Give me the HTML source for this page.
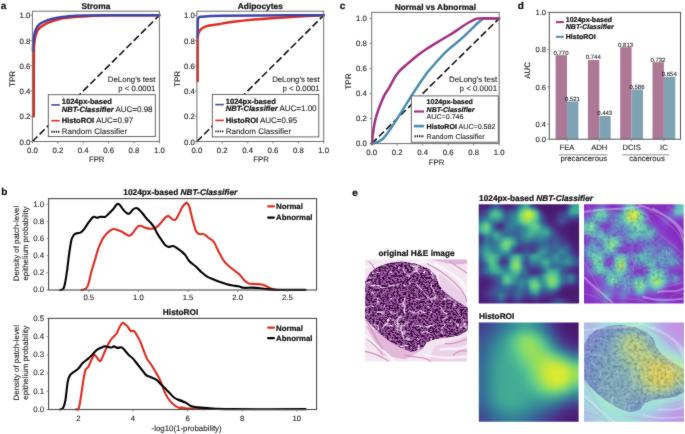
<!DOCTYPE html><html><head><meta charset="utf-8"><style>html,body{margin:0;padding:0;background:#fff;}svg{display:block;will-change:transform;}text{font-family:"Liberation Sans", sans-serif;text-rendering:geometricPrecision;}text{stroke:#222;stroke-width:0.1px;}text[font-weight="bold"],tspan[font-weight="bold"]{stroke:#111;stroke-width:0.22px;}</style></head><body>
<svg width="685" height="434" viewBox="0 0 685 434">
<defs><filter id="soft" x="0" y="0" width="685" height="434" filterUnits="userSpaceOnUse" color-interpolation-filters="sRGB"><feConvolveMatrix order="3" kernelMatrix="0.25 0.6 0.25 0.6 7 0.6 0.25 0.6 0.25" divisor="10.4" edgeMode="duplicate" preserveAlpha="false"/></filter></defs>
<g filter="url(#soft)">
<rect width="685" height="434" fill="#fff"/>
<line x1="32.4" y1="141.5" x2="159.4" y2="15.3" stroke="#111" stroke-width="1.6" stroke-dasharray="7.1,3.1"/>
<path d="M33.8,116.26 C33.8,107.85 33.78,76.3 33.8,65.78 C33.82,55.26 33.86,56.74 33.92,53.16 C33.99,49.58 33.92,47.19 34.18,44.33 C34.43,41.47 34.6,38.69 35.45,36 C36.29,33.3 37.1,30.4 39.26,28.17 C41.42,25.94 45.35,24.07 48.4,22.62 C51.45,21.17 54.46,20.28 57.55,19.46 C60.64,18.64 61.5,18.29 66.94,17.7 C72.38,17.11 83.24,16.33 90.19,15.93 C97.13,15.53 97.06,15.41 108.6,15.3 C120.14,15.19 150.93,15.3 159.4,15.3" fill="none" stroke="#e12b1d" stroke-width="2.5" stroke-linejoin="round" stroke-linecap="round" />
<path d="M32.91,50.64 C32.99,48.95 33.23,42.83 33.42,40.54 C33.61,38.25 33.71,38.56 34.05,36.88 C34.39,35.2 34.58,32.53 35.45,30.44 C36.32,28.36 37.1,26.15 39.26,24.39 C41.42,22.62 45.35,20.96 48.4,19.84 C51.45,18.73 54.46,18.27 57.55,17.7 C60.64,17.13 62.67,16.79 66.94,16.44 C71.22,16.08 74.14,15.74 83.2,15.55 C92.26,15.36 108.6,15.34 121.3,15.3 C134,15.26 153.05,15.3 159.4,15.3" fill="none" stroke="#3b44ad" stroke-width="2.5" stroke-linejoin="round" stroke-linecap="round" />
<rect x="32.4" y="11.2" width="127" height="130.3" fill="none" stroke="#6e6e6e" stroke-width="1"/>
<line x1="32.4" y1="141.5" x2="32.4" y2="143.5" stroke="#6e6e6e" stroke-width="0.8"/>
<text x="32.4" y="152.6" font-size="7.8" text-anchor="middle" fill="#1c1c1c" >0.0</text>
<line x1="57.8" y1="141.5" x2="57.8" y2="143.5" stroke="#6e6e6e" stroke-width="0.8"/>
<text x="57.8" y="152.6" font-size="7.8" text-anchor="middle" fill="#1c1c1c" >0.2</text>
<line x1="83.2" y1="141.5" x2="83.2" y2="143.5" stroke="#6e6e6e" stroke-width="0.8"/>
<text x="83.2" y="152.6" font-size="7.8" text-anchor="middle" fill="#1c1c1c" >0.4</text>
<line x1="108.6" y1="141.5" x2="108.6" y2="143.5" stroke="#6e6e6e" stroke-width="0.8"/>
<text x="108.6" y="152.6" font-size="7.8" text-anchor="middle" fill="#1c1c1c" >0.6</text>
<line x1="134" y1="141.5" x2="134" y2="143.5" stroke="#6e6e6e" stroke-width="0.8"/>
<text x="134" y="152.6" font-size="7.8" text-anchor="middle" fill="#1c1c1c" >0.8</text>
<line x1="159.4" y1="141.5" x2="159.4" y2="143.5" stroke="#6e6e6e" stroke-width="0.8"/>
<text x="159.4" y="152.6" font-size="7.8" text-anchor="middle" fill="#1c1c1c" >1.0</text>
<line x1="30.4" y1="141.5" x2="32.4" y2="141.5" stroke="#6e6e6e" stroke-width="0.8"/>
<text x="30.4" y="144.6" font-size="7.8" text-anchor="end" fill="#1c1c1c" >0.0</text>
<line x1="30.4" y1="116.26" x2="32.4" y2="116.26" stroke="#6e6e6e" stroke-width="0.8"/>
<text x="30.4" y="119.36" font-size="7.8" text-anchor="end" fill="#1c1c1c" >0.2</text>
<line x1="30.4" y1="91.02" x2="32.4" y2="91.02" stroke="#6e6e6e" stroke-width="0.8"/>
<text x="30.4" y="94.12" font-size="7.8" text-anchor="end" fill="#1c1c1c" >0.4</text>
<line x1="30.4" y1="65.78" x2="32.4" y2="65.78" stroke="#6e6e6e" stroke-width="0.8"/>
<text x="30.4" y="68.88" font-size="7.8" text-anchor="end" fill="#1c1c1c" >0.6</text>
<line x1="30.4" y1="40.54" x2="32.4" y2="40.54" stroke="#6e6e6e" stroke-width="0.8"/>
<text x="30.4" y="43.64" font-size="7.8" text-anchor="end" fill="#1c1c1c" >0.8</text>
<line x1="30.4" y1="15.3" x2="32.4" y2="15.3" stroke="#6e6e6e" stroke-width="0.8"/>
<text x="30.4" y="18.4" font-size="7.8" text-anchor="end" fill="#1c1c1c" >1.0</text>
<text x="95.9" y="9.3" font-size="8.4" text-anchor="middle" font-weight="bold" fill="#111" >Stroma</text>
<text x="96.7" y="162" font-size="7.8" text-anchor="middle" fill="#1c1c1c" >FPR</text>
<text transform="translate(15.1,78.9) rotate(-90)" font-size="8.1" text-anchor="middle" fill="#1c1c1c">TPR</text>
<text x="155.4" y="81.9" font-size="7.8" text-anchor="end" fill="#1c1c1c" >DeLong&#8217;s test</text>
<text x="155.4" y="90.9" font-size="7.8" text-anchor="end" fill="#1c1c1c" >p &lt; 0.0001</text>
<rect x="48.3" y="94.7" width="107" height="41.9" fill="#fff" stroke="#555" stroke-width="0.9"/>
<line x1="51.3" y1="104.9" x2="59.8" y2="104.9" stroke="#3b44ad" stroke-width="1.6"/>
<text x="61.7" y="103.9" font-size="7.6" text-anchor="start" font-weight="bold" fill="#111" >1024px-based</text>
<text x="61.7" y="111.6" font-size="7.6" fill="#111"><tspan font-weight="bold" font-style="italic">NBT-Classifier</tspan><tspan fill="#1c1c1c" font-size="8"> AUC=0.98</tspan></text>
<line x1="51.3" y1="120.7" x2="59.8" y2="120.7" stroke="#e12b1d" stroke-width="1.6"/>
<text x="61.7" y="123.2" font-size="7.6" fill="#111"><tspan font-weight="bold">HistoROI</tspan><tspan fill="#1c1c1c" font-size="8"> AUC=0.97</tspan></text>
<line x1="51.3" y1="131.7" x2="59.8" y2="131.7" stroke="#111" stroke-width="1.9" stroke-dasharray="1.3,0.95"/>
<text x="61.7" y="134.2" font-size="8.0" text-anchor="start" fill="#1c1c1c" >Random Classifier</text>
<line x1="196.9" y1="141.5" x2="323.7" y2="15.3" stroke="#111" stroke-width="1.6" stroke-dasharray="7.1,3.1"/>
<path d="M197.66,80.92 C197.66,74.19 197.62,48.01 197.66,40.54 C197.7,33.07 197.79,37.34 197.91,36.12 C198.04,34.9 198.02,34.23 198.42,33.22 C198.82,32.21 199.56,30.97 200.32,30.07 C201.08,29.16 201.78,28.49 202.99,27.79 C204.19,27.1 205.54,26.43 207.55,25.9 C209.56,25.37 212.62,25.02 215.03,24.64 C217.44,24.26 218.96,24.09 222.01,23.63 C225.05,23.17 227.94,22.54 233.29,21.86 C238.64,21.19 247.75,20.2 254.09,19.59 C260.43,18.98 263.96,18.71 271.33,18.2 C278.71,17.7 289.61,17.05 298.34,16.56 C307.07,16.08 319.47,15.51 323.7,15.3" fill="none" stroke="#e12b1d" stroke-width="2.5" stroke-linejoin="round" stroke-linecap="round" />
<path d="M197.66,36.75 C197.68,34.23 197.66,24.72 197.79,21.61 C197.91,18.5 198,18.9 198.42,18.08 C198.84,17.26 198.34,17.02 200.32,16.69 C202.31,16.35 206.73,16.23 210.34,16.06 C213.95,15.89 213.68,15.78 222.01,15.68 C230.33,15.57 243.35,15.49 260.3,15.43 C277.25,15.36 313.13,15.32 323.7,15.3" fill="none" stroke="#3b44ad" stroke-width="2.5" stroke-linejoin="round" stroke-linecap="round" />
<rect x="196.9" y="11.2" width="126.8" height="130.3" fill="none" stroke="#6e6e6e" stroke-width="1"/>
<line x1="196.9" y1="141.5" x2="196.9" y2="143.5" stroke="#6e6e6e" stroke-width="0.8"/>
<text x="196.9" y="152.6" font-size="7.8" text-anchor="middle" fill="#1c1c1c" >0.0</text>
<line x1="222.26" y1="141.5" x2="222.26" y2="143.5" stroke="#6e6e6e" stroke-width="0.8"/>
<text x="222.26" y="152.6" font-size="7.8" text-anchor="middle" fill="#1c1c1c" >0.2</text>
<line x1="247.62" y1="141.5" x2="247.62" y2="143.5" stroke="#6e6e6e" stroke-width="0.8"/>
<text x="247.62" y="152.6" font-size="7.8" text-anchor="middle" fill="#1c1c1c" >0.4</text>
<line x1="272.98" y1="141.5" x2="272.98" y2="143.5" stroke="#6e6e6e" stroke-width="0.8"/>
<text x="272.98" y="152.6" font-size="7.8" text-anchor="middle" fill="#1c1c1c" >0.6</text>
<line x1="298.34" y1="141.5" x2="298.34" y2="143.5" stroke="#6e6e6e" stroke-width="0.8"/>
<text x="298.34" y="152.6" font-size="7.8" text-anchor="middle" fill="#1c1c1c" >0.8</text>
<line x1="323.7" y1="141.5" x2="323.7" y2="143.5" stroke="#6e6e6e" stroke-width="0.8"/>
<text x="323.7" y="152.6" font-size="7.8" text-anchor="middle" fill="#1c1c1c" >1.0</text>
<line x1="194.9" y1="141.5" x2="196.9" y2="141.5" stroke="#6e6e6e" stroke-width="0.8"/>
<text x="194.9" y="144.6" font-size="7.8" text-anchor="end" fill="#1c1c1c" >0.0</text>
<line x1="194.9" y1="116.26" x2="196.9" y2="116.26" stroke="#6e6e6e" stroke-width="0.8"/>
<text x="194.9" y="119.36" font-size="7.8" text-anchor="end" fill="#1c1c1c" >0.2</text>
<line x1="194.9" y1="91.02" x2="196.9" y2="91.02" stroke="#6e6e6e" stroke-width="0.8"/>
<text x="194.9" y="94.12" font-size="7.8" text-anchor="end" fill="#1c1c1c" >0.4</text>
<line x1="194.9" y1="65.78" x2="196.9" y2="65.78" stroke="#6e6e6e" stroke-width="0.8"/>
<text x="194.9" y="68.88" font-size="7.8" text-anchor="end" fill="#1c1c1c" >0.6</text>
<line x1="194.9" y1="40.54" x2="196.9" y2="40.54" stroke="#6e6e6e" stroke-width="0.8"/>
<text x="194.9" y="43.64" font-size="7.8" text-anchor="end" fill="#1c1c1c" >0.8</text>
<line x1="194.9" y1="15.3" x2="196.9" y2="15.3" stroke="#6e6e6e" stroke-width="0.8"/>
<text x="194.9" y="18.4" font-size="7.8" text-anchor="end" fill="#1c1c1c" >1.0</text>
<text x="260.3" y="9.3" font-size="8.4" text-anchor="middle" font-weight="bold" fill="#111" >Adipocytes</text>
<text x="261.1" y="162" font-size="7.8" text-anchor="middle" fill="#1c1c1c" >FPR</text>
<text transform="translate(179.6,78.9) rotate(-90)" font-size="8.1" text-anchor="middle" fill="#1c1c1c">TPR</text>
<text x="319.7" y="81.9" font-size="7.8" text-anchor="end" fill="#1c1c1c" >DeLong&#8217;s test</text>
<text x="319.7" y="90.9" font-size="7.8" text-anchor="end" fill="#1c1c1c" >p &lt; 0.0001</text>
<rect x="212.3" y="94.4" width="106.5" height="42.5" fill="#fff" stroke="#555" stroke-width="0.9"/>
<line x1="215.3" y1="104.6" x2="223.8" y2="104.6" stroke="#3b44ad" stroke-width="1.6"/>
<text x="225.7" y="103.6" font-size="7.6" text-anchor="start" font-weight="bold" fill="#111" >1024px-based</text>
<text x="225.7" y="111.3" font-size="7.6" fill="#111"><tspan font-weight="bold" font-style="italic">NBT-Classifier</tspan><tspan fill="#1c1c1c" font-size="8"> AUC=1.00</tspan></text>
<line x1="215.3" y1="120.4" x2="223.8" y2="120.4" stroke="#e12b1d" stroke-width="1.6"/>
<text x="225.7" y="122.9" font-size="7.6" fill="#111"><tspan font-weight="bold">HistoROI</tspan><tspan fill="#1c1c1c" font-size="8"> AUC=0.95</tspan></text>
<line x1="215.3" y1="131.4" x2="223.8" y2="131.4" stroke="#111" stroke-width="1.9" stroke-dasharray="1.3,0.95"/>
<text x="225.7" y="133.9" font-size="8.0" text-anchor="start" fill="#1c1c1c" >Random Classifier</text>
<text x="0.8" y="9.2" font-size="10.0" text-anchor="start" font-weight="bold" fill="#111" >a</text>
<text x="339.8" y="9.2" font-size="10.0" text-anchor="start" font-weight="bold" fill="#111" >c</text>
<text x="517.8" y="9.2" font-size="10.0" text-anchor="start" font-weight="bold" fill="#111" >d</text>
<text x="1.2" y="194.8" font-size="10.0" text-anchor="start" font-weight="bold" fill="#111" >b</text>
<text x="352.3" y="195.5" font-size="10.0" text-anchor="start" font-weight="bold" fill="#111" >e</text>
<line x1="371.7" y1="143.6" x2="499.2" y2="18.4" stroke="#111" stroke-width="1.6" stroke-dasharray="7.1,3.1"/>
<path d="M371.7,143.6 C371.81,143.58 371.27,143.77 372.34,143.47 C373.4,143.18 376.31,142.64 378.07,141.85 C379.84,141.05 381.33,140.18 382.92,138.72 C384.51,137.26 385.77,135.63 387.64,133.08 C389.51,130.54 391.7,127.2 394.14,123.44 C396.58,119.69 399.6,114.85 402.3,110.55 C405,106.25 407.65,101.87 410.33,97.65 C413.01,93.44 415.67,89.28 418.37,85.26 C421.06,81.23 424.59,76.14 426.52,73.49 C428.46,70.84 428.03,71.61 429.97,69.36 C431.9,67.1 435.43,62.93 438.13,59.97 C440.83,57 443.48,54.12 446.16,51.58 C448.84,49.03 451.49,46.99 454.19,44.69 C456.89,42.4 459.67,40.21 462.35,37.81 C465.03,35.41 467.58,32.84 470.26,30.29 C472.94,27.75 476.25,24.45 478.42,22.53 C480.59,20.61 482.03,19.46 483.26,18.78 C484.5,18.09 483.16,18.46 485.81,18.4 C488.47,18.34 496.97,18.4 499.2,18.4" fill="none" stroke="#4a8db0" stroke-width="2.5" stroke-linejoin="round" stroke-linecap="round" />
<path d="M371.7,143.6 C371.74,143.45 371.76,144.21 371.95,142.72 C372.15,141.24 372.51,137.4 372.85,134.71 C373.19,132.02 373.53,129.26 374,126.57 C374.46,123.88 374.97,121.23 375.65,118.56 C376.33,115.89 377.14,113.24 378.07,110.55 C379.01,107.86 380.2,104.98 381.26,102.41 C382.32,99.84 383.09,97.67 384.45,95.15 C385.81,92.62 387.81,90.04 389.42,87.26 C391.04,84.48 392.55,81.1 394.14,78.5 C395.73,75.89 396.82,74.01 398.99,71.61 C401.15,69.21 403.91,66.91 407.14,64.1 C410.38,61.28 415.13,57.23 418.37,54.71 C421.6,52.18 423.23,51.1 426.52,48.95 C429.82,46.8 434.86,43.79 438.13,41.81 C441.4,39.83 443.48,38.66 446.16,37.05 C448.84,35.45 451.49,33.92 454.19,32.17 C456.89,30.42 459.93,28.14 462.35,26.54 C464.77,24.93 466.58,23.74 468.73,22.53 C470.87,21.32 473.55,19.97 475.23,19.28 C476.91,18.59 474.8,18.55 478.8,18.4 C482.79,18.25 495.8,18.4 499.2,18.4" fill="none" stroke="#a22f7f" stroke-width="2.5" stroke-linejoin="round" stroke-linecap="round" />
<rect x="371.7" y="12.4" width="127.5" height="131.2" fill="none" stroke="#6e6e6e" stroke-width="1"/>
<line x1="371.7" y1="143.6" x2="371.7" y2="145.6" stroke="#6e6e6e" stroke-width="0.8"/>
<text x="371.7" y="154.6" font-size="7.8" text-anchor="middle" fill="#1c1c1c" >0.0</text>
<line x1="397.2" y1="143.6" x2="397.2" y2="145.6" stroke="#6e6e6e" stroke-width="0.8"/>
<text x="397.2" y="154.6" font-size="7.8" text-anchor="middle" fill="#1c1c1c" >0.2</text>
<line x1="422.7" y1="143.6" x2="422.7" y2="145.6" stroke="#6e6e6e" stroke-width="0.8"/>
<text x="422.7" y="154.6" font-size="7.8" text-anchor="middle" fill="#1c1c1c" >0.4</text>
<line x1="448.2" y1="143.6" x2="448.2" y2="145.6" stroke="#6e6e6e" stroke-width="0.8"/>
<text x="448.2" y="154.6" font-size="7.8" text-anchor="middle" fill="#1c1c1c" >0.6</text>
<line x1="473.7" y1="143.6" x2="473.7" y2="145.6" stroke="#6e6e6e" stroke-width="0.8"/>
<text x="473.7" y="154.6" font-size="7.8" text-anchor="middle" fill="#1c1c1c" >0.8</text>
<line x1="499.2" y1="143.6" x2="499.2" y2="145.6" stroke="#6e6e6e" stroke-width="0.8"/>
<text x="499.2" y="154.6" font-size="7.8" text-anchor="middle" fill="#1c1c1c" >1.0</text>
<line x1="369.7" y1="143.6" x2="371.7" y2="143.6" stroke="#6e6e6e" stroke-width="0.8"/>
<text x="366.8" y="146.4" font-size="7.8" text-anchor="end" fill="#1c1c1c" >0.0</text>
<line x1="369.7" y1="118.56" x2="371.7" y2="118.56" stroke="#6e6e6e" stroke-width="0.8"/>
<text x="366.8" y="121.36" font-size="7.8" text-anchor="end" fill="#1c1c1c" >0.2</text>
<line x1="369.7" y1="93.52" x2="371.7" y2="93.52" stroke="#6e6e6e" stroke-width="0.8"/>
<text x="366.8" y="96.32" font-size="7.8" text-anchor="end" fill="#1c1c1c" >0.4</text>
<line x1="369.7" y1="68.48" x2="371.7" y2="68.48" stroke="#6e6e6e" stroke-width="0.8"/>
<text x="366.8" y="71.28" font-size="7.8" text-anchor="end" fill="#1c1c1c" >0.6</text>
<line x1="369.7" y1="43.44" x2="371.7" y2="43.44" stroke="#6e6e6e" stroke-width="0.8"/>
<text x="366.8" y="46.24" font-size="7.8" text-anchor="end" fill="#1c1c1c" >0.8</text>
<line x1="369.7" y1="18.4" x2="371.7" y2="18.4" stroke="#6e6e6e" stroke-width="0.8"/>
<text x="366.8" y="21.2" font-size="7.8" text-anchor="end" fill="#1c1c1c" >1.0</text>
<text x="435.4" y="9.9" font-size="8.35" text-anchor="middle" font-weight="bold" fill="#111" >Normal vs Abnormal</text>
<text x="436.65" y="164.8" font-size="7.8" text-anchor="middle" fill="#1c1c1c" >FPR</text>
<text transform="translate(351.4,81.5) rotate(-90)" font-size="8.1" text-anchor="middle" fill="#1c1c1c">TPR</text>
<text x="497.1" y="82.2" font-size="7.9" text-anchor="end" fill="#1c1c1c" >DeLong&#8217;s test</text>
<text x="497.1" y="90.7" font-size="7.9" text-anchor="end" fill="#1c1c1c" >p &lt; 0.0001</text>
<rect x="411.3" y="95.9" width="87" height="46.3" fill="#fff" stroke="#555" stroke-width="0.9"/>
<line x1="413.9" y1="111.5" x2="424" y2="111.5" stroke="#a22f7f" stroke-width="2.2"/>
<line x1="413.9" y1="126.1" x2="424" y2="126.1" stroke="#4a8db0" stroke-width="2.6"/>
<line x1="414.5" y1="136.2" x2="424" y2="136.2" stroke="#111" stroke-width="1.9" stroke-dasharray="1.3,0.95"/>
<text x="426.6" y="104.1" font-size="7.0" text-anchor="start" font-weight="bold" fill="#111" >1024px-based</text>
<text x="426.6" y="111.6" font-size="7.0" text-anchor="start" font-weight="bold" font-style="italic" fill="#111" >NBT-Classifier</text>
<text x="426.6" y="119.1" font-size="7.1" text-anchor="start" fill="#1c1c1c" >AUC=0.746</text>
<text x="426.6" y="128.9" font-size="7.1" fill="#111"><tspan font-weight="bold">HistoROI</tspan><tspan fill="#1c1c1c"> AUC=0.582</tspan></text>
<text x="426.6" y="138.5" font-size="7.1" text-anchor="start" fill="#1c1c1c" >Random Classifier</text>
<rect x="555.6" y="55.18" width="11.4" height="84.02" fill="#ad7896"/>
<rect x="567" y="101.49" width="11.4" height="37.71" fill="#80a3b4"/>
<text x="561" y="54.58" font-size="6.0" text-anchor="middle" fill="#1c1c1c" >0.770</text>
<text x="572.4" y="100.89" font-size="6.0" text-anchor="middle" fill="#1c1c1c" >0.521</text>
<rect x="587.9" y="60.02" width="11.4" height="79.18" fill="#ad7896"/>
<rect x="599.3" y="116" width="11.4" height="23.2" fill="#80a3b4"/>
<text x="593.3" y="59.42" font-size="6.0" text-anchor="middle" fill="#1c1c1c" >0.744</text>
<text x="604.7" y="115.4" font-size="6.0" text-anchor="middle" fill="#1c1c1c" >0.443</text>
<rect x="620.2" y="47.18" width="11.4" height="92.02" fill="#ad7896"/>
<rect x="631.6" y="89.4" width="11.4" height="49.8" fill="#80a3b4"/>
<text x="625.6" y="46.58" font-size="6.0" text-anchor="middle" fill="#1c1c1c" >0.813</text>
<text x="637" y="88.8" font-size="6.0" text-anchor="middle" fill="#1c1c1c" >0.586</text>
<rect x="652.5" y="62.25" width="11.4" height="76.95" fill="#ad7896"/>
<rect x="663.9" y="76.76" width="11.4" height="62.44" fill="#80a3b4"/>
<text x="657.9" y="61.65" font-size="6.0" text-anchor="middle" fill="#1c1c1c" >0.732</text>
<text x="669.3" y="76.16" font-size="6.0" text-anchor="middle" fill="#1c1c1c" >0.654</text>
<rect x="549.3" y="12.4" width="131.2" height="126.8" fill="none" stroke="#555" stroke-width="1"/>
<line x1="547.3" y1="12.4" x2="549.3" y2="12.4" stroke="#6e6e6e" stroke-width="0.8"/>
<text x="546.1" y="15.1" font-size="7.6" text-anchor="end" fill="#1c1c1c" >1.0</text>
<line x1="547.3" y1="49.6" x2="549.3" y2="49.6" stroke="#6e6e6e" stroke-width="0.8"/>
<text x="546.1" y="52.3" font-size="7.6" text-anchor="end" fill="#1c1c1c" >0.8</text>
<line x1="547.3" y1="86.8" x2="549.3" y2="86.8" stroke="#6e6e6e" stroke-width="0.8"/>
<text x="546.1" y="89.5" font-size="7.6" text-anchor="end" fill="#1c1c1c" >0.6</text>
<line x1="547.3" y1="124" x2="549.3" y2="124" stroke="#6e6e6e" stroke-width="0.8"/>
<text x="546.1" y="126.7" font-size="7.6" text-anchor="end" fill="#1c1c1c" >0.4</text>
<line x1="547.3" y1="139.2" x2="549.3" y2="139.2" stroke="#6e6e6e" stroke-width="0.8"/>
<text x="546.1" y="141.9" font-size="7.6" text-anchor="end" fill="#1c1c1c" >0.0</text>
<line x1="567" y1="139.2" x2="567" y2="141.2" stroke="#6e6e6e" stroke-width="0.8"/>
<text x="567" y="150.3" font-size="7.7" text-anchor="middle" fill="#1c1c1c" >FEA</text>
<line x1="599.3" y1="139.2" x2="599.3" y2="141.2" stroke="#6e6e6e" stroke-width="0.8"/>
<text x="599.3" y="150.3" font-size="7.7" text-anchor="middle" fill="#1c1c1c" >ADH</text>
<line x1="631.6" y1="139.2" x2="631.6" y2="141.2" stroke="#6e6e6e" stroke-width="0.8"/>
<text x="631.6" y="150.3" font-size="7.7" text-anchor="middle" fill="#1c1c1c" >DCIS</text>
<line x1="663.9" y1="139.2" x2="663.9" y2="141.2" stroke="#6e6e6e" stroke-width="0.8"/>
<text x="663.9" y="150.3" font-size="7.7" text-anchor="middle" fill="#1c1c1c" >IC</text>
<line x1="558.9" y1="154.7" x2="607.5" y2="154.7" stroke="#b4b4b4" stroke-width="1.5"/>
<line x1="622.1" y1="154.7" x2="669.4" y2="154.7" stroke="#b4b4b4" stroke-width="1.5"/>
<text x="583.8" y="161.2" font-size="7.7" text-anchor="middle" fill="#1c1c1c" >precancerous</text>
<text x="647" y="161.2" font-size="7.7" text-anchor="middle" fill="#1c1c1c" >cancerous</text>
<text transform="translate(530.0,70.5) rotate(-90)" font-size="7.9" text-anchor="middle" fill="#1c1c1c">AUC</text>
<line x1="555.9" y1="22.1" x2="563.8" y2="22.1" stroke="#a22f7f" stroke-width="2"/>
<line x1="555.9" y1="36.8" x2="563.8" y2="36.8" stroke="#4a8db0" stroke-width="2"/>
<text x="565.8" y="21.6" font-size="7.0" text-anchor="start" font-weight="bold" fill="#111" >1024px-based</text>
<text x="565.8" y="29.3" font-size="7.0" text-anchor="start" font-weight="bold" font-style="italic" fill="#111" >NBT-Classifier</text>
<text x="565.8" y="39" font-size="7.0" text-anchor="start" font-weight="bold" fill="#111" >HistoROI</text>
<path d="M81.55,290.06 C82.3,289.8 84.9,289.42 86.02,288.49 C87.14,287.56 87.33,287.37 88.26,284.47 C89.19,281.56 90.5,275.15 91.61,271.05 C92.73,266.95 93.85,263.59 94.97,259.86 C96.09,256.13 97.02,252.22 98.32,248.68 C99.63,245.14 101.31,241.22 102.8,238.61 C104.29,236 105.97,234.4 107.27,233.02 C108.58,231.64 109.51,231.01 110.63,230.34 C111.74,229.67 112.49,228.92 113.98,229 C115.47,229.07 117.89,230.12 119.57,230.79 C121.25,231.46 122.55,232.2 124.05,233.02 C125.54,233.84 127.21,235.52 128.52,235.71 C129.82,235.89 130.76,235.15 131.87,234.14 C132.99,233.13 134.11,231.05 135.23,229.67 C136.35,228.29 137.47,226.42 138.58,225.87 C139.7,225.31 140.63,225.94 141.94,226.31 C143.24,226.69 144.55,227.73 146.41,228.1 C148.28,228.47 151.26,228.85 153.12,228.55 C154.99,228.25 156.1,227.51 157.6,226.31 C159.09,225.12 160.76,222.88 162.07,221.39 C163.37,219.9 164.31,218.22 165.42,217.37 C166.54,216.51 167.66,215.95 168.78,216.25 C169.9,216.55 171.01,218.6 172.13,219.16 C173.25,219.71 174.37,220.46 175.49,219.6 C176.61,218.75 177.72,216.06 178.84,214.01 C179.96,211.96 181.08,209.05 182.2,207.3 C183.32,205.55 184.76,204.24 185.55,203.5 C186.34,202.75 186.34,202.38 186.95,202.83 C187.55,203.28 188.25,203.39 189.18,206.18 C190.12,208.98 191.42,215.5 192.54,219.6 C193.66,223.7 194.77,228.36 195.89,230.79 C197.01,233.21 197.94,233.58 199.25,234.14 C200.55,234.7 202.23,233.58 203.72,234.14 C205.21,234.7 206.52,236.19 208.19,237.5 C209.87,238.8 212.11,239.73 213.79,241.97 C215.46,244.21 216.58,247.75 218.26,250.92 C219.94,254.08 221.99,258.37 223.85,260.98 C225.71,263.59 227.58,264.89 229.44,266.57 C231.31,268.25 233.36,269.74 235.03,271.05 C236.71,272.35 238.02,272.91 239.51,274.4 C241,275.89 242.49,278.5 243.98,279.99 C245.47,281.48 246.78,282.68 248.45,283.35 C250.13,284.02 251.81,283.83 254.05,284.02 C256.28,284.2 259.82,284.09 261.87,284.47 C263.92,284.84 264.86,285.58 266.35,286.25 C267.84,286.93 269.14,287.89 270.82,288.49 C272.5,289.09 274.36,289.57 276.41,289.83 C278.46,290.09 282,290.02 283.12,290.06" fill="none" stroke="#e12b1d" stroke-width="2.1" stroke-linejoin="round" stroke-linecap="round" />
<path d="M60.3,290.06 C60.79,289.87 62.46,289.87 63.21,288.94 C63.95,288.01 64.14,287.45 64.77,284.47 C65.41,281.48 66.27,276.26 67.01,271.05 C67.76,265.83 68.5,258.37 69.25,253.15 C69.99,247.93 70.74,242.71 71.48,239.73 C72.23,236.75 72.98,236.3 73.72,235.26 C74.47,234.22 74.84,233.92 75.96,233.47 C77.08,233.02 79.13,233.21 80.43,232.58 C81.74,231.94 82.48,231.27 83.79,229.67 C85.09,228.06 86.77,225.01 88.26,222.96 C89.75,220.91 91.61,218.37 92.73,217.37 C93.85,216.36 94.22,216.84 94.97,216.92 C95.71,216.99 96.27,217.85 97.21,217.81 C98.14,217.78 99.26,216.84 100.56,216.7 C101.87,216.55 103.73,217.37 105.03,216.92 C106.34,216.47 107.08,215.24 108.39,214.01 C109.69,212.78 111.56,211.03 112.86,209.54 C114.17,208.05 115.29,206 116.22,205.06 C117.15,204.13 117.71,203.76 118.45,203.95 C119.2,204.13 119.76,205.06 120.69,206.18 C121.62,207.3 122.93,209.43 124.05,210.66 C125.16,211.89 126.47,213.12 127.4,213.56 C128.33,214.01 128.71,214.01 129.64,213.34 C130.57,212.67 131.87,210.43 132.99,209.54 C134.11,208.64 135.23,207.86 136.35,207.97 C137.47,208.08 138.58,209.2 139.7,210.21 C140.82,211.22 141.94,212.63 143.06,214.01 C144.18,215.39 145.11,216.99 146.41,218.48 C147.72,219.98 149.58,221.47 150.89,222.96 C152.19,224.45 153.12,225.57 154.24,227.43 C155.36,229.3 156.29,231.9 157.6,234.14 C158.9,236.38 160.76,238.99 162.07,240.85 C163.37,242.71 164.31,244.32 165.42,245.32 C166.54,246.33 167.47,246.78 168.78,246.89 C170.08,247 171.76,245.7 173.25,246 C174.74,246.29 176.23,247.67 177.72,248.68 C179.22,249.69 180.89,250.92 182.2,252.03 C183.5,253.15 184.39,253.9 185.55,255.39 C186.72,256.88 187.46,259.12 189.18,260.98 C190.91,262.84 193.84,264.71 195.89,266.57 C197.94,268.44 199.62,270.49 201.48,272.16 C203.35,273.84 205.03,275.41 207.08,276.64 C209.13,277.87 211.74,278.69 213.79,279.54 C215.84,280.4 217.33,281.04 219.38,281.78 C221.43,282.53 223.85,283.38 226.09,284.02 C228.32,284.65 230.75,285.21 232.8,285.58 C234.85,285.96 236.53,285.88 238.39,286.25 C240.25,286.63 241.74,287.6 243.98,287.82 C246.22,288.04 249.39,287.56 251.81,287.6 C254.23,287.63 256.28,287.82 258.52,288.04 C260.76,288.27 262.99,288.68 265.23,288.94 C267.47,289.2 268.96,289.46 271.94,289.61 C274.92,289.76 277.53,289.8 283.12,289.83 C288.71,289.87 301.76,289.83 305.49,289.83" fill="none" stroke="#000" stroke-width="2.1" stroke-linejoin="round" stroke-linecap="round" />
<rect x="48.6" y="198.6" width="268" height="91.4" fill="none" stroke="#4a4a4a" stroke-width="1.1"/>
<line x1="88.75" y1="290" x2="88.75" y2="292" stroke="#6e6e6e" stroke-width="0.8"/>
<text x="88.75" y="300.4" font-size="7.7" text-anchor="middle" fill="#1c1c1c" >0.5</text>
<line x1="138.4" y1="290" x2="138.4" y2="292" stroke="#6e6e6e" stroke-width="0.8"/>
<text x="138.4" y="300.4" font-size="7.7" text-anchor="middle" fill="#1c1c1c" >1.0</text>
<line x1="188.05" y1="290" x2="188.05" y2="292" stroke="#6e6e6e" stroke-width="0.8"/>
<text x="188.05" y="300.4" font-size="7.7" text-anchor="middle" fill="#1c1c1c" >1.5</text>
<line x1="237.7" y1="290" x2="237.7" y2="292" stroke="#6e6e6e" stroke-width="0.8"/>
<text x="237.7" y="300.4" font-size="7.7" text-anchor="middle" fill="#1c1c1c" >2.0</text>
<line x1="287.35" y1="290" x2="287.35" y2="292" stroke="#6e6e6e" stroke-width="0.8"/>
<text x="287.35" y="300.4" font-size="7.7" text-anchor="middle" fill="#1c1c1c" >2.5</text>
<line x1="46.6" y1="290" x2="48.6" y2="290" stroke="#6e6e6e" stroke-width="0.8"/>
<text x="44.2" y="292.3" font-size="7.9" text-anchor="end" fill="#1c1c1c" >0.0</text>
<line x1="46.6" y1="272.84" x2="48.6" y2="272.84" stroke="#6e6e6e" stroke-width="0.8"/>
<text x="44.2" y="275.14" font-size="7.9" text-anchor="end" fill="#1c1c1c" >0.2</text>
<line x1="46.6" y1="255.68" x2="48.6" y2="255.68" stroke="#6e6e6e" stroke-width="0.8"/>
<text x="44.2" y="257.98" font-size="7.9" text-anchor="end" fill="#1c1c1c" >0.4</text>
<line x1="46.6" y1="238.52" x2="48.6" y2="238.52" stroke="#6e6e6e" stroke-width="0.8"/>
<text x="44.2" y="240.82" font-size="7.9" text-anchor="end" fill="#1c1c1c" >0.6</text>
<line x1="46.6" y1="221.36" x2="48.6" y2="221.36" stroke="#6e6e6e" stroke-width="0.8"/>
<text x="44.2" y="223.66" font-size="7.9" text-anchor="end" fill="#1c1c1c" >0.8</text>
<line x1="46.6" y1="204.2" x2="48.6" y2="204.2" stroke="#6e6e6e" stroke-width="0.8"/>
<text x="44.2" y="206.5" font-size="7.9" text-anchor="end" fill="#1c1c1c" >1.0</text>
<text x="180.3" y="194.6" font-size="8.3" text-anchor="middle" font-weight="bold" fill="#111">1024px-based <tspan font-style="italic">NBT-Classifier</tspan></text>
<line x1="268.2" y1="206.4" x2="273.8" y2="206.4" stroke="#e12b1d" stroke-width="2.3" stroke-linecap="round"/>
<line x1="268.2" y1="217.6" x2="273.8" y2="217.6" stroke="#000" stroke-width="2.3" stroke-linecap="round"/>
<text x="276" y="209.2" font-size="7.8" text-anchor="start" font-weight="bold" fill="#111" >Normal</text>
<text x="276" y="220.4" font-size="7.8" text-anchor="start" font-weight="bold" fill="#111" >Abnormal</text>
<text transform="translate(19.0,243.5) rotate(-90)" font-size="7.9" text-anchor="middle" fill="#1c1c1c">Density of patch-level</text>
<text transform="translate(28.2,243.5) rotate(-90)" font-size="7.9" text-anchor="middle" fill="#1c1c1c">epithelium probability</text>
<path d="M75.96,409.39 C76.44,409.13 78.01,410.13 78.87,407.82 C79.72,405.51 80.28,400.55 81.1,395.52 C81.92,390.49 83.04,381.91 83.79,377.63 C84.53,373.34 84.83,371.59 85.58,369.8 C86.32,368.01 87.44,368.19 88.26,366.89 C89.08,365.59 89.56,363.91 90.5,361.97 C91.43,360.03 92.92,356.19 93.85,355.26 C94.78,354.33 95.34,355.63 96.09,356.38 C96.83,357.12 97.58,358.99 98.32,359.73 C99.07,360.48 99.82,361.41 100.56,360.85 C101.31,360.29 101.87,358.43 102.8,356.38 C103.73,354.33 105.03,350.97 106.15,348.55 C107.27,346.13 108.39,343.7 109.51,341.84 C110.63,339.98 111.74,338.67 112.86,337.37 C113.98,336.06 115.29,335.32 116.22,334.01 C117.15,332.71 117.71,331.03 118.45,329.54 C119.2,328.05 119.95,326.18 120.69,325.06 C121.44,323.95 122.18,322.94 122.93,322.83 C123.67,322.72 124.42,323.83 125.16,324.39 C125.91,324.95 126.47,325.06 127.4,326.18 C128.33,327.3 129.64,330.28 130.76,331.1 C131.87,331.92 132.99,330.25 134.11,331.1 C135.23,331.96 136.35,334.27 137.47,336.25 C138.58,338.22 139.7,340.35 140.82,342.96 C141.94,345.57 143.06,349.11 144.18,351.9 C145.29,354.7 146.41,357.68 147.53,359.73 C148.65,361.78 149.77,362.53 150.89,364.21 C152,365.88 153.12,367.93 154.24,369.8 C155.36,371.66 156.48,373.34 157.6,375.39 C158.71,377.44 159.83,379.49 160.95,382.1 C162.07,384.71 163.19,388.44 164.31,391.05 C165.42,393.66 166.36,395.71 167.66,397.76 C168.96,399.81 170.64,401.86 172.13,403.35 C173.62,404.84 175.12,405.84 176.61,406.7 C178.1,407.56 180.29,408.38 181.08,408.49 C181.87,408.6 180.38,407.37 181.35,407.37 C182.33,407.37 184.52,408.27 186.95,408.49 C189.37,408.72 192.91,408.6 195.89,408.72 C198.88,408.83 203.35,409.09 204.84,409.16" fill="none" stroke="#e12b1d" stroke-width="2.1" stroke-linejoin="round" stroke-linecap="round" />
<path d="M60.3,409.39 C60.79,409.13 62.35,409.39 63.21,407.82 C64.07,406.25 64.7,404.28 65.45,399.99 C66.19,395.71 66.94,386.2 67.68,382.1 C68.43,378 68.91,377.07 69.92,375.39 C70.93,373.71 72.34,373.15 73.72,372.03 C75.1,370.92 76.7,370.17 78.19,368.68 C79.69,367.19 80.99,364.77 82.67,363.09 C84.35,361.41 86.58,360.11 88.26,358.61 C89.94,357.12 91.24,355.63 92.73,354.14 C94.22,352.65 95.71,350.79 97.21,349.67 C98.7,348.55 100.37,347.99 101.68,347.43 C102.98,346.87 103.92,346.39 105.03,346.31 C106.15,346.24 107.27,346.8 108.39,346.98 C109.51,347.17 110.81,347.54 111.74,347.43 C112.68,347.32 113.05,346.24 113.98,346.31 C114.91,346.39 116.03,347.69 117.34,347.88 C118.64,348.06 120.5,346.95 121.81,347.43 C123.11,347.92 124.05,349.56 125.16,350.79 C126.28,352.02 127.21,353.51 128.52,354.81 C129.82,356.12 131.5,357.05 132.99,358.61 C134.48,360.18 135.97,362.34 137.47,364.21 C138.96,366.07 140.45,367.93 141.94,369.8 C143.43,371.66 144.92,374.16 146.41,375.39 C147.9,376.62 149.21,376.43 150.89,377.18 C152.56,377.92 154.8,378.67 156.48,379.86 C158.15,381.06 159.46,382.84 160.95,384.34 C162.44,385.83 163.93,387.32 165.42,388.81 C166.91,390.3 168.41,391.79 169.9,393.28 C171.39,394.77 172.69,396.53 174.37,397.76 C176.05,398.99 178.28,399.92 179.96,400.66 C181.64,401.41 184.76,402.42 184.43,402.23 C184.11,402.04 178.33,399.73 178,399.54 C177.67,399.36 180.98,400.48 182.47,401.11 C183.96,401.74 185.46,402.49 186.95,403.35 C188.44,404.2 189.56,405.58 191.42,406.25 C193.28,406.93 195.52,407.07 198.13,407.37 C200.74,407.67 204.09,407.82 207.08,408.04 C210.06,408.27 211.55,408.53 216.02,408.72 C220.5,408.9 219,409.09 233.92,409.16 C248.83,409.24 293.56,409.16 305.49,409.16" fill="none" stroke="#000" stroke-width="2.1" stroke-linejoin="round" stroke-linecap="round" />
<rect x="48.6" y="318.4" width="268" height="91.1" fill="none" stroke="#4a4a4a" stroke-width="1.1"/>
<line x1="78.4" y1="409.5" x2="78.4" y2="411.5" stroke="#6e6e6e" stroke-width="0.8"/>
<text x="78.4" y="420.5" font-size="7.7" text-anchor="middle" fill="#1c1c1c" >2</text>
<line x1="133" y1="409.5" x2="133" y2="411.5" stroke="#6e6e6e" stroke-width="0.8"/>
<text x="133" y="420.5" font-size="7.7" text-anchor="middle" fill="#1c1c1c" >4</text>
<line x1="187.6" y1="409.5" x2="187.6" y2="411.5" stroke="#6e6e6e" stroke-width="0.8"/>
<text x="187.6" y="420.5" font-size="7.7" text-anchor="middle" fill="#1c1c1c" >6</text>
<line x1="242.2" y1="409.5" x2="242.2" y2="411.5" stroke="#6e6e6e" stroke-width="0.8"/>
<text x="242.2" y="420.5" font-size="7.7" text-anchor="middle" fill="#1c1c1c" >8</text>
<line x1="296.8" y1="409.5" x2="296.8" y2="411.5" stroke="#6e6e6e" stroke-width="0.8"/>
<text x="296.8" y="420.5" font-size="7.7" text-anchor="middle" fill="#1c1c1c" >10</text>
<line x1="46.6" y1="409.5" x2="48.6" y2="409.5" stroke="#6e6e6e" stroke-width="0.8"/>
<text x="44.2" y="411.8" font-size="7.9" text-anchor="end" fill="#1c1c1c" >0.0</text>
<line x1="46.6" y1="391.28" x2="48.6" y2="391.28" stroke="#6e6e6e" stroke-width="0.8"/>
<text x="44.2" y="393.58" font-size="7.9" text-anchor="end" fill="#1c1c1c" >0.1</text>
<line x1="46.6" y1="373.06" x2="48.6" y2="373.06" stroke="#6e6e6e" stroke-width="0.8"/>
<text x="44.2" y="375.36" font-size="7.9" text-anchor="end" fill="#1c1c1c" >0.2</text>
<line x1="46.6" y1="354.84" x2="48.6" y2="354.84" stroke="#6e6e6e" stroke-width="0.8"/>
<text x="44.2" y="357.14" font-size="7.9" text-anchor="end" fill="#1c1c1c" >0.3</text>
<line x1="46.6" y1="336.62" x2="48.6" y2="336.62" stroke="#6e6e6e" stroke-width="0.8"/>
<text x="44.2" y="338.92" font-size="7.9" text-anchor="end" fill="#1c1c1c" >0.4</text>
<line x1="46.6" y1="318.4" x2="48.6" y2="318.4" stroke="#6e6e6e" stroke-width="0.8"/>
<text x="44.2" y="320.7" font-size="7.9" text-anchor="end" fill="#1c1c1c" >0.5</text>
<text x="180.6" y="315.2" font-size="8.3" text-anchor="middle" font-weight="bold" fill="#111" >HistoROI</text>
<text x="186.6" y="431" font-size="7.9" text-anchor="middle" fill="#1c1c1c" >-log10(1-probability)</text>
<line x1="268.2" y1="327.7" x2="273.8" y2="327.7" stroke="#e12b1d" stroke-width="2.3" stroke-linecap="round"/>
<line x1="268.2" y1="338.2" x2="273.8" y2="338.2" stroke="#000" stroke-width="2.3" stroke-linecap="round"/>
<text x="276" y="330.5" font-size="7.8" text-anchor="start" font-weight="bold" fill="#111" >Normal</text>
<text x="276" y="341" font-size="7.8" text-anchor="start" font-weight="bold" fill="#111" >Abnormal</text>
<text transform="translate(19.0,362.7) rotate(-90)" font-size="7.9" text-anchor="middle" fill="#1c1c1c">Density of patch-level</text>
<text transform="translate(28.2,362.7) rotate(-90)" font-size="7.9" text-anchor="middle" fill="#1c1c1c">epithelium probability</text>
<defs>
<clipPath id="sq"><rect x="0" y="0" width="100" height="100"/></clipPath>
<clipPath id="tis"><polygon points="0.19,22.11 4.89,13.19 13.11,6.85 24.85,3.32 36.59,2.15 50.69,4.5 62.43,9.2 69.47,16.24 72.29,24.46 76.99,31.51 84.03,37.38 92.96,42.78 100.94,47.48 100.94,69.08 92.96,74.25 81.22,76.6 69.47,77.77 60.55,81.29 55.85,87.87 45.99,90.69 34.25,85.99 22.5,78.94 13.11,71.43 6.07,64.38 0.19,57.34"/></clipPath>
<filter id="bl1" x="-20%" y="-20%" width="140%" height="140%" color-interpolation-filters="sRGB"><feGaussianBlur stdDeviation="1.5"/></filter>
<filter id="bl2" x="-20%" y="-20%" width="140%" height="140%" color-interpolation-filters="sRGB"><feGaussianBlur stdDeviation="3.5"/></filter>
<filter id="tex" x="0" y="0" width="100%" height="100%" color-interpolation-filters="sRGB"><feTurbulence type="fractalNoise" baseFrequency="0.5" numOctaves="2" seed="3" result="n"/><feColorMatrix in="n" type="matrix" values="0 0 0 0 0.21  0 0 0 0 0.04  0 0 0 0 0.23  -5 0 0 0 2.9" result="dots"/><feComposite in="dots" in2="SourceGraphic" operator="in" result="d2"/><feTurbulence type="turbulence" baseFrequency="0.075" numOctaves="2" seed="5" result="t"/><feColorMatrix in="t" type="matrix" values="0 0 0 0 0.96  0 0 0 0 0.86  0 0 0 0 0.96  -7 0 0 0 1.0" result="net"/><feComposite in="net" in2="SourceGraphic" operator="in" result="n2"/><feMerge result="m"><feMergeNode in="SourceGraphic"/><feMergeNode in="d2"/><feMergeNode in="n2"/></feMerge><feGaussianBlur in="m" stdDeviation="0.3"/></filter>
<filter id="texb" x="0" y="0" width="100%" height="100%" color-interpolation-filters="sRGB"><feTurbulence type="fractalNoise" baseFrequency="0.3" numOctaves="3" seed="3" result="n"/><feColorMatrix in="n" type="matrix" values="0 0 0 0 0.12  0 0 0 0 0.16  0 0 0 0 0.4  -2.4 0 0 0 1.45" result="dots"/><feComposite in="dots" in2="SourceGraphic" operator="in" result="d2"/><feTurbulence type="turbulence" baseFrequency="0.06" numOctaves="2" seed="5" result="t"/><feColorMatrix in="t" type="matrix" values="0 0 0 0 0.85  0 0 0 0 0.97  0 0 0 0 0.95  -7 0 0 0 0.85" result="net"/><feComposite in="net" in2="SourceGraphic" operator="in" result="n2"/><feMerge result="m"><feMergeNode in="d2"/><feMergeNode in="n2"/></feMerge><feGaussianBlur in="m" stdDeviation="0.35"/></filter>
<filter id="texc" x="0" y="0" width="100%" height="100%" color-interpolation-filters="sRGB"><feTurbulence type="fractalNoise" baseFrequency="0.3" numOctaves="3" seed="3" result="n"/><feColorMatrix in="n" type="matrix" values="0 0 0 0 0.2  0 0 0 0 0.12  0 0 0 0 0.45  -2.2 0 0 0 1.3" result="dots"/><feComposite in="dots" in2="SourceGraphic" operator="in" result="d2"/><feTurbulence type="turbulence" baseFrequency="0.06" numOctaves="2" seed="5" result="t"/><feColorMatrix in="t" type="matrix" values="0 0 0 0 0.8  0 0 0 0 0.9  0 0 0 0 0.95  -7 0 0 0 0.7" result="net"/><feComposite in="net" in2="SourceGraphic" operator="in" result="n2"/><feMerge result="m"><feMergeNode in="d2"/><feMergeNode in="n2"/></feMerge><feGaussianBlur in="m" stdDeviation="0.35"/></filter>
<g id="he">
<rect x="0" y="0" width="102" height="102" fill="#f3e6f1"/>
<path d="M0,66 C6,74 10,86 20,96 L40,100 C48,96 56,92 60,86 L40,80 C28,78 14,72 0,66 Z" fill="#e3b8d8"/>
<path d="M74,14 C84,22 94,30 102,38 L102,60 C96,52 88,46 80,40 C76,30 74,22 74,14 Z" fill="#ead0e6"/>
<path d="M66,0 C80,4 94,6 102,4 L102,0 Z" fill="#e2b2d6"/>
<path d="M70,86 C80,84 90,82 102,76 L102,102 L64,102 C66,96 68,90 70,86 Z" fill="#ecd2e8"/>
<g id="fib">
<path d="M0,8 C20,4 40,6 60,2 M55,0 C75,8 95,14 102,30 M70,4 C88,14 100,22 102,40 M0,75 C10,85 20,92 30,102 M75,90 C85,88 95,92 102,86 M60,95 C75,100 90,98 102,97" fill="none" stroke="#fbf6fa" stroke-width="2"/>
<path d="M0,60 C8,70 10,80 18,90 M85,2 C92,8 98,10 102,14 M40,96 C50,99 58,96 66,102 M62,4 C74,10 86,18 96,30 C99,34 101,38 102,42 M0,92 C10,94 18,98 24,102 M80,84 C88,86 94,82 102,80 M4,2 C8,6 10,10 12,14 M88,96 C92,92 98,90 102,92 M2,80 C8,84 14,90 18,96 M76,30 C84,36 92,42 100,50" fill="none" stroke="#d28cbe" stroke-width="1.1"/>
</g>
<g filter="url(#tex)"><polygon points="0.2,22.56 4.99,13.46 13.38,6.99 25.36,3.39 37.34,2.19 51.72,4.59 63.7,9.38 70.89,16.57 73.77,24.96 78.56,32.15 85.75,38.14 94.85,43.65 103,48.44 103,70.49 94.85,75.76 82.87,78.16 70.89,79.36 61.78,82.95 56.99,89.66 46.93,92.54 34.95,87.74 22.96,80.56 13.38,72.89 6.19,65.7 0.2,58.51" fill="#a45ea9"/></g>
</g>
</defs>
<g transform="translate(365,259.4)"><use href="#he"/></g>
<g transform="translate(478.7,204.2) scale(1.004,0.994)" clip-path="url(#sq)"><g filter="url(#bl1)"><g shape-rendering="crispEdges"><rect x="-10" y="-10" width="13.93" height="13.93" fill="#4b1f78"/><rect x="3.33" y="-10" width="3.93" height="13.93" fill="#4b1f78"/><rect x="6.67" y="-10" width="3.93" height="13.93" fill="#4c217c"/><rect x="10" y="-10" width="3.93" height="13.93" fill="#4b2e86"/><rect x="13.33" y="-10" width="3.93" height="13.93" fill="#434890"/><rect x="16.67" y="-10" width="3.93" height="13.93" fill="#3d5794"/><rect x="20" y="-10" width="3.93" height="13.93" fill="#48398b"/><rect x="23.33" y="-10" width="3.93" height="13.93" fill="#4d2683"/><rect x="26.67" y="-10" width="3.93" height="13.93" fill="#4b1f78"/><rect x="30" y="-10" width="3.93" height="13.93" fill="#4b1f78"/><rect x="33.33" y="-10" width="3.93" height="13.93" fill="#4a3288"/><rect x="36.67" y="-10" width="3.93" height="13.93" fill="#405092"/><rect x="40" y="-10" width="3.93" height="13.93" fill="#366f97"/><rect x="43.33" y="-10" width="3.93" height="13.93" fill="#3b9d96"/><rect x="46.67" y="-10" width="3.93" height="13.93" fill="#43ad94"/><rect x="50" y="-10" width="3.93" height="13.93" fill="#3c5b95"/><rect x="53.33" y="-10" width="3.93" height="13.93" fill="#4a3288"/><rect x="56.67" y="-10" width="3.93" height="13.93" fill="#4b1e76"/><rect x="60" y="-10" width="3.93" height="13.93" fill="#491b71"/><rect x="63.33" y="-10" width="3.93" height="13.93" fill="#481a6e"/><rect x="66.67" y="-10" width="3.93" height="13.93" fill="#48196c"/><rect x="70" y="-10" width="3.93" height="13.93" fill="#48196c"/><rect x="73.33" y="-10" width="3.93" height="13.93" fill="#481a6e"/><rect x="76.67" y="-10" width="3.93" height="13.93" fill="#491a6f"/><rect x="80" y="-10" width="3.93" height="13.93" fill="#491a6f"/><rect x="83.33" y="-10" width="3.93" height="13.93" fill="#4a1c73"/><rect x="86.67" y="-10" width="3.93" height="13.93" fill="#4b2e86"/><rect x="90" y="-10" width="3.93" height="13.93" fill="#347b98"/><rect x="93.33" y="-10" width="3.93" height="13.93" fill="#3b9e96"/><rect x="96.67" y="-10" width="13.93" height="13.93" fill="#42ab95"/><rect x="-10" y="3.33" width="13.93" height="3.93" fill="#4d2683"/><rect x="3.33" y="3.33" width="3.93" height="3.93" fill="#4c2c85"/><rect x="6.67" y="3.33" width="3.93" height="3.93" fill="#483b8b"/><rect x="10" y="3.33" width="3.93" height="3.93" fill="#3a6196"/><rect x="13.33" y="3.33" width="3.93" height="3.93" fill="#358497"/><rect x="16.67" y="3.33" width="3.93" height="3.93" fill="#379296"/><rect x="20" y="3.33" width="3.93" height="3.93" fill="#386997"/><rect x="23.33" y="3.33" width="3.93" height="3.93" fill="#434890"/><rect x="26.67" y="3.33" width="3.93" height="3.93" fill="#4a3388"/><rect x="30" y="3.33" width="3.93" height="3.93" fill="#483b8b"/><rect x="33.33" y="3.33" width="3.93" height="3.93" fill="#414e91"/><rect x="36.67" y="3.33" width="3.93" height="3.93" fill="#376d97"/><rect x="40" y="3.33" width="3.93" height="3.93" fill="#40a995"/><rect x="43.33" y="3.33" width="3.93" height="3.93" fill="#60cc8d"/><rect x="46.67" y="3.33" width="3.93" height="3.93" fill="#77d679"/><rect x="50" y="3.33" width="3.93" height="3.93" fill="#5fcb8d"/><rect x="53.33" y="3.33" width="3.93" height="3.93" fill="#3ea495"/><rect x="56.67" y="3.33" width="3.93" height="3.93" fill="#3b5d95"/><rect x="60" y="3.33" width="3.93" height="3.93" fill="#4d2884"/><rect x="63.33" y="3.33" width="3.93" height="3.93" fill="#4a1c73"/><rect x="66.67" y="3.33" width="3.93" height="3.93" fill="#48196d"/><rect x="70" y="3.33" width="3.93" height="3.93" fill="#48196c"/><rect x="73.33" y="3.33" width="3.93" height="3.93" fill="#491b70"/><rect x="76.67" y="3.33" width="3.93" height="3.93" fill="#4a1d74"/><rect x="80" y="3.33" width="3.93" height="3.93" fill="#4b1e77"/><rect x="83.33" y="3.33" width="3.93" height="3.93" fill="#4d2683"/><rect x="86.67" y="3.33" width="3.93" height="3.93" fill="#45448f"/><rect x="90" y="3.33" width="3.93" height="3.93" fill="#379596"/><rect x="93.33" y="3.33" width="3.93" height="3.93" fill="#43ae94"/><rect x="96.67" y="3.33" width="13.93" height="3.93" fill="#45b294"/><rect x="-10" y="6.67" width="13.93" height="3.93" fill="#493589"/><rect x="3.33" y="6.67" width="3.93" height="3.93" fill="#46408e"/><rect x="6.67" y="6.67" width="3.93" height="3.93" fill="#3c5b95"/><rect x="10" y="6.67" width="3.93" height="3.93" fill="#3b9d96"/><rect x="13.33" y="6.67" width="3.93" height="3.93" fill="#4cba92"/><rect x="16.67" y="6.67" width="3.93" height="3.93" fill="#52c091"/><rect x="20" y="6.67" width="3.93" height="3.93" fill="#3da195"/><rect x="23.33" y="6.67" width="3.93" height="3.93" fill="#366f97"/><rect x="26.67" y="6.67" width="3.93" height="3.93" fill="#405092"/><rect x="30" y="6.67" width="3.93" height="3.93" fill="#3a5f96"/><rect x="33.33" y="6.67" width="3.93" height="3.93" fill="#366f97"/><rect x="36.67" y="6.67" width="3.93" height="3.93" fill="#369196"/><rect x="40" y="6.67" width="3.93" height="3.93" fill="#60cc8d"/><rect x="43.33" y="6.67" width="3.93" height="3.93" fill="#8edd62"/><rect x="46.67" y="6.67" width="3.93" height="3.93" fill="#d2e935"/><rect x="50" y="6.67" width="3.93" height="3.93" fill="#d2e935"/><rect x="53.33" y="6.67" width="3.93" height="3.93" fill="#80d970"/><rect x="56.67" y="6.67" width="3.93" height="3.93" fill="#44b094"/><rect x="60" y="6.67" width="3.93" height="3.93" fill="#405092"/><rect x="63.33" y="6.67" width="3.93" height="3.93" fill="#4d227e"/><rect x="66.67" y="6.67" width="3.93" height="3.93" fill="#491b70"/><rect x="70" y="6.67" width="3.93" height="3.93" fill="#48196d"/><rect x="73.33" y="6.67" width="3.93" height="3.93" fill="#4a1c73"/><rect x="76.67" y="6.67" width="3.93" height="3.93" fill="#4e2380"/><rect x="80" y="6.67" width="3.93" height="3.93" fill="#4a3288"/><rect x="83.33" y="6.67" width="3.93" height="3.93" fill="#46408e"/><rect x="86.67" y="6.67" width="3.93" height="3.93" fill="#3b5c95"/><rect x="90" y="6.67" width="3.93" height="3.93" fill="#3ea595"/><rect x="93.33" y="6.67" width="3.93" height="3.93" fill="#44b194"/><rect x="96.67" y="6.67" width="13.93" height="3.93" fill="#44b094"/><rect x="-10" y="10" width="13.93" height="3.93" fill="#45448f"/><rect x="3.33" y="10" width="3.93" height="3.93" fill="#405092"/><rect x="6.67" y="10" width="3.93" height="3.93" fill="#376b97"/><rect x="10" y="10" width="3.93" height="3.93" fill="#43ad94"/><rect x="13.33" y="10" width="3.93" height="3.93" fill="#51be91"/><rect x="16.67" y="10" width="3.93" height="3.93" fill="#54c190"/><rect x="20" y="10" width="3.93" height="3.93" fill="#43ae94"/><rect x="23.33" y="10" width="3.93" height="3.93" fill="#358098"/><rect x="26.67" y="10" width="3.93" height="3.93" fill="#3a5f96"/><rect x="30" y="10" width="3.93" height="3.93" fill="#366f97"/><rect x="33.33" y="10" width="3.93" height="3.93" fill="#358098"/><rect x="36.67" y="10" width="3.93" height="3.93" fill="#3fa695"/><rect x="40" y="10" width="3.93" height="3.93" fill="#72d47e"/><rect x="43.33" y="10" width="3.93" height="3.93" fill="#a9e24f"/><rect x="46.67" y="10" width="3.93" height="3.93" fill="#dcea32"/><rect x="50" y="10" width="3.93" height="3.93" fill="#dcea32"/><rect x="53.33" y="10" width="3.93" height="3.93" fill="#8edd62"/><rect x="56.67" y="10" width="3.93" height="3.93" fill="#54c190"/><rect x="60" y="10" width="3.93" height="3.93" fill="#366f97"/><rect x="63.33" y="10" width="3.93" height="3.93" fill="#49378a"/><rect x="66.67" y="10" width="3.93" height="3.93" fill="#4a1d75"/><rect x="70" y="10" width="3.93" height="3.93" fill="#491b70"/><rect x="73.33" y="10" width="3.93" height="3.93" fill="#4b1e77"/><rect x="76.67" y="10" width="3.93" height="3.93" fill="#4a3288"/><rect x="80" y="10" width="3.93" height="3.93" fill="#46408e"/><rect x="83.33" y="10" width="3.93" height="3.93" fill="#405092"/><rect x="86.67" y="10" width="3.93" height="3.93" fill="#396296"/><rect x="90" y="10" width="3.93" height="3.93" fill="#347d98"/><rect x="93.33" y="10" width="3.93" height="3.93" fill="#347998"/><rect x="96.67" y="10" width="13.93" height="3.93" fill="#366f97"/><rect x="-10" y="13.33" width="13.93" height="3.93" fill="#3a5f96"/><rect x="3.33" y="13.33" width="3.93" height="3.93" fill="#367197"/><rect x="6.67" y="13.33" width="3.93" height="3.93" fill="#368897"/><rect x="10" y="13.33" width="3.93" height="3.93" fill="#389996"/><rect x="13.33" y="13.33" width="3.93" height="3.93" fill="#3ea495"/><rect x="16.67" y="13.33" width="3.93" height="3.93" fill="#3ea495"/><rect x="20" y="13.33" width="3.93" height="3.93" fill="#368a97"/><rect x="23.33" y="13.33" width="3.93" height="3.93" fill="#367197"/><rect x="26.67" y="13.33" width="3.93" height="3.93" fill="#396396"/><rect x="30" y="13.33" width="3.93" height="3.93" fill="#367398"/><rect x="33.33" y="13.33" width="3.93" height="3.93" fill="#358497"/><rect x="36.67" y="13.33" width="3.93" height="3.93" fill="#3ea495"/><rect x="40" y="13.33" width="3.93" height="3.93" fill="#64d08c"/><rect x="43.33" y="13.33" width="3.93" height="3.93" fill="#8adc66"/><rect x="46.67" y="13.33" width="3.93" height="3.93" fill="#b9e544"/><rect x="50" y="13.33" width="3.93" height="3.93" fill="#99df5a"/><rect x="53.33" y="13.33" width="3.93" height="3.93" fill="#73d57d"/><rect x="56.67" y="13.33" width="3.93" height="3.93" fill="#48b594"/><rect x="60" y="13.33" width="3.93" height="3.93" fill="#367197"/><rect x="63.33" y="13.33" width="3.93" height="3.93" fill="#46428e"/><rect x="66.67" y="13.33" width="3.93" height="3.93" fill="#4e2380"/><rect x="70" y="13.33" width="3.93" height="3.93" fill="#4a1d75"/><rect x="73.33" y="13.33" width="3.93" height="3.93" fill="#4d227e"/><rect x="76.67" y="13.33" width="3.93" height="3.93" fill="#49378a"/><rect x="80" y="13.33" width="3.93" height="3.93" fill="#414e91"/><rect x="83.33" y="13.33" width="3.93" height="3.93" fill="#414e91"/><rect x="86.67" y="13.33" width="3.93" height="3.93" fill="#434890"/><rect x="90" y="13.33" width="3.93" height="3.93" fill="#434890"/><rect x="93.33" y="13.33" width="3.93" height="3.93" fill="#46428e"/><rect x="96.67" y="13.33" width="13.93" height="3.93" fill="#473d8c"/><rect x="-10" y="16.67" width="13.93" height="3.93" fill="#358098"/><rect x="3.33" y="16.67" width="3.93" height="3.93" fill="#3ca095"/><rect x="6.67" y="16.67" width="3.93" height="3.93" fill="#44b094"/><rect x="10" y="16.67" width="3.93" height="3.93" fill="#358797"/><rect x="13.33" y="16.67" width="3.93" height="3.93" fill="#367398"/><rect x="16.67" y="16.67" width="3.93" height="3.93" fill="#386697"/><rect x="20" y="16.67" width="3.93" height="3.93" fill="#3e5493"/><rect x="23.33" y="16.67" width="3.93" height="3.93" fill="#3d5794"/><rect x="26.67" y="16.67" width="3.93" height="3.93" fill="#396496"/><rect x="30" y="16.67" width="3.93" height="3.93" fill="#357798"/><rect x="33.33" y="16.67" width="3.93" height="3.93" fill="#358497"/><rect x="36.67" y="16.67" width="3.93" height="3.93" fill="#379796"/><rect x="40" y="16.67" width="3.93" height="3.93" fill="#4ab893"/><rect x="43.33" y="16.67" width="3.93" height="3.93" fill="#6bd285"/><rect x="46.67" y="16.67" width="3.93" height="3.93" fill="#7fd871"/><rect x="50" y="16.67" width="3.93" height="3.93" fill="#6bd285"/><rect x="53.33" y="16.67" width="3.93" height="3.93" fill="#56c290"/><rect x="56.67" y="16.67" width="3.93" height="3.93" fill="#42ad94"/><rect x="60" y="16.67" width="3.93" height="3.93" fill="#357598"/><rect x="63.33" y="16.67" width="3.93" height="3.93" fill="#405092"/><rect x="66.67" y="16.67" width="3.93" height="3.93" fill="#493589"/><rect x="70" y="16.67" width="3.93" height="3.93" fill="#4e2481"/><rect x="73.33" y="16.67" width="3.93" height="3.93" fill="#4d2683"/><rect x="76.67" y="16.67" width="3.93" height="3.93" fill="#493589"/><rect x="80" y="16.67" width="3.93" height="3.93" fill="#405092"/><rect x="83.33" y="16.67" width="3.93" height="3.93" fill="#46428e"/><rect x="86.67" y="16.67" width="3.93" height="3.93" fill="#4c2a85"/><rect x="90" y="16.67" width="3.93" height="3.93" fill="#4b1f78"/><rect x="93.33" y="16.67" width="3.93" height="3.93" fill="#4b1e76"/><rect x="96.67" y="16.67" width="13.93" height="3.93" fill="#4b1e76"/><rect x="-10" y="20" width="13.93" height="3.93" fill="#3da295"/><rect x="3.33" y="20" width="3.93" height="3.93" fill="#58c58f"/><rect x="6.67" y="20" width="3.93" height="3.93" fill="#6cd384"/><rect x="10" y="20" width="3.93" height="3.93" fill="#3ea395"/><rect x="13.33" y="20" width="3.93" height="3.93" fill="#396396"/><rect x="16.67" y="20" width="3.93" height="3.93" fill="#493689"/><rect x="20" y="20" width="3.93" height="3.93" fill="#4b1e77"/><rect x="23.33" y="20" width="3.93" height="3.93" fill="#48398b"/><rect x="26.67" y="20" width="3.93" height="3.93" fill="#386697"/><rect x="30" y="20" width="3.93" height="3.93" fill="#358497"/><rect x="33.33" y="20" width="3.93" height="3.93" fill="#358497"/><rect x="36.67" y="20" width="3.93" height="3.93" fill="#347d98"/><rect x="40" y="20" width="3.93" height="3.93" fill="#358697"/><rect x="43.33" y="20" width="3.93" height="3.93" fill="#3fa695"/><rect x="46.67" y="20" width="3.93" height="3.93" fill="#4ebb92"/><rect x="50" y="20" width="3.93" height="3.93" fill="#59c58f"/><rect x="53.33" y="20" width="3.93" height="3.93" fill="#64d08c"/><rect x="56.67" y="20" width="3.93" height="3.93" fill="#61cd8d"/><rect x="60" y="20" width="3.93" height="3.93" fill="#3a9c96"/><rect x="63.33" y="20" width="3.93" height="3.93" fill="#366f97"/><rect x="66.67" y="20" width="3.93" height="3.93" fill="#405092"/><rect x="70" y="20" width="3.93" height="3.93" fill="#493589"/><rect x="73.33" y="20" width="3.93" height="3.93" fill="#4d2683"/><rect x="76.67" y="20" width="3.93" height="3.93" fill="#4e2481"/><rect x="80" y="20" width="3.93" height="3.93" fill="#493589"/><rect x="83.33" y="20" width="3.93" height="3.93" fill="#4c2c85"/><rect x="86.67" y="20" width="3.93" height="3.93" fill="#4b1f77"/><rect x="90" y="20" width="3.93" height="3.93" fill="#491c72"/><rect x="93.33" y="20" width="3.93" height="3.93" fill="#491b71"/><rect x="96.67" y="20" width="13.93" height="3.93" fill="#491b71"/><rect x="-10" y="23.33" width="13.93" height="3.93" fill="#42ab95"/><rect x="3.33" y="23.33" width="3.93" height="3.93" fill="#59c68f"/><rect x="6.67" y="23.33" width="3.93" height="3.93" fill="#6bd285"/><rect x="10" y="23.33" width="3.93" height="3.93" fill="#3fa695"/><rect x="13.33" y="23.33" width="3.93" height="3.93" fill="#357798"/><rect x="16.67" y="23.33" width="3.93" height="3.93" fill="#3d5794"/><rect x="20" y="23.33" width="3.93" height="3.93" fill="#48398b"/><rect x="23.33" y="23.33" width="3.93" height="3.93" fill="#414e91"/><rect x="26.67" y="23.33" width="3.93" height="3.93" fill="#376d97"/><rect x="30" y="23.33" width="3.93" height="3.93" fill="#357598"/><rect x="33.33" y="23.33" width="3.93" height="3.93" fill="#367197"/><rect x="36.67" y="23.33" width="3.93" height="3.93" fill="#376d97"/><rect x="40" y="23.33" width="3.93" height="3.93" fill="#357598"/><rect x="43.33" y="23.33" width="3.93" height="3.93" fill="#368a97"/><rect x="46.67" y="23.33" width="3.93" height="3.93" fill="#3fa695"/><rect x="50" y="23.33" width="3.93" height="3.93" fill="#4dbb92"/><rect x="53.33" y="23.33" width="3.93" height="3.93" fill="#56c290"/><rect x="56.67" y="23.33" width="3.93" height="3.93" fill="#53c090"/><rect x="60" y="23.33" width="3.93" height="3.93" fill="#40a995"/><rect x="63.33" y="23.33" width="3.93" height="3.93" fill="#379796"/><rect x="66.67" y="23.33" width="3.93" height="3.93" fill="#358697"/><rect x="70" y="23.33" width="3.93" height="3.93" fill="#3b5d95"/><rect x="73.33" y="23.33" width="3.93" height="3.93" fill="#473d8c"/><rect x="76.67" y="23.33" width="3.93" height="3.93" fill="#4d2683"/><rect x="80" y="23.33" width="3.93" height="3.93" fill="#4d2683"/><rect x="83.33" y="23.33" width="3.93" height="3.93" fill="#4b1f78"/><rect x="86.67" y="23.33" width="3.93" height="3.93" fill="#4a1c72"/><rect x="90" y="23.33" width="3.93" height="3.93" fill="#481a6f"/><rect x="93.33" y="23.33" width="3.93" height="3.93" fill="#481a6e"/><rect x="96.67" y="23.33" width="13.93" height="3.93" fill="#481a6e"/><rect x="-10" y="26.67" width="13.93" height="3.93" fill="#379596"/><rect x="3.33" y="26.67" width="3.93" height="3.93" fill="#46b494"/><rect x="6.67" y="26.67" width="3.93" height="3.93" fill="#54c190"/><rect x="10" y="26.67" width="3.93" height="3.93" fill="#399a96"/><rect x="13.33" y="26.67" width="3.93" height="3.93" fill="#379296"/><rect x="16.67" y="26.67" width="3.93" height="3.93" fill="#369096"/><rect x="20" y="26.67" width="3.93" height="3.93" fill="#366f97"/><rect x="23.33" y="26.67" width="3.93" height="3.93" fill="#376d97"/><rect x="26.67" y="26.67" width="3.93" height="3.93" fill="#367197"/><rect x="30" y="26.67" width="3.93" height="3.93" fill="#386696"/><rect x="33.33" y="26.67" width="3.93" height="3.93" fill="#3a6196"/><rect x="36.67" y="26.67" width="3.93" height="3.93" fill="#396396"/><rect x="40" y="26.67" width="3.93" height="3.93" fill="#367398"/><rect x="43.33" y="26.67" width="3.93" height="3.93" fill="#358697"/><rect x="46.67" y="26.67" width="3.93" height="3.93" fill="#3a9c96"/><rect x="50" y="26.67" width="3.93" height="3.93" fill="#45b394"/><rect x="53.33" y="26.67" width="3.93" height="3.93" fill="#44b094"/><rect x="56.67" y="26.67" width="3.93" height="3.93" fill="#3fa695"/><rect x="60" y="26.67" width="3.93" height="3.93" fill="#3fa695"/><rect x="63.33" y="26.67" width="3.93" height="3.93" fill="#43ae94"/><rect x="66.67" y="26.67" width="3.93" height="3.93" fill="#43ae94"/><rect x="70" y="26.67" width="3.93" height="3.93" fill="#357f98"/><rect x="73.33" y="26.67" width="3.93" height="3.93" fill="#3f5393"/><rect x="76.67" y="26.67" width="3.93" height="3.93" fill="#4a3288"/><rect x="80" y="26.67" width="3.93" height="3.93" fill="#4e2380"/><rect x="83.33" y="26.67" width="3.93" height="3.93" fill="#4a1d75"/><rect x="86.67" y="26.67" width="3.93" height="3.93" fill="#491b70"/><rect x="90" y="26.67" width="3.93" height="3.93" fill="#48196d"/><rect x="93.33" y="26.67" width="3.93" height="3.93" fill="#48196c"/><rect x="96.67" y="26.67" width="13.93" height="3.93" fill="#48196c"/><rect x="-10" y="30" width="13.93" height="3.93" fill="#45448f"/><rect x="3.33" y="30" width="3.93" height="3.93" fill="#386797"/><rect x="6.67" y="30" width="3.93" height="3.93" fill="#368997"/><rect x="10" y="30" width="3.93" height="3.93" fill="#347e98"/><rect x="13.33" y="30" width="3.93" height="3.93" fill="#3a9b96"/><rect x="16.67" y="30" width="3.93" height="3.93" fill="#44b094"/><rect x="20" y="30" width="3.93" height="3.93" fill="#369096"/><rect x="23.33" y="30" width="3.93" height="3.93" fill="#357598"/><rect x="26.67" y="30" width="3.93" height="3.93" fill="#386696"/><rect x="30" y="30" width="3.93" height="3.93" fill="#367197"/><rect x="33.33" y="30" width="3.93" height="3.93" fill="#386997"/><rect x="36.67" y="30" width="3.93" height="3.93" fill="#396396"/><rect x="40" y="30" width="3.93" height="3.93" fill="#367398"/><rect x="43.33" y="30" width="3.93" height="3.93" fill="#368e97"/><rect x="46.67" y="30" width="3.93" height="3.93" fill="#40a895"/><rect x="50" y="30" width="3.93" height="3.93" fill="#42ad94"/><rect x="53.33" y="30" width="3.93" height="3.93" fill="#3da295"/><rect x="56.67" y="30" width="3.93" height="3.93" fill="#379596"/><rect x="60" y="30" width="3.93" height="3.93" fill="#379596"/><rect x="63.33" y="30" width="3.93" height="3.93" fill="#379796"/><rect x="66.67" y="30" width="3.93" height="3.93" fill="#369096"/><rect x="70" y="30" width="3.93" height="3.93" fill="#376c97"/><rect x="73.33" y="30" width="3.93" height="3.93" fill="#3f5493"/><rect x="76.67" y="30" width="3.93" height="3.93" fill="#46408e"/><rect x="80" y="30" width="3.93" height="3.93" fill="#4a3288"/><rect x="83.33" y="30" width="3.93" height="3.93" fill="#4e2380"/><rect x="86.67" y="30" width="3.93" height="3.93" fill="#4a1d74"/><rect x="90" y="30" width="3.93" height="3.93" fill="#481a6e"/><rect x="93.33" y="30" width="3.93" height="3.93" fill="#48196c"/><rect x="96.67" y="30" width="13.93" height="3.93" fill="#48196c"/><rect x="-10" y="33.33" width="13.93" height="3.93" fill="#4a3288"/><rect x="3.33" y="33.33" width="3.93" height="3.93" fill="#3f5493"/><rect x="6.67" y="33.33" width="3.93" height="3.93" fill="#357598"/><rect x="10" y="33.33" width="3.93" height="3.93" fill="#376d97"/><rect x="13.33" y="33.33" width="3.93" height="3.93" fill="#358497"/><rect x="16.67" y="33.33" width="3.93" height="3.93" fill="#3b9d96"/><rect x="20" y="33.33" width="3.93" height="3.93" fill="#3b9e96"/><rect x="23.33" y="33.33" width="3.93" height="3.93" fill="#43ae94"/><rect x="26.67" y="33.33" width="3.93" height="3.93" fill="#4ab893"/><rect x="30" y="33.33" width="3.93" height="3.93" fill="#46b394"/><rect x="33.33" y="33.33" width="3.93" height="3.93" fill="#369096"/><rect x="36.67" y="33.33" width="3.93" height="3.93" fill="#376b97"/><rect x="40" y="33.33" width="3.93" height="3.93" fill="#376b97"/><rect x="43.33" y="33.33" width="3.93" height="3.93" fill="#347e98"/><rect x="46.67" y="33.33" width="3.93" height="3.93" fill="#368e97"/><rect x="50" y="33.33" width="3.93" height="3.93" fill="#358697"/><rect x="53.33" y="33.33" width="3.93" height="3.93" fill="#347e98"/><rect x="56.67" y="33.33" width="3.93" height="3.93" fill="#347998"/><rect x="60" y="33.33" width="3.93" height="3.93" fill="#358297"/><rect x="63.33" y="33.33" width="3.93" height="3.93" fill="#347d98"/><rect x="66.67" y="33.33" width="3.93" height="3.93" fill="#367197"/><rect x="70" y="33.33" width="3.93" height="3.93" fill="#3c5994"/><rect x="73.33" y="33.33" width="3.93" height="3.93" fill="#3f5493"/><rect x="76.67" y="33.33" width="3.93" height="3.93" fill="#405092"/><rect x="80" y="33.33" width="3.93" height="3.93" fill="#46408e"/><rect x="83.33" y="33.33" width="3.93" height="3.93" fill="#4a3288"/><rect x="86.67" y="33.33" width="3.93" height="3.93" fill="#4d2380"/><rect x="90" y="33.33" width="3.93" height="3.93" fill="#4a1d73"/><rect x="93.33" y="33.33" width="3.93" height="3.93" fill="#491b70"/><rect x="96.67" y="33.33" width="13.93" height="3.93" fill="#481a6e"/><rect x="-10" y="36.67" width="13.93" height="3.93" fill="#48398b"/><rect x="3.33" y="36.67" width="3.93" height="3.93" fill="#3c5994"/><rect x="6.67" y="36.67" width="3.93" height="3.93" fill="#357798"/><rect x="10" y="36.67" width="3.93" height="3.93" fill="#386797"/><rect x="13.33" y="36.67" width="3.93" height="3.93" fill="#376d97"/><rect x="16.67" y="36.67" width="3.93" height="3.93" fill="#358098"/><rect x="20" y="36.67" width="3.93" height="3.93" fill="#3fa695"/><rect x="23.33" y="36.67" width="3.93" height="3.93" fill="#62ce8c"/><rect x="26.67" y="36.67" width="3.93" height="3.93" fill="#80d970"/><rect x="30" y="36.67" width="3.93" height="3.93" fill="#67d189"/><rect x="33.33" y="36.67" width="3.93" height="3.93" fill="#43ad94"/><rect x="36.67" y="36.67" width="3.93" height="3.93" fill="#376f97"/><rect x="40" y="36.67" width="3.93" height="3.93" fill="#3b5c95"/><rect x="43.33" y="36.67" width="3.93" height="3.93" fill="#396396"/><rect x="46.67" y="36.67" width="3.93" height="3.93" fill="#376b97"/><rect x="50" y="36.67" width="3.93" height="3.93" fill="#3c5b95"/><rect x="53.33" y="36.67" width="3.93" height="3.93" fill="#3c5994"/><rect x="56.67" y="36.67" width="3.93" height="3.93" fill="#3a5f96"/><rect x="60" y="36.67" width="3.93" height="3.93" fill="#366f97"/><rect x="63.33" y="36.67" width="3.93" height="3.93" fill="#376b97"/><rect x="66.67" y="36.67" width="3.93" height="3.93" fill="#3a5f96"/><rect x="70" y="36.67" width="3.93" height="3.93" fill="#405092"/><rect x="73.33" y="36.67" width="3.93" height="3.93" fill="#3d5794"/><rect x="76.67" y="36.67" width="3.93" height="3.93" fill="#3a5e96"/><rect x="80" y="36.67" width="3.93" height="3.93" fill="#414c91"/><rect x="83.33" y="36.67" width="3.93" height="3.93" fill="#46408e"/><rect x="86.67" y="36.67" width="3.93" height="3.93" fill="#493589"/><rect x="90" y="36.67" width="3.93" height="3.93" fill="#4e2481"/><rect x="93.33" y="36.67" width="3.93" height="3.93" fill="#4a1d74"/><rect x="96.67" y="36.67" width="13.93" height="3.93" fill="#491b70"/><rect x="-10" y="40" width="13.93" height="3.93" fill="#3d5794"/><rect x="3.33" y="40" width="3.93" height="3.93" fill="#367197"/><rect x="6.67" y="40" width="3.93" height="3.93" fill="#368897"/><rect x="10" y="40" width="3.93" height="3.93" fill="#357798"/><rect x="13.33" y="40" width="3.93" height="3.93" fill="#357598"/><rect x="16.67" y="40" width="3.93" height="3.93" fill="#358397"/><rect x="20" y="40" width="3.93" height="3.93" fill="#44b094"/><rect x="23.33" y="40" width="3.93" height="3.93" fill="#6dd383"/><rect x="26.67" y="40" width="3.93" height="3.93" fill="#83da6d"/><rect x="30" y="40" width="3.93" height="3.93" fill="#50be91"/><rect x="33.33" y="40" width="3.93" height="3.93" fill="#368c97"/><rect x="36.67" y="40" width="3.93" height="3.93" fill="#3b5c95"/><rect x="40" y="40" width="3.93" height="3.93" fill="#46408d"/><rect x="43.33" y="40" width="3.93" height="3.93" fill="#45448f"/><rect x="46.67" y="40" width="3.93" height="3.93" fill="#424c91"/><rect x="50" y="40" width="3.93" height="3.93" fill="#473d8c"/><rect x="53.33" y="40" width="3.93" height="3.93" fill="#46428e"/><rect x="56.67" y="40" width="3.93" height="3.93" fill="#405092"/><rect x="60" y="40" width="3.93" height="3.93" fill="#3a5f96"/><rect x="63.33" y="40" width="3.93" height="3.93" fill="#376b97"/><rect x="66.67" y="40" width="3.93" height="3.93" fill="#366f97"/><rect x="70" y="40" width="3.93" height="3.93" fill="#3a5f96"/><rect x="73.33" y="40" width="3.93" height="3.93" fill="#386797"/><rect x="76.67" y="40" width="3.93" height="3.93" fill="#376c97"/><rect x="80" y="40" width="3.93" height="3.93" fill="#404f92"/><rect x="83.33" y="40" width="3.93" height="3.93" fill="#405092"/><rect x="86.67" y="40" width="3.93" height="3.93" fill="#405092"/><rect x="90" y="40" width="3.93" height="3.93" fill="#493589"/><rect x="93.33" y="40" width="3.93" height="3.93" fill="#4c207a"/><rect x="96.67" y="40" width="13.93" height="3.93" fill="#491c72"/><rect x="-10" y="43.33" width="13.93" height="3.93" fill="#376b97"/><rect x="3.33" y="43.33" width="3.93" height="3.93" fill="#358497"/><rect x="6.67" y="43.33" width="3.93" height="3.93" fill="#389996"/><rect x="10" y="43.33" width="3.93" height="3.93" fill="#368897"/><rect x="13.33" y="43.33" width="3.93" height="3.93" fill="#347e98"/><rect x="16.67" y="43.33" width="3.93" height="3.93" fill="#358098"/><rect x="20" y="43.33" width="3.93" height="3.93" fill="#3da295"/><rect x="23.33" y="43.33" width="3.93" height="3.93" fill="#52bf91"/><rect x="26.67" y="43.33" width="3.93" height="3.93" fill="#5cc98e"/><rect x="30" y="43.33" width="3.93" height="3.93" fill="#379796"/><rect x="33.33" y="43.33" width="3.93" height="3.93" fill="#3a5f96"/><rect x="36.67" y="43.33" width="3.93" height="3.93" fill="#483b8b"/><rect x="40" y="43.33" width="3.93" height="3.93" fill="#4a3388"/><rect x="43.33" y="43.33" width="3.93" height="3.93" fill="#46428e"/><rect x="46.67" y="43.33" width="3.93" height="3.93" fill="#414e91"/><rect x="50" y="43.33" width="3.93" height="3.93" fill="#49378a"/><rect x="53.33" y="43.33" width="3.93" height="3.93" fill="#46428e"/><rect x="56.67" y="43.33" width="3.93" height="3.93" fill="#3c5b95"/><rect x="60" y="43.33" width="3.93" height="3.93" fill="#347b98"/><rect x="63.33" y="43.33" width="3.93" height="3.93" fill="#358497"/><rect x="66.67" y="43.33" width="3.93" height="3.93" fill="#347e98"/><rect x="70" y="43.33" width="3.93" height="3.93" fill="#396596"/><rect x="73.33" y="43.33" width="3.93" height="3.93" fill="#396596"/><rect x="76.67" y="43.33" width="3.93" height="3.93" fill="#376d97"/><rect x="80" y="43.33" width="3.93" height="3.93" fill="#357598"/><rect x="83.33" y="43.33" width="3.93" height="3.93" fill="#367197"/><rect x="86.67" y="43.33" width="3.93" height="3.93" fill="#396396"/><rect x="90" y="43.33" width="3.93" height="3.93" fill="#45448f"/><rect x="93.33" y="43.33" width="3.93" height="3.93" fill="#4d2984"/><rect x="96.67" y="43.33" width="13.93" height="3.93" fill="#4a1d75"/><rect x="-10" y="46.67" width="13.93" height="3.93" fill="#367398"/><rect x="3.33" y="46.67" width="3.93" height="3.93" fill="#369096"/><rect x="6.67" y="46.67" width="3.93" height="3.93" fill="#42ac95"/><rect x="10" y="46.67" width="3.93" height="3.93" fill="#3ca095"/><rect x="13.33" y="46.67" width="3.93" height="3.93" fill="#369096"/><rect x="16.67" y="46.67" width="3.93" height="3.93" fill="#358597"/><rect x="20" y="46.67" width="3.93" height="3.93" fill="#368b97"/><rect x="23.33" y="46.67" width="3.93" height="3.93" fill="#379596"/><rect x="26.67" y="46.67" width="3.93" height="3.93" fill="#379496"/><rect x="30" y="46.67" width="3.93" height="3.93" fill="#367097"/><rect x="33.33" y="46.67" width="3.93" height="3.93" fill="#405092"/><rect x="36.67" y="46.67" width="3.93" height="3.93" fill="#483b8b"/><rect x="40" y="46.67" width="3.93" height="3.93" fill="#46428e"/><rect x="43.33" y="46.67" width="3.93" height="3.93" fill="#3f5292"/><rect x="46.67" y="46.67" width="3.93" height="3.93" fill="#3c5b95"/><rect x="50" y="46.67" width="3.93" height="3.93" fill="#434990"/><rect x="53.33" y="46.67" width="3.93" height="3.93" fill="#3c5994"/><rect x="56.67" y="46.67" width="3.93" height="3.93" fill="#347898"/><rect x="60" y="46.67" width="3.93" height="3.93" fill="#3a9d96"/><rect x="63.33" y="46.67" width="3.93" height="3.93" fill="#379796"/><rect x="66.67" y="46.67" width="3.93" height="3.93" fill="#358297"/><rect x="70" y="46.67" width="3.93" height="3.93" fill="#386997"/><rect x="73.33" y="46.67" width="3.93" height="3.93" fill="#386797"/><rect x="76.67" y="46.67" width="3.93" height="3.93" fill="#367398"/><rect x="80" y="46.67" width="3.93" height="3.93" fill="#379596"/><rect x="83.33" y="46.67" width="3.93" height="3.93" fill="#368a97"/><rect x="86.67" y="46.67" width="3.93" height="3.93" fill="#367097"/><rect x="90" y="46.67" width="3.93" height="3.93" fill="#3f5393"/><rect x="93.33" y="46.67" width="3.93" height="3.93" fill="#493589"/><rect x="96.67" y="46.67" width="13.93" height="3.93" fill="#4c217c"/><rect x="-10" y="50" width="13.93" height="3.93" fill="#396396"/><rect x="3.33" y="50" width="3.93" height="3.93" fill="#369096"/><rect x="6.67" y="50" width="3.93" height="3.93" fill="#4ab893"/><rect x="10" y="50" width="3.93" height="3.93" fill="#50be91"/><rect x="13.33" y="50" width="3.93" height="3.93" fill="#4bb993"/><rect x="16.67" y="50" width="3.93" height="3.93" fill="#42ad94"/><rect x="20" y="50" width="3.93" height="3.93" fill="#358597"/><rect x="23.33" y="50" width="3.93" height="3.93" fill="#367398"/><rect x="26.67" y="50" width="3.93" height="3.93" fill="#367097"/><rect x="30" y="50" width="3.93" height="3.93" fill="#358397"/><rect x="33.33" y="50" width="3.93" height="3.93" fill="#3da295"/><rect x="36.67" y="50" width="3.93" height="3.93" fill="#44b194"/><rect x="40" y="50" width="3.93" height="3.93" fill="#3a9b96"/><rect x="43.33" y="50" width="3.93" height="3.93" fill="#347998"/><rect x="46.67" y="50" width="3.93" height="3.93" fill="#386897"/><rect x="50" y="50" width="3.93" height="3.93" fill="#368c97"/><rect x="53.33" y="50" width="3.93" height="3.93" fill="#3ea495"/><rect x="56.67" y="50" width="3.93" height="3.93" fill="#42ad94"/><rect x="60" y="50" width="3.93" height="3.93" fill="#399a96"/><rect x="63.33" y="50" width="3.93" height="3.93" fill="#347d98"/><rect x="66.67" y="50" width="3.93" height="3.93" fill="#386997"/><rect x="70" y="50" width="3.93" height="3.93" fill="#367197"/><rect x="73.33" y="50" width="3.93" height="3.93" fill="#368897"/><rect x="76.67" y="50" width="3.93" height="3.93" fill="#379596"/><rect x="80" y="50" width="3.93" height="3.93" fill="#357398"/><rect x="83.33" y="50" width="3.93" height="3.93" fill="#367197"/><rect x="86.67" y="50" width="3.93" height="3.93" fill="#367397"/><rect x="90" y="50" width="3.93" height="3.93" fill="#3a6096"/><rect x="93.33" y="50" width="3.93" height="3.93" fill="#45448f"/><rect x="96.67" y="50" width="13.93" height="3.93" fill="#4b2e86"/><rect x="-10" y="53.33" width="13.93" height="3.93" fill="#3f5493"/><rect x="3.33" y="53.33" width="3.93" height="3.93" fill="#357798"/><rect x="6.67" y="53.33" width="3.93" height="3.93" fill="#42ab95"/><rect x="10" y="53.33" width="3.93" height="3.93" fill="#59c68f"/><rect x="13.33" y="53.33" width="3.93" height="3.93" fill="#52bf91"/><rect x="16.67" y="53.33" width="3.93" height="3.93" fill="#3ea495"/><rect x="20" y="53.33" width="3.93" height="3.93" fill="#3c5994"/><rect x="23.33" y="53.33" width="3.93" height="3.93" fill="#46428e"/><rect x="26.67" y="53.33" width="3.93" height="3.93" fill="#414e91"/><rect x="30" y="53.33" width="3.93" height="3.93" fill="#379796"/><rect x="33.33" y="53.33" width="3.93" height="3.93" fill="#59c68f"/><rect x="36.67" y="53.33" width="3.93" height="3.93" fill="#6cd284"/><rect x="40" y="53.33" width="3.93" height="3.93" fill="#43ae94"/><rect x="43.33" y="53.33" width="3.93" height="3.93" fill="#367197"/><rect x="46.67" y="53.33" width="3.93" height="3.93" fill="#3e5593"/><rect x="50" y="53.33" width="3.93" height="3.93" fill="#368e97"/><rect x="53.33" y="53.33" width="3.93" height="3.93" fill="#3b9e96"/><rect x="56.67" y="53.33" width="3.93" height="3.93" fill="#3a9b96"/><rect x="60" y="53.33" width="3.93" height="3.93" fill="#379296"/><rect x="63.33" y="53.33" width="3.93" height="3.93" fill="#379796"/><rect x="66.67" y="53.33" width="3.93" height="3.93" fill="#379796"/><rect x="70" y="53.33" width="3.93" height="3.93" fill="#347d98"/><rect x="73.33" y="53.33" width="3.93" height="3.93" fill="#368a97"/><rect x="76.67" y="53.33" width="3.93" height="3.93" fill="#379596"/><rect x="80" y="53.33" width="3.93" height="3.93" fill="#357398"/><rect x="83.33" y="53.33" width="3.93" height="3.93" fill="#347d98"/><rect x="86.67" y="53.33" width="3.93" height="3.93" fill="#368c97"/><rect x="90" y="53.33" width="3.93" height="3.93" fill="#347b98"/><rect x="93.33" y="53.33" width="3.93" height="3.93" fill="#3a5f96"/><rect x="96.67" y="53.33" width="13.93" height="3.93" fill="#434890"/><rect x="-10" y="56.67" width="13.93" height="3.93" fill="#45448f"/><rect x="3.33" y="56.67" width="3.93" height="3.93" fill="#3c5b95"/><rect x="6.67" y="56.67" width="3.93" height="3.93" fill="#368897"/><rect x="10" y="56.67" width="3.93" height="3.93" fill="#59c68f"/><rect x="13.33" y="56.67" width="3.93" height="3.93" fill="#52bf91"/><rect x="16.67" y="56.67" width="3.93" height="3.93" fill="#379696"/><rect x="20" y="56.67" width="3.93" height="3.93" fill="#483b8c"/><rect x="23.33" y="56.67" width="3.93" height="3.93" fill="#4d2683"/><rect x="26.67" y="56.67" width="3.93" height="3.93" fill="#473f8d"/><rect x="30" y="56.67" width="3.93" height="3.93" fill="#42ac95"/><rect x="33.33" y="56.67" width="3.93" height="3.93" fill="#74d57c"/><rect x="36.67" y="56.67" width="3.93" height="3.93" fill="#87db69"/><rect x="40" y="56.67" width="3.93" height="3.93" fill="#44b094"/><rect x="43.33" y="56.67" width="3.93" height="3.93" fill="#3a6196"/><rect x="46.67" y="56.67" width="3.93" height="3.93" fill="#473f8d"/><rect x="50" y="56.67" width="3.93" height="3.93" fill="#347998"/><rect x="53.33" y="56.67" width="3.93" height="3.93" fill="#347e98"/><rect x="56.67" y="56.67" width="3.93" height="3.93" fill="#357798"/><rect x="60" y="56.67" width="3.93" height="3.93" fill="#368897"/><rect x="63.33" y="56.67" width="3.93" height="3.93" fill="#43ae94"/><rect x="66.67" y="56.67" width="3.93" height="3.93" fill="#4bb993"/><rect x="70" y="56.67" width="3.93" height="3.93" fill="#358397"/><rect x="73.33" y="56.67" width="3.93" height="3.93" fill="#347e98"/><rect x="76.67" y="56.67" width="3.93" height="3.93" fill="#358597"/><rect x="80" y="56.67" width="3.93" height="3.93" fill="#347a98"/><rect x="83.33" y="56.67" width="3.93" height="3.93" fill="#368a97"/><rect x="86.67" y="56.67" width="3.93" height="3.93" fill="#399a96"/><rect x="90" y="56.67" width="3.93" height="3.93" fill="#368c97"/><rect x="93.33" y="56.67" width="3.93" height="3.93" fill="#366f97"/><rect x="96.67" y="56.67" width="13.93" height="3.93" fill="#3d5794"/><rect x="-10" y="60" width="13.93" height="3.93" fill="#493589"/><rect x="3.33" y="60" width="3.93" height="3.93" fill="#424c91"/><rect x="6.67" y="60" width="3.93" height="3.93" fill="#357798"/><rect x="10" y="60" width="3.93" height="3.93" fill="#50bd91"/><rect x="13.33" y="60" width="3.93" height="3.93" fill="#52bf91"/><rect x="16.67" y="60" width="3.93" height="3.93" fill="#42ad94"/><rect x="20" y="60" width="3.93" height="3.93" fill="#396496"/><rect x="23.33" y="60" width="3.93" height="3.93" fill="#3f5493"/><rect x="26.67" y="60" width="3.93" height="3.93" fill="#386897"/><rect x="30" y="60" width="3.93" height="3.93" fill="#4ab893"/><rect x="33.33" y="60" width="3.93" height="3.93" fill="#86db6a"/><rect x="36.67" y="60" width="3.93" height="3.93" fill="#b3e448"/><rect x="40" y="60" width="3.93" height="3.93" fill="#4fbc92"/><rect x="43.33" y="60" width="3.93" height="3.93" fill="#386997"/><rect x="46.67" y="60" width="3.93" height="3.93" fill="#483a8b"/><rect x="50" y="60" width="3.93" height="3.93" fill="#3b5e96"/><rect x="53.33" y="60" width="3.93" height="3.93" fill="#396596"/><rect x="56.67" y="60" width="3.93" height="3.93" fill="#386797"/><rect x="60" y="60" width="3.93" height="3.93" fill="#357798"/><rect x="63.33" y="60" width="3.93" height="3.93" fill="#379796"/><rect x="66.67" y="60" width="3.93" height="3.93" fill="#3fa695"/><rect x="70" y="60" width="3.93" height="3.93" fill="#367097"/><rect x="73.33" y="60" width="3.93" height="3.93" fill="#396596"/><rect x="76.67" y="60" width="3.93" height="3.93" fill="#386a97"/><rect x="80" y="60" width="3.93" height="3.93" fill="#357598"/><rect x="83.33" y="60" width="3.93" height="3.93" fill="#367197"/><rect x="86.67" y="60" width="3.93" height="3.93" fill="#376a97"/><rect x="90" y="60" width="3.93" height="3.93" fill="#386897"/><rect x="93.33" y="60" width="3.93" height="3.93" fill="#405092"/><rect x="96.67" y="60" width="13.93" height="3.93" fill="#48398b"/><rect x="-10" y="63.33" width="13.93" height="3.93" fill="#473d8c"/><rect x="3.33" y="63.33" width="3.93" height="3.93" fill="#3f5493"/><rect x="6.67" y="63.33" width="3.93" height="3.93" fill="#347998"/><rect x="10" y="63.33" width="3.93" height="3.93" fill="#44b194"/><rect x="13.33" y="63.33" width="3.93" height="3.93" fill="#4bb993"/><rect x="16.67" y="63.33" width="3.93" height="3.93" fill="#46b394"/><rect x="20" y="63.33" width="3.93" height="3.93" fill="#368e97"/><rect x="23.33" y="63.33" width="3.93" height="3.93" fill="#357798"/><rect x="26.67" y="63.33" width="3.93" height="3.93" fill="#347998"/><rect x="30" y="63.33" width="3.93" height="3.93" fill="#44b194"/><rect x="33.33" y="63.33" width="3.93" height="3.93" fill="#6fd481"/><rect x="36.67" y="63.33" width="3.93" height="3.93" fill="#82d96e"/><rect x="40" y="63.33" width="3.93" height="3.93" fill="#46b394"/><rect x="43.33" y="63.33" width="3.93" height="3.93" fill="#367197"/><rect x="46.67" y="63.33" width="3.93" height="3.93" fill="#44468f"/><rect x="50" y="63.33" width="3.93" height="3.93" fill="#473f8d"/><rect x="53.33" y="63.33" width="3.93" height="3.93" fill="#473d8c"/><rect x="56.67" y="63.33" width="3.93" height="3.93" fill="#46408e"/><rect x="60" y="63.33" width="3.93" height="3.93" fill="#405092"/><rect x="63.33" y="63.33" width="3.93" height="3.93" fill="#357798"/><rect x="66.67" y="63.33" width="3.93" height="3.93" fill="#3a9b96"/><rect x="70" y="63.33" width="3.93" height="3.93" fill="#379296"/><rect x="73.33" y="63.33" width="3.93" height="3.93" fill="#368a97"/><rect x="76.67" y="63.33" width="3.93" height="3.93" fill="#358098"/><rect x="80" y="63.33" width="3.93" height="3.93" fill="#366f97"/><rect x="83.33" y="63.33" width="3.93" height="3.93" fill="#3c5994"/><rect x="86.67" y="63.33" width="3.93" height="3.93" fill="#44468f"/><rect x="90" y="63.33" width="3.93" height="3.93" fill="#473f8d"/><rect x="93.33" y="63.33" width="3.93" height="3.93" fill="#4a3288"/><rect x="96.67" y="63.33" width="13.93" height="3.93" fill="#4d2683"/><rect x="-10" y="66.67" width="13.93" height="3.93" fill="#45448f"/><rect x="3.33" y="66.67" width="3.93" height="3.93" fill="#3d5794"/><rect x="6.67" y="66.67" width="3.93" height="3.93" fill="#367397"/><rect x="10" y="66.67" width="3.93" height="3.93" fill="#369196"/><rect x="13.33" y="66.67" width="3.93" height="3.93" fill="#3fa795"/><rect x="16.67" y="66.67" width="3.93" height="3.93" fill="#43ae94"/><rect x="20" y="66.67" width="3.93" height="3.93" fill="#3fa595"/><rect x="23.33" y="66.67" width="3.93" height="3.93" fill="#379596"/><rect x="26.67" y="66.67" width="3.93" height="3.93" fill="#368e97"/><rect x="30" y="66.67" width="3.93" height="3.93" fill="#3ea595"/><rect x="33.33" y="66.67" width="3.93" height="3.93" fill="#4dbb92"/><rect x="36.67" y="66.67" width="3.93" height="3.93" fill="#55c290"/><rect x="40" y="66.67" width="3.93" height="3.93" fill="#389796"/><rect x="43.33" y="66.67" width="3.93" height="3.93" fill="#367398"/><rect x="46.67" y="66.67" width="3.93" height="3.93" fill="#3e5593"/><rect x="50" y="66.67" width="3.93" height="3.93" fill="#4b3087"/><rect x="53.33" y="66.67" width="3.93" height="3.93" fill="#4d2884"/><rect x="56.67" y="66.67" width="3.93" height="3.93" fill="#4b2d86"/><rect x="60" y="66.67" width="3.93" height="3.93" fill="#483a8b"/><rect x="63.33" y="66.67" width="3.93" height="3.93" fill="#376b97"/><rect x="66.67" y="66.67" width="3.93" height="3.93" fill="#3fa695"/><rect x="70" y="66.67" width="3.93" height="3.93" fill="#4dbb92"/><rect x="73.33" y="66.67" width="3.93" height="3.93" fill="#4ab893"/><rect x="76.67" y="66.67" width="3.93" height="3.93" fill="#3fa695"/><rect x="80" y="66.67" width="3.93" height="3.93" fill="#367097"/><rect x="83.33" y="66.67" width="3.93" height="3.93" fill="#414e91"/><rect x="86.67" y="66.67" width="3.93" height="3.93" fill="#49388a"/><rect x="90" y="66.67" width="3.93" height="3.93" fill="#4a3388"/><rect x="93.33" y="66.67" width="3.93" height="3.93" fill="#4d2884"/><rect x="96.67" y="66.67" width="13.93" height="3.93" fill="#4c217c"/><rect x="-10" y="70" width="13.93" height="3.93" fill="#493589"/><rect x="3.33" y="70" width="3.93" height="3.93" fill="#48398b"/><rect x="6.67" y="70" width="3.93" height="3.93" fill="#46418e"/><rect x="10" y="70" width="3.93" height="3.93" fill="#3f5393"/><rect x="13.33" y="70" width="3.93" height="3.93" fill="#396396"/><rect x="16.67" y="70" width="3.93" height="3.93" fill="#367297"/><rect x="20" y="70" width="3.93" height="3.93" fill="#347d98"/><rect x="23.33" y="70" width="3.93" height="3.93" fill="#3fa695"/><rect x="26.67" y="70" width="3.93" height="3.93" fill="#4dba92"/><rect x="30" y="70" width="3.93" height="3.93" fill="#43ae94"/><rect x="33.33" y="70" width="3.93" height="3.93" fill="#3fa695"/><rect x="36.67" y="70" width="3.93" height="3.93" fill="#389796"/><rect x="40" y="70" width="3.93" height="3.93" fill="#367197"/><rect x="43.33" y="70" width="3.93" height="3.93" fill="#396396"/><rect x="46.67" y="70" width="3.93" height="3.93" fill="#3b5d95"/><rect x="50" y="70" width="3.93" height="3.93" fill="#3e5593"/><rect x="53.33" y="70" width="3.93" height="3.93" fill="#3b5d95"/><rect x="56.67" y="70" width="3.93" height="3.93" fill="#386897"/><rect x="60" y="70" width="3.93" height="3.93" fill="#376a97"/><rect x="63.33" y="70" width="3.93" height="3.93" fill="#3b9e96"/><rect x="66.67" y="70" width="3.93" height="3.93" fill="#57c490"/><rect x="70" y="70" width="3.93" height="3.93" fill="#6bd285"/><rect x="73.33" y="70" width="3.93" height="3.93" fill="#61cd8d"/><rect x="76.67" y="70" width="3.93" height="3.93" fill="#4bb993"/><rect x="80" y="70" width="3.93" height="3.93" fill="#358397"/><rect x="83.33" y="70" width="3.93" height="3.93" fill="#396596"/><rect x="86.67" y="70" width="3.93" height="3.93" fill="#3a6096"/><rect x="90" y="70" width="3.93" height="3.93" fill="#358797"/><rect x="93.33" y="70" width="3.93" height="3.93" fill="#3b5d95"/><rect x="96.67" y="70" width="13.93" height="3.93" fill="#4b2e86"/><rect x="-10" y="73.33" width="13.93" height="3.93" fill="#4d2683"/><rect x="3.33" y="73.33" width="3.93" height="3.93" fill="#4d2683"/><rect x="6.67" y="73.33" width="3.93" height="3.93" fill="#4c2a85"/><rect x="10" y="73.33" width="3.93" height="3.93" fill="#48398b"/><rect x="13.33" y="73.33" width="3.93" height="3.93" fill="#434890"/><rect x="16.67" y="73.33" width="3.93" height="3.93" fill="#3c5994"/><rect x="20" y="73.33" width="3.93" height="3.93" fill="#367197"/><rect x="23.33" y="73.33" width="3.93" height="3.93" fill="#43ae94"/><rect x="26.67" y="73.33" width="3.93" height="3.93" fill="#5bc88e"/><rect x="30" y="73.33" width="3.93" height="3.93" fill="#49b693"/><rect x="33.33" y="73.33" width="3.93" height="3.93" fill="#3b9e96"/><rect x="36.67" y="73.33" width="3.93" height="3.93" fill="#358297"/><rect x="40" y="73.33" width="3.93" height="3.93" fill="#347998"/><rect x="43.33" y="73.33" width="3.93" height="3.93" fill="#367197"/><rect x="46.67" y="73.33" width="3.93" height="3.93" fill="#367398"/><rect x="50" y="73.33" width="3.93" height="3.93" fill="#379596"/><rect x="53.33" y="73.33" width="3.93" height="3.93" fill="#3b9d96"/><rect x="56.67" y="73.33" width="3.93" height="3.93" fill="#379796"/><rect x="60" y="73.33" width="3.93" height="3.93" fill="#347d98"/><rect x="63.33" y="73.33" width="3.93" height="3.93" fill="#3ea495"/><rect x="66.67" y="73.33" width="3.93" height="3.93" fill="#5cc98e"/><rect x="70" y="73.33" width="3.93" height="3.93" fill="#87db69"/><rect x="73.33" y="73.33" width="3.93" height="3.93" fill="#79d777"/><rect x="76.67" y="73.33" width="3.93" height="3.93" fill="#57c490"/><rect x="80" y="73.33" width="3.93" height="3.93" fill="#379596"/><rect x="83.33" y="73.33" width="3.93" height="3.93" fill="#367197"/><rect x="86.67" y="73.33" width="3.93" height="3.93" fill="#386997"/><rect x="90" y="73.33" width="3.93" height="3.93" fill="#379296"/><rect x="93.33" y="73.33" width="3.93" height="3.93" fill="#396596"/><rect x="96.67" y="73.33" width="13.93" height="3.93" fill="#4a3288"/><rect x="-10" y="76.67" width="13.93" height="3.93" fill="#4b1f78"/><rect x="3.33" y="76.67" width="3.93" height="3.93" fill="#4b1f78"/><rect x="6.67" y="76.67" width="3.93" height="3.93" fill="#4c217c"/><rect x="10" y="76.67" width="3.93" height="3.93" fill="#4b2e86"/><rect x="13.33" y="76.67" width="3.93" height="3.93" fill="#473d8c"/><rect x="16.67" y="76.67" width="3.93" height="3.93" fill="#404f92"/><rect x="20" y="76.67" width="3.93" height="3.93" fill="#376c97"/><rect x="23.33" y="76.67" width="3.93" height="3.93" fill="#42ab95"/><rect x="26.67" y="76.67" width="3.93" height="3.93" fill="#57c48f"/><rect x="30" y="76.67" width="3.93" height="3.93" fill="#46b494"/><rect x="33.33" y="76.67" width="3.93" height="3.93" fill="#379296"/><rect x="36.67" y="76.67" width="3.93" height="3.93" fill="#347898"/><rect x="40" y="76.67" width="3.93" height="3.93" fill="#368c97"/><rect x="43.33" y="76.67" width="3.93" height="3.93" fill="#358297"/><rect x="46.67" y="76.67" width="3.93" height="3.93" fill="#358597"/><rect x="50" y="76.67" width="3.93" height="3.93" fill="#51be91"/><rect x="53.33" y="76.67" width="3.93" height="3.93" fill="#59c68f"/><rect x="56.67" y="76.67" width="3.93" height="3.93" fill="#4ebc92"/><rect x="60" y="76.67" width="3.93" height="3.93" fill="#368b97"/><rect x="63.33" y="76.67" width="3.93" height="3.93" fill="#3a9b96"/><rect x="66.67" y="76.67" width="3.93" height="3.93" fill="#55c290"/><rect x="70" y="76.67" width="3.93" height="3.93" fill="#94de5d"/><rect x="73.33" y="76.67" width="3.93" height="3.93" fill="#82d96e"/><rect x="76.67" y="76.67" width="3.93" height="3.93" fill="#59c58f"/><rect x="80" y="76.67" width="3.93" height="3.93" fill="#379596"/><rect x="83.33" y="76.67" width="3.93" height="3.93" fill="#376b97"/><rect x="86.67" y="76.67" width="3.93" height="3.93" fill="#3c5a95"/><rect x="90" y="76.67" width="3.93" height="3.93" fill="#357598"/><rect x="93.33" y="76.67" width="3.93" height="3.93" fill="#3f5493"/><rect x="96.67" y="76.67" width="13.93" height="3.93" fill="#4b2e86"/><rect x="-10" y="80" width="13.93" height="3.93" fill="#4b1f78"/><rect x="3.33" y="80" width="3.93" height="3.93" fill="#4b1f78"/><rect x="6.67" y="80" width="3.93" height="3.93" fill="#4c217c"/><rect x="10" y="80" width="3.93" height="3.93" fill="#4b2e86"/><rect x="13.33" y="80" width="3.93" height="3.93" fill="#473d8c"/><rect x="16.67" y="80" width="3.93" height="3.93" fill="#414c91"/><rect x="20" y="80" width="3.93" height="3.93" fill="#3a5e96"/><rect x="23.33" y="80" width="3.93" height="3.93" fill="#357798"/><rect x="26.67" y="80" width="3.93" height="3.93" fill="#358797"/><rect x="30" y="80" width="3.93" height="3.93" fill="#357498"/><rect x="33.33" y="80" width="3.93" height="3.93" fill="#386997"/><rect x="36.67" y="80" width="3.93" height="3.93" fill="#376a97"/><rect x="40" y="80" width="3.93" height="3.93" fill="#368997"/><rect x="43.33" y="80" width="3.93" height="3.93" fill="#347998"/><rect x="46.67" y="80" width="3.93" height="3.93" fill="#347a98"/><rect x="50" y="80" width="3.93" height="3.93" fill="#57c48f"/><rect x="53.33" y="80" width="3.93" height="3.93" fill="#76d67a"/><rect x="56.67" y="80" width="3.93" height="3.93" fill="#77d679"/><rect x="60" y="80" width="3.93" height="3.93" fill="#40a895"/><rect x="63.33" y="80" width="3.93" height="3.93" fill="#379296"/><rect x="66.67" y="80" width="3.93" height="3.93" fill="#42ac95"/><rect x="70" y="80" width="3.93" height="3.93" fill="#6ad286"/><rect x="73.33" y="80" width="3.93" height="3.93" fill="#61cd8d"/><rect x="76.67" y="80" width="3.93" height="3.93" fill="#45b294"/><rect x="80" y="80" width="3.93" height="3.93" fill="#386697"/><rect x="83.33" y="80" width="3.93" height="3.93" fill="#473d8c"/><rect x="86.67" y="80" width="3.93" height="3.93" fill="#4d2884"/><rect x="90" y="80" width="3.93" height="3.93" fill="#4c2d86"/><rect x="93.33" y="80" width="3.93" height="3.93" fill="#4d2683"/><rect x="96.67" y="80" width="13.93" height="3.93" fill="#4c217c"/><rect x="-10" y="83.33" width="13.93" height="3.93" fill="#4b1f78"/><rect x="3.33" y="83.33" width="3.93" height="3.93" fill="#4d227e"/><rect x="6.67" y="83.33" width="3.93" height="3.93" fill="#4c2a85"/><rect x="10" y="83.33" width="3.93" height="3.93" fill="#48398b"/><rect x="13.33" y="83.33" width="3.93" height="3.93" fill="#434890"/><rect x="16.67" y="83.33" width="3.93" height="3.93" fill="#3e5593"/><rect x="20" y="83.33" width="3.93" height="3.93" fill="#3b5d95"/><rect x="23.33" y="83.33" width="3.93" height="3.93" fill="#396596"/><rect x="26.67" y="83.33" width="3.93" height="3.93" fill="#386797"/><rect x="30" y="83.33" width="3.93" height="3.93" fill="#3d5794"/><rect x="33.33" y="83.33" width="3.93" height="3.93" fill="#3c5994"/><rect x="36.67" y="83.33" width="3.93" height="3.93" fill="#396596"/><rect x="40" y="83.33" width="3.93" height="3.93" fill="#347e98"/><rect x="43.33" y="83.33" width="3.93" height="3.93" fill="#376b97"/><rect x="46.67" y="83.33" width="3.93" height="3.93" fill="#386797"/><rect x="50" y="83.33" width="3.93" height="3.93" fill="#46b494"/><rect x="53.33" y="83.33" width="3.93" height="3.93" fill="#60cc8d"/><rect x="56.67" y="83.33" width="3.93" height="3.93" fill="#61cd8d"/><rect x="60" y="83.33" width="3.93" height="3.93" fill="#368e97"/><rect x="63.33" y="83.33" width="3.93" height="3.93" fill="#357798"/><rect x="66.67" y="83.33" width="3.93" height="3.93" fill="#358297"/><rect x="70" y="83.33" width="3.93" height="3.93" fill="#42ac95"/><rect x="73.33" y="83.33" width="3.93" height="3.93" fill="#3b9e96"/><rect x="76.67" y="83.33" width="3.93" height="3.93" fill="#357598"/><rect x="80" y="83.33" width="3.93" height="3.93" fill="#473f8d"/><rect x="83.33" y="83.33" width="3.93" height="3.93" fill="#4d227e"/><rect x="86.67" y="83.33" width="3.93" height="3.93" fill="#4a1c73"/><rect x="90" y="83.33" width="3.93" height="3.93" fill="#4a1c73"/><rect x="93.33" y="83.33" width="3.93" height="3.93" fill="#4a1d74"/><rect x="96.67" y="83.33" width="13.93" height="3.93" fill="#4a1d75"/><rect x="-10" y="86.67" width="13.93" height="3.93" fill="#4b1f78"/><rect x="3.33" y="86.67" width="3.93" height="3.93" fill="#4d2683"/><rect x="6.67" y="86.67" width="3.93" height="3.93" fill="#493589"/><rect x="10" y="86.67" width="3.93" height="3.93" fill="#45448f"/><rect x="13.33" y="86.67" width="3.93" height="3.93" fill="#3f5292"/><rect x="16.67" y="86.67" width="3.93" height="3.93" fill="#3b5e96"/><rect x="20" y="86.67" width="3.93" height="3.93" fill="#386897"/><rect x="23.33" y="86.67" width="3.93" height="3.93" fill="#396596"/><rect x="26.67" y="86.67" width="3.93" height="3.93" fill="#3c5b95"/><rect x="30" y="86.67" width="3.93" height="3.93" fill="#434990"/><rect x="33.33" y="86.67" width="3.93" height="3.93" fill="#3f5493"/><rect x="36.67" y="86.67" width="3.93" height="3.93" fill="#386696"/><rect x="40" y="86.67" width="3.93" height="3.93" fill="#367197"/><rect x="43.33" y="86.67" width="3.93" height="3.93" fill="#3c5b95"/><rect x="46.67" y="86.67" width="3.93" height="3.93" fill="#3f5292"/><rect x="50" y="86.67" width="3.93" height="3.93" fill="#368a97"/><rect x="53.33" y="86.67" width="3.93" height="3.93" fill="#3fa695"/><rect x="56.67" y="86.67" width="3.93" height="3.93" fill="#3ea395"/><rect x="60" y="86.67" width="3.93" height="3.93" fill="#396696"/><rect x="63.33" y="86.67" width="3.93" height="3.93" fill="#3d5794"/><rect x="66.67" y="86.67" width="3.93" height="3.93" fill="#3c5a95"/><rect x="70" y="86.67" width="3.93" height="3.93" fill="#396496"/><rect x="73.33" y="86.67" width="3.93" height="3.93" fill="#3f5393"/><rect x="76.67" y="86.67" width="3.93" height="3.93" fill="#483a8b"/><rect x="80" y="86.67" width="3.93" height="3.93" fill="#4d227f"/><rect x="83.33" y="86.67" width="3.93" height="3.93" fill="#4a1c73"/><rect x="86.67" y="86.67" width="3.93" height="3.93" fill="#491a6f"/><rect x="90" y="86.67" width="3.93" height="3.93" fill="#491b70"/><rect x="93.33" y="86.67" width="3.93" height="3.93" fill="#491c72"/><rect x="96.67" y="86.67" width="13.93" height="3.93" fill="#4a1d73"/><rect x="-10" y="90" width="13.93" height="3.93" fill="#4b1f78"/><rect x="3.33" y="90" width="3.93" height="3.93" fill="#4d2683"/><rect x="6.67" y="90" width="3.93" height="3.93" fill="#493589"/><rect x="10" y="90" width="3.93" height="3.93" fill="#45448f"/><rect x="13.33" y="90" width="3.93" height="3.93" fill="#424a90"/><rect x="16.67" y="90" width="3.93" height="3.93" fill="#3d5994"/><rect x="20" y="90" width="3.93" height="3.93" fill="#368f96"/><rect x="23.33" y="90" width="3.93" height="3.93" fill="#347d98"/><rect x="26.67" y="90" width="3.93" height="3.93" fill="#3d5894"/><rect x="30" y="90" width="3.93" height="3.93" fill="#473c8c"/><rect x="33.33" y="90" width="3.93" height="3.93" fill="#3f5493"/><rect x="36.67" y="90" width="3.93" height="3.93" fill="#367197"/><rect x="40" y="90" width="3.93" height="3.93" fill="#386696"/><rect x="43.33" y="90" width="3.93" height="3.93" fill="#424c91"/><rect x="46.67" y="90" width="3.93" height="3.93" fill="#483b8b"/><rect x="50" y="90" width="3.93" height="3.93" fill="#3f5292"/><rect x="53.33" y="90" width="3.93" height="3.93" fill="#396396"/><rect x="56.67" y="90" width="3.93" height="3.93" fill="#386696"/><rect x="60" y="90" width="3.93" height="3.93" fill="#46428e"/><rect x="63.33" y="90" width="3.93" height="3.93" fill="#48398b"/><rect x="66.67" y="90" width="3.93" height="3.93" fill="#49368a"/><rect x="70" y="90" width="3.93" height="3.93" fill="#4c2d86"/><rect x="73.33" y="90" width="3.93" height="3.93" fill="#4d2683"/><rect x="76.67" y="90" width="3.93" height="3.93" fill="#4d227f"/><rect x="80" y="90" width="3.93" height="3.93" fill="#4b1f79"/><rect x="83.33" y="90" width="3.93" height="3.93" fill="#4a1c73"/><rect x="86.67" y="90" width="3.93" height="3.93" fill="#491b70"/><rect x="90" y="90" width="3.93" height="3.93" fill="#491c72"/><rect x="93.33" y="90" width="3.93" height="3.93" fill="#4a1d74"/><rect x="96.67" y="90" width="13.93" height="3.93" fill="#4b1e77"/><rect x="-10" y="93.33" width="13.93" height="3.93" fill="#4b1f78"/><rect x="3.33" y="93.33" width="3.93" height="3.93" fill="#4d227e"/><rect x="6.67" y="93.33" width="3.93" height="3.93" fill="#4c2a85"/><rect x="10" y="93.33" width="3.93" height="3.93" fill="#48398b"/><rect x="13.33" y="93.33" width="3.93" height="3.93" fill="#473d8c"/><rect x="16.67" y="93.33" width="3.93" height="3.93" fill="#434890"/><rect x="20" y="93.33" width="3.93" height="3.93" fill="#357798"/><rect x="23.33" y="93.33" width="3.93" height="3.93" fill="#396596"/><rect x="26.67" y="93.33" width="3.93" height="3.93" fill="#46428e"/><rect x="30" y="93.33" width="3.93" height="3.93" fill="#4c2c85"/><rect x="33.33" y="93.33" width="3.93" height="3.93" fill="#46428e"/><rect x="36.67" y="93.33" width="3.93" height="3.93" fill="#3c5b95"/><rect x="40" y="93.33" width="3.93" height="3.93" fill="#424c91"/><rect x="43.33" y="93.33" width="3.93" height="3.93" fill="#49378a"/><rect x="46.67" y="93.33" width="3.93" height="3.93" fill="#4d2884"/><rect x="50" y="93.33" width="3.93" height="3.93" fill="#4b3087"/><rect x="53.33" y="93.33" width="3.93" height="3.93" fill="#473d8c"/><rect x="56.67" y="93.33" width="3.93" height="3.93" fill="#45428e"/><rect x="60" y="93.33" width="3.93" height="3.93" fill="#4c2c85"/><rect x="63.33" y="93.33" width="3.93" height="3.93" fill="#4d2683"/><rect x="66.67" y="93.33" width="3.93" height="3.93" fill="#4d2683"/><rect x="70" y="93.33" width="3.93" height="3.93" fill="#4d2683"/><rect x="73.33" y="93.33" width="3.93" height="3.93" fill="#4a3288"/><rect x="76.67" y="93.33" width="3.93" height="3.93" fill="#483b8b"/><rect x="80" y="93.33" width="3.93" height="3.93" fill="#4a3388"/><rect x="83.33" y="93.33" width="3.93" height="3.93" fill="#4d2683"/><rect x="86.67" y="93.33" width="3.93" height="3.93" fill="#4b1e77"/><rect x="90" y="93.33" width="3.93" height="3.93" fill="#4a1e75"/><rect x="93.33" y="93.33" width="3.93" height="3.93" fill="#4a1d75"/><rect x="96.67" y="93.33" width="13.93" height="3.93" fill="#4a1d75"/><rect x="-10" y="96.67" width="13.93" height="13.93" fill="#4b1f78"/><rect x="3.33" y="96.67" width="3.93" height="13.93" fill="#4b1f78"/><rect x="6.67" y="96.67" width="3.93" height="13.93" fill="#4c217c"/><rect x="10" y="96.67" width="3.93" height="13.93" fill="#4b2e86"/><rect x="13.33" y="96.67" width="3.93" height="13.93" fill="#4a3288"/><rect x="16.67" y="96.67" width="3.93" height="13.93" fill="#48398b"/><rect x="20" y="96.67" width="3.93" height="13.93" fill="#3d5794"/><rect x="23.33" y="96.67" width="3.93" height="13.93" fill="#434890"/><rect x="26.67" y="96.67" width="3.93" height="13.93" fill="#4b2e86"/><rect x="30" y="96.67" width="3.93" height="13.93" fill="#4c217c"/><rect x="33.33" y="96.67" width="3.93" height="13.93" fill="#4a3288"/><rect x="36.67" y="96.67" width="3.93" height="13.93" fill="#45448f"/><rect x="40" y="96.67" width="3.93" height="13.93" fill="#493589"/><rect x="43.33" y="96.67" width="3.93" height="13.93" fill="#4d2683"/><rect x="46.67" y="96.67" width="3.93" height="13.93" fill="#4b1f78"/><rect x="50" y="96.67" width="3.93" height="13.93" fill="#4b1f78"/><rect x="53.33" y="96.67" width="3.93" height="13.93" fill="#4d2683"/><rect x="56.67" y="96.67" width="3.93" height="13.93" fill="#4b2e86"/><rect x="60" y="96.67" width="3.93" height="13.93" fill="#4c217c"/><rect x="63.33" y="96.67" width="3.93" height="13.93" fill="#4b1f78"/><rect x="66.67" y="96.67" width="3.93" height="13.93" fill="#4c217c"/><rect x="70" y="96.67" width="3.93" height="13.93" fill="#4b2e86"/><rect x="73.33" y="96.67" width="3.93" height="13.93" fill="#434890"/><rect x="76.67" y="96.67" width="3.93" height="13.93" fill="#3c5b95"/><rect x="80" y="96.67" width="3.93" height="13.93" fill="#424c91"/><rect x="83.33" y="96.67" width="3.93" height="13.93" fill="#473d8c"/><rect x="86.67" y="96.67" width="3.93" height="13.93" fill="#4b2e86"/><rect x="90" y="96.67" width="3.93" height="13.93" fill="#4c217c"/><rect x="93.33" y="96.67" width="3.93" height="13.93" fill="#4a1d75"/><rect x="96.67" y="96.67" width="13.93" height="13.93" fill="#4a1c73"/></g></g></g>
<g transform="translate(478.8,322.6) scale(0.998,0.992)" clip-path="url(#sq)"><g filter="url(#bl2)"><g shape-rendering="crispEdges"><rect x="-10" y="-10" width="15.6" height="15.6" fill="#46418e"/><rect x="5" y="-10" width="5.6" height="15.6" fill="#444790"/><rect x="10" y="-10" width="5.6" height="15.6" fill="#3f5393"/><rect x="15" y="-10" width="5.6" height="15.6" fill="#3a6096"/><rect x="20" y="-10" width="5.6" height="15.6" fill="#376e97"/><rect x="25" y="-10" width="5.6" height="15.6" fill="#347b98"/><rect x="30" y="-10" width="5.6" height="15.6" fill="#368997"/><rect x="35" y="-10" width="5.6" height="15.6" fill="#379596"/><rect x="40" y="-10" width="5.6" height="15.6" fill="#3ca095"/><rect x="45" y="-10" width="5.6" height="15.6" fill="#3da195"/><rect x="50" y="-10" width="5.6" height="15.6" fill="#399a96"/><rect x="55" y="-10" width="5.6" height="15.6" fill="#368c97"/><rect x="60" y="-10" width="5.6" height="15.6" fill="#357798"/><rect x="65" y="-10" width="5.6" height="15.6" fill="#3a5f96"/><rect x="70" y="-10" width="5.6" height="15.6" fill="#46418e"/><rect x="75" y="-10" width="5.6" height="15.6" fill="#4c2b85"/><rect x="80" y="-10" width="5.6" height="15.6" fill="#4c2079"/><rect x="85" y="-10" width="5.6" height="15.6" fill="#481a6f"/><rect x="90" y="-10" width="5.6" height="15.6" fill="#48186b"/><rect x="95" y="-10" width="15.6" height="15.6" fill="#47176a"/><rect x="-10" y="5" width="15.6" height="5.6" fill="#44458f"/><rect x="5" y="5" width="5.6" height="5.6" fill="#424c91"/><rect x="10" y="5" width="5.6" height="5.6" fill="#3c5a95"/><rect x="15" y="5" width="5.6" height="5.6" fill="#386797"/><rect x="20" y="5" width="5.6" height="5.6" fill="#357698"/><rect x="25" y="5" width="5.6" height="5.6" fill="#358597"/><rect x="30" y="5" width="5.6" height="5.6" fill="#379496"/><rect x="35" y="5" width="5.6" height="5.6" fill="#3ea495"/><rect x="40" y="5" width="5.6" height="5.6" fill="#45b194"/><rect x="45" y="5" width="5.6" height="5.6" fill="#47b594"/><rect x="50" y="5" width="5.6" height="5.6" fill="#43ae94"/><rect x="55" y="5" width="5.6" height="5.6" fill="#3b9e95"/><rect x="60" y="5" width="5.6" height="5.6" fill="#358697"/><rect x="65" y="5" width="5.6" height="5.6" fill="#376b97"/><rect x="70" y="5" width="5.6" height="5.6" fill="#424c91"/><rect x="75" y="5" width="5.6" height="5.6" fill="#4a3388"/><rect x="80" y="5" width="5.6" height="5.6" fill="#4d237f"/><rect x="85" y="5" width="5.6" height="5.6" fill="#4a1c72"/><rect x="90" y="5" width="5.6" height="5.6" fill="#481a6e"/><rect x="95" y="5" width="15.6" height="5.6" fill="#48186b"/><rect x="-10" y="10" width="15.6" height="5.6" fill="#424c91"/><rect x="5" y="10" width="5.6" height="5.6" fill="#3e5593"/><rect x="10" y="10" width="5.6" height="5.6" fill="#386697"/><rect x="15" y="10" width="5.6" height="5.6" fill="#357698"/><rect x="20" y="10" width="5.6" height="5.6" fill="#358697"/><rect x="25" y="10" width="5.6" height="5.6" fill="#389796"/><rect x="30" y="10" width="5.6" height="5.6" fill="#42ac95"/><rect x="35" y="10" width="5.6" height="5.6" fill="#52bf91"/><rect x="40" y="10" width="5.6" height="5.6" fill="#66d18a"/><rect x="45" y="10" width="5.6" height="5.6" fill="#72d47e"/><rect x="50" y="10" width="5.6" height="5.6" fill="#6cd284"/><rect x="55" y="10" width="5.6" height="5.6" fill="#57c48f"/><rect x="60" y="10" width="5.6" height="5.6" fill="#3fa695"/><rect x="65" y="10" width="5.6" height="5.6" fill="#358497"/><rect x="70" y="10" width="5.6" height="5.6" fill="#396296"/><rect x="75" y="10" width="5.6" height="5.6" fill="#45438f"/><rect x="80" y="10" width="5.6" height="5.6" fill="#4c2c85"/><rect x="85" y="10" width="5.6" height="5.6" fill="#4c207a"/><rect x="90" y="10" width="5.6" height="5.6" fill="#4a1c72"/><rect x="95" y="10" width="15.6" height="5.6" fill="#481a6f"/><rect x="-10" y="15" width="15.6" height="5.6" fill="#3e5493"/><rect x="5" y="15" width="5.6" height="5.6" fill="#3a5e96"/><rect x="10" y="15" width="5.6" height="5.6" fill="#367097"/><rect x="15" y="15" width="5.6" height="5.6" fill="#358197"/><rect x="20" y="15" width="5.6" height="5.6" fill="#379196"/><rect x="25" y="15" width="5.6" height="5.6" fill="#3ea595"/><rect x="30" y="15" width="5.6" height="5.6" fill="#4cba92"/><rect x="35" y="15" width="5.6" height="5.6" fill="#62ce8c"/><rect x="40" y="15" width="5.6" height="5.6" fill="#83da6d"/><rect x="45" y="15" width="5.6" height="5.6" fill="#92de5f"/><rect x="50" y="15" width="5.6" height="5.6" fill="#8edd62"/><rect x="55" y="15" width="5.6" height="5.6" fill="#76d67a"/><rect x="60" y="15" width="5.6" height="5.6" fill="#53c091"/><rect x="65" y="15" width="5.6" height="5.6" fill="#3b9e96"/><rect x="70" y="15" width="5.6" height="5.6" fill="#357798"/><rect x="75" y="15" width="5.6" height="5.6" fill="#3d5794"/><rect x="80" y="15" width="5.6" height="5.6" fill="#483b8b"/><rect x="85" y="15" width="5.6" height="5.6" fill="#4d2884"/><rect x="90" y="15" width="5.6" height="5.6" fill="#4c217c"/><rect x="95" y="15" width="15.6" height="5.6" fill="#4b1e77"/><rect x="-10" y="20" width="15.6" height="5.6" fill="#3c5b95"/><rect x="5" y="20" width="5.6" height="5.6" fill="#396596"/><rect x="10" y="20" width="5.6" height="5.6" fill="#347998"/><rect x="15" y="20" width="5.6" height="5.6" fill="#368a97"/><rect x="20" y="20" width="5.6" height="5.6" fill="#399996"/><rect x="25" y="20" width="5.6" height="5.6" fill="#42ab95"/><rect x="30" y="20" width="5.6" height="5.6" fill="#52bf91"/><rect x="35" y="20" width="5.6" height="5.6" fill="#68d188"/><rect x="40" y="20" width="5.6" height="5.6" fill="#88db68"/><rect x="45" y="20" width="5.6" height="5.6" fill="#99df5a"/><rect x="50" y="20" width="5.6" height="5.6" fill="#98df5a"/><rect x="55" y="20" width="5.6" height="5.6" fill="#87db69"/><rect x="60" y="20" width="5.6" height="5.6" fill="#69d187"/><rect x="65" y="20" width="5.6" height="5.6" fill="#49b793"/><rect x="70" y="20" width="5.6" height="5.6" fill="#368f96"/><rect x="75" y="20" width="5.6" height="5.6" fill="#376d97"/><rect x="80" y="20" width="5.6" height="5.6" fill="#414e92"/><rect x="85" y="20" width="5.6" height="5.6" fill="#49388a"/><rect x="90" y="20" width="5.6" height="5.6" fill="#4c2b85"/><rect x="95" y="20" width="15.6" height="5.6" fill="#4e2582"/><rect x="-10" y="25" width="15.6" height="5.6" fill="#3a6196"/><rect x="5" y="25" width="5.6" height="5.6" fill="#376b97"/><rect x="10" y="25" width="5.6" height="5.6" fill="#358198"/><rect x="15" y="25" width="5.6" height="5.6" fill="#379296"/><rect x="20" y="25" width="5.6" height="5.6" fill="#3c9f95"/><rect x="25" y="25" width="5.6" height="5.6" fill="#43ae94"/><rect x="30" y="25" width="5.6" height="5.6" fill="#51be91"/><rect x="35" y="25" width="5.6" height="5.6" fill="#64d08c"/><rect x="40" y="25" width="5.6" height="5.6" fill="#83da6d"/><rect x="45" y="25" width="5.6" height="5.6" fill="#95df5c"/><rect x="50" y="25" width="5.6" height="5.6" fill="#9ae059"/><rect x="55" y="25" width="5.6" height="5.6" fill="#92de5f"/><rect x="60" y="25" width="5.6" height="5.6" fill="#81d96f"/><rect x="65" y="25" width="5.6" height="5.6" fill="#62ce8d"/><rect x="70" y="25" width="5.6" height="5.6" fill="#44b094"/><rect x="75" y="25" width="5.6" height="5.6" fill="#369096"/><rect x="80" y="25" width="5.6" height="5.6" fill="#367397"/><rect x="85" y="25" width="5.6" height="5.6" fill="#3b5c95"/><rect x="90" y="25" width="5.6" height="5.6" fill="#434990"/><rect x="95" y="25" width="15.6" height="5.6" fill="#46408d"/><rect x="-10" y="30" width="15.6" height="5.6" fill="#396596"/><rect x="5" y="30" width="5.6" height="5.6" fill="#367097"/><rect x="10" y="30" width="5.6" height="5.6" fill="#358797"/><rect x="15" y="30" width="5.6" height="5.6" fill="#389896"/><rect x="20" y="30" width="5.6" height="5.6" fill="#3da295"/><rect x="25" y="30" width="5.6" height="5.6" fill="#43ad94"/><rect x="30" y="30" width="5.6" height="5.6" fill="#4bb893"/><rect x="35" y="30" width="5.6" height="5.6" fill="#5ac78f"/><rect x="40" y="30" width="5.6" height="5.6" fill="#73d57d"/><rect x="45" y="30" width="5.6" height="5.6" fill="#88db68"/><rect x="50" y="30" width="5.6" height="5.6" fill="#95df5c"/><rect x="55" y="30" width="5.6" height="5.6" fill="#99df5a"/><rect x="60" y="30" width="5.6" height="5.6" fill="#92de5f"/><rect x="65" y="30" width="5.6" height="5.6" fill="#84da6c"/><rect x="70" y="30" width="5.6" height="5.6" fill="#6ed382"/><rect x="75" y="30" width="5.6" height="5.6" fill="#56c390"/><rect x="80" y="30" width="5.6" height="5.6" fill="#41a995"/><rect x="85" y="30" width="5.6" height="5.6" fill="#368f96"/><rect x="90" y="30" width="5.6" height="5.6" fill="#357798"/><rect x="95" y="30" width="15.6" height="5.6" fill="#376b97"/><rect x="-10" y="35" width="15.6" height="5.6" fill="#386897"/><rect x="5" y="35" width="5.6" height="5.6" fill="#357498"/><rect x="10" y="35" width="5.6" height="5.6" fill="#368c97"/><rect x="15" y="35" width="5.6" height="5.6" fill="#3a9c96"/><rect x="20" y="35" width="5.6" height="5.6" fill="#3ea495"/><rect x="25" y="35" width="5.6" height="5.6" fill="#42ac95"/><rect x="30" y="35" width="5.6" height="5.6" fill="#46b394"/><rect x="35" y="35" width="5.6" height="5.6" fill="#52bf91"/><rect x="40" y="35" width="5.6" height="5.6" fill="#63cf8c"/><rect x="45" y="35" width="5.6" height="5.6" fill="#7ad776"/><rect x="50" y="35" width="5.6" height="5.6" fill="#8cdd64"/><rect x="55" y="35" width="5.6" height="5.6" fill="#9be058"/><rect x="60" y="35" width="5.6" height="5.6" fill="#a2e154"/><rect x="65" y="35" width="5.6" height="5.6" fill="#a4e152"/><rect x="70" y="35" width="5.6" height="5.6" fill="#a0e155"/><rect x="75" y="35" width="5.6" height="5.6" fill="#8ddd63"/><rect x="80" y="35" width="5.6" height="5.6" fill="#72d47e"/><rect x="85" y="35" width="5.6" height="5.6" fill="#56c390"/><rect x="90" y="35" width="5.6" height="5.6" fill="#40a795"/><rect x="95" y="35" width="15.6" height="5.6" fill="#389996"/><rect x="-10" y="40" width="15.6" height="5.6" fill="#376b97"/><rect x="5" y="40" width="5.6" height="5.6" fill="#357798"/><rect x="10" y="40" width="5.6" height="5.6" fill="#368e97"/><rect x="15" y="40" width="5.6" height="5.6" fill="#3b9e95"/><rect x="20" y="40" width="5.6" height="5.6" fill="#3fa695"/><rect x="25" y="40" width="5.6" height="5.6" fill="#42ac95"/><rect x="30" y="40" width="5.6" height="5.6" fill="#44af94"/><rect x="35" y="40" width="5.6" height="5.6" fill="#4ab893"/><rect x="40" y="40" width="5.6" height="5.6" fill="#58c58f"/><rect x="45" y="40" width="5.6" height="5.6" fill="#68d188"/><rect x="50" y="40" width="5.6" height="5.6" fill="#80d970"/><rect x="55" y="40" width="5.6" height="5.6" fill="#96df5c"/><rect x="60" y="40" width="5.6" height="5.6" fill="#ade34d"/><rect x="65" y="40" width="5.6" height="5.6" fill="#bee641"/><rect x="70" y="40" width="5.6" height="5.6" fill="#cbe838"/><rect x="75" y="40" width="5.6" height="5.6" fill="#cae839"/><rect x="80" y="40" width="5.6" height="5.6" fill="#bce542"/><rect x="85" y="40" width="5.6" height="5.6" fill="#9be058"/><rect x="90" y="40" width="5.6" height="5.6" fill="#73d57d"/><rect x="95" y="40" width="15.6" height="5.6" fill="#61cd8d"/><rect x="-10" y="45" width="15.6" height="5.6" fill="#376d97"/><rect x="5" y="45" width="5.6" height="5.6" fill="#347998"/><rect x="10" y="45" width="5.6" height="5.6" fill="#369096"/><rect x="15" y="45" width="5.6" height="5.6" fill="#3ca095"/><rect x="20" y="45" width="5.6" height="5.6" fill="#40a795"/><rect x="25" y="45" width="5.6" height="5.6" fill="#42ac95"/><rect x="30" y="45" width="5.6" height="5.6" fill="#42ad94"/><rect x="35" y="45" width="5.6" height="5.6" fill="#45b294"/><rect x="40" y="45" width="5.6" height="5.6" fill="#4ebc92"/><rect x="45" y="45" width="5.6" height="5.6" fill="#5dc98e"/><rect x="50" y="45" width="5.6" height="5.6" fill="#75d57b"/><rect x="55" y="45" width="5.6" height="5.6" fill="#90de60"/><rect x="60" y="45" width="5.6" height="5.6" fill="#b0e34a"/><rect x="65" y="45" width="5.6" height="5.6" fill="#cde837"/><rect x="70" y="45" width="5.6" height="5.6" fill="#d8ea33"/><rect x="75" y="45" width="5.6" height="5.6" fill="#deea32"/><rect x="80" y="45" width="5.6" height="5.6" fill="#dcea32"/><rect x="85" y="45" width="5.6" height="5.6" fill="#cfe836"/><rect x="90" y="45" width="5.6" height="5.6" fill="#a3e153"/><rect x="95" y="45" width="15.6" height="5.6" fill="#8cdd64"/><rect x="-10" y="50" width="15.6" height="5.6" fill="#376f97"/><rect x="5" y="50" width="5.6" height="5.6" fill="#347a98"/><rect x="10" y="50" width="5.6" height="5.6" fill="#379296"/><rect x="15" y="50" width="5.6" height="5.6" fill="#3da195"/><rect x="20" y="50" width="5.6" height="5.6" fill="#40a895"/><rect x="25" y="50" width="5.6" height="5.6" fill="#42ab95"/><rect x="30" y="50" width="5.6" height="5.6" fill="#42ac95"/><rect x="35" y="50" width="5.6" height="5.6" fill="#43af94"/><rect x="40" y="50" width="5.6" height="5.6" fill="#47b594"/><rect x="45" y="50" width="5.6" height="5.6" fill="#55c290"/><rect x="50" y="50" width="5.6" height="5.6" fill="#6bd285"/><rect x="55" y="50" width="5.6" height="5.6" fill="#89dc67"/><rect x="60" y="50" width="5.6" height="5.6" fill="#ade34c"/><rect x="65" y="50" width="5.6" height="5.6" fill="#cee837"/><rect x="70" y="50" width="5.6" height="5.6" fill="#dcea32"/><rect x="75" y="50" width="5.6" height="5.6" fill="#e2eb30"/><rect x="80" y="50" width="5.6" height="5.6" fill="#e0eb31"/><rect x="85" y="50" width="5.6" height="5.6" fill="#d4e935"/><rect x="90" y="50" width="5.6" height="5.6" fill="#aee34c"/><rect x="95" y="50" width="15.6" height="5.6" fill="#97df5b"/><rect x="-10" y="55" width="15.6" height="5.6" fill="#366f97"/><rect x="5" y="55" width="5.6" height="5.6" fill="#347b98"/><rect x="10" y="55" width="5.6" height="5.6" fill="#379296"/><rect x="15" y="55" width="5.6" height="5.6" fill="#3da295"/><rect x="20" y="55" width="5.6" height="5.6" fill="#40a895"/><rect x="25" y="55" width="5.6" height="5.6" fill="#42ab95"/><rect x="30" y="55" width="5.6" height="5.6" fill="#42ab95"/><rect x="35" y="55" width="5.6" height="5.6" fill="#42ad94"/><rect x="40" y="55" width="5.6" height="5.6" fill="#44b194"/><rect x="45" y="55" width="5.6" height="5.6" fill="#4ebb92"/><rect x="50" y="55" width="5.6" height="5.6" fill="#60cc8d"/><rect x="55" y="55" width="5.6" height="5.6" fill="#7cd774"/><rect x="60" y="55" width="5.6" height="5.6" fill="#a0e055"/><rect x="65" y="55" width="5.6" height="5.6" fill="#c4e63d"/><rect x="70" y="55" width="5.6" height="5.6" fill="#d8e934"/><rect x="75" y="55" width="5.6" height="5.6" fill="#deea32"/><rect x="80" y="55" width="5.6" height="5.6" fill="#dbea32"/><rect x="85" y="55" width="5.6" height="5.6" fill="#cde837"/><rect x="90" y="55" width="5.6" height="5.6" fill="#9ce058"/><rect x="95" y="55" width="15.6" height="5.6" fill="#87db69"/><rect x="-10" y="60" width="15.6" height="5.6" fill="#366f97"/><rect x="5" y="60" width="5.6" height="5.6" fill="#347b98"/><rect x="10" y="60" width="5.6" height="5.6" fill="#379296"/><rect x="15" y="60" width="5.6" height="5.6" fill="#3da295"/><rect x="20" y="60" width="5.6" height="5.6" fill="#40a895"/><rect x="25" y="60" width="5.6" height="5.6" fill="#42ab95"/><rect x="30" y="60" width="5.6" height="5.6" fill="#42ab95"/><rect x="35" y="60" width="5.6" height="5.6" fill="#42ac95"/><rect x="40" y="60" width="5.6" height="5.6" fill="#43ae94"/><rect x="45" y="60" width="5.6" height="5.6" fill="#48b693"/><rect x="50" y="60" width="5.6" height="5.6" fill="#55c290"/><rect x="55" y="60" width="5.6" height="5.6" fill="#68d188"/><rect x="60" y="60" width="5.6" height="5.6" fill="#89dc67"/><rect x="65" y="60" width="5.6" height="5.6" fill="#ace24d"/><rect x="70" y="60" width="5.6" height="5.6" fill="#cae839"/><rect x="75" y="60" width="5.6" height="5.6" fill="#d0e836"/><rect x="80" y="60" width="5.6" height="5.6" fill="#c7e73b"/><rect x="85" y="60" width="5.6" height="5.6" fill="#a5e152"/><rect x="90" y="60" width="5.6" height="5.6" fill="#76d67a"/><rect x="95" y="60" width="15.6" height="5.6" fill="#62ce8d"/><rect x="-10" y="65" width="15.6" height="5.6" fill="#376f97"/><rect x="5" y="65" width="5.6" height="5.6" fill="#347a98"/><rect x="10" y="65" width="5.6" height="5.6" fill="#379296"/><rect x="15" y="65" width="5.6" height="5.6" fill="#3da295"/><rect x="20" y="65" width="5.6" height="5.6" fill="#40a895"/><rect x="25" y="65" width="5.6" height="5.6" fill="#42ac95"/><rect x="30" y="65" width="5.6" height="5.6" fill="#42ac95"/><rect x="35" y="65" width="5.6" height="5.6" fill="#42ac95"/><rect x="40" y="65" width="5.6" height="5.6" fill="#42ac95"/><rect x="45" y="65" width="5.6" height="5.6" fill="#44b094"/><rect x="50" y="65" width="5.6" height="5.6" fill="#4ab893"/><rect x="55" y="65" width="5.6" height="5.6" fill="#57c390"/><rect x="60" y="65" width="5.6" height="5.6" fill="#6bd285"/><rect x="65" y="65" width="5.6" height="5.6" fill="#81d96f"/><rect x="70" y="65" width="5.6" height="5.6" fill="#92de5e"/><rect x="75" y="65" width="5.6" height="5.6" fill="#94df5d"/><rect x="80" y="65" width="5.6" height="5.6" fill="#87db69"/><rect x="85" y="65" width="5.6" height="5.6" fill="#6cd284"/><rect x="90" y="65" width="5.6" height="5.6" fill="#4ebc92"/><rect x="95" y="65" width="15.6" height="5.6" fill="#43af94"/><rect x="-10" y="70" width="15.6" height="5.6" fill="#376d97"/><rect x="5" y="70" width="5.6" height="5.6" fill="#347998"/><rect x="10" y="70" width="5.6" height="5.6" fill="#369096"/><rect x="15" y="70" width="5.6" height="5.6" fill="#3ca195"/><rect x="20" y="70" width="5.6" height="5.6" fill="#41a995"/><rect x="25" y="70" width="5.6" height="5.6" fill="#43ad94"/><rect x="30" y="70" width="5.6" height="5.6" fill="#43ad94"/><rect x="35" y="70" width="5.6" height="5.6" fill="#42ac95"/><rect x="40" y="70" width="5.6" height="5.6" fill="#41aa95"/><rect x="45" y="70" width="5.6" height="5.6" fill="#41aa95"/><rect x="50" y="70" width="5.6" height="5.6" fill="#42ac95"/><rect x="55" y="70" width="5.6" height="5.6" fill="#44b194"/><rect x="60" y="70" width="5.6" height="5.6" fill="#4cba92"/><rect x="65" y="70" width="5.6" height="5.6" fill="#52c091"/><rect x="70" y="70" width="5.6" height="5.6" fill="#56c390"/><rect x="75" y="70" width="5.6" height="5.6" fill="#53c091"/><rect x="80" y="70" width="5.6" height="5.6" fill="#48b694"/><rect x="85" y="70" width="5.6" height="5.6" fill="#3fa695"/><rect x="90" y="70" width="5.6" height="5.6" fill="#369196"/><rect x="95" y="70" width="15.6" height="5.6" fill="#358797"/><rect x="-10" y="75" width="15.6" height="5.6" fill="#386997"/><rect x="5" y="75" width="5.6" height="5.6" fill="#357498"/><rect x="10" y="75" width="5.6" height="5.6" fill="#368c97"/><rect x="15" y="75" width="5.6" height="5.6" fill="#3a9d96"/><rect x="20" y="75" width="5.6" height="5.6" fill="#3fa795"/><rect x="25" y="75" width="5.6" height="5.6" fill="#42ac95"/><rect x="30" y="75" width="5.6" height="5.6" fill="#42ad94"/><rect x="35" y="75" width="5.6" height="5.6" fill="#42ab95"/><rect x="40" y="75" width="5.6" height="5.6" fill="#40a895"/><rect x="45" y="75" width="5.6" height="5.6" fill="#3ea495"/><rect x="50" y="75" width="5.6" height="5.6" fill="#3ca095"/><rect x="55" y="75" width="5.6" height="5.6" fill="#3b9f95"/><rect x="60" y="75" width="5.6" height="5.6" fill="#3ca095"/><rect x="65" y="75" width="5.6" height="5.6" fill="#3c9f95"/><rect x="70" y="75" width="5.6" height="5.6" fill="#3a9c96"/><rect x="75" y="75" width="5.6" height="5.6" fill="#379496"/><rect x="80" y="75" width="5.6" height="5.6" fill="#358797"/><rect x="85" y="75" width="5.6" height="5.6" fill="#347998"/><rect x="90" y="75" width="5.6" height="5.6" fill="#376a97"/><rect x="95" y="75" width="15.6" height="5.6" fill="#396396"/><rect x="-10" y="80" width="15.6" height="5.6" fill="#396296"/><rect x="5" y="80" width="5.6" height="5.6" fill="#376d97"/><rect x="10" y="80" width="5.6" height="5.6" fill="#358497"/><rect x="15" y="80" width="5.6" height="5.6" fill="#379596"/><rect x="20" y="80" width="5.6" height="5.6" fill="#3da195"/><rect x="25" y="80" width="5.6" height="5.6" fill="#40a895"/><rect x="30" y="80" width="5.6" height="5.6" fill="#41ab95"/><rect x="35" y="80" width="5.6" height="5.6" fill="#41a995"/><rect x="40" y="80" width="5.6" height="5.6" fill="#3ea495"/><rect x="45" y="80" width="5.6" height="5.6" fill="#3b9d96"/><rect x="50" y="80" width="5.6" height="5.6" fill="#379596"/><rect x="55" y="80" width="5.6" height="5.6" fill="#368e97"/><rect x="60" y="80" width="5.6" height="5.6" fill="#368997"/><rect x="65" y="80" width="5.6" height="5.6" fill="#358297"/><rect x="70" y="80" width="5.6" height="5.6" fill="#347a98"/><rect x="75" y="80" width="5.6" height="5.6" fill="#376f97"/><rect x="80" y="80" width="5.6" height="5.6" fill="#3a6096"/><rect x="85" y="80" width="5.6" height="5.6" fill="#405192"/><rect x="90" y="80" width="5.6" height="5.6" fill="#45438f"/><rect x="95" y="80" width="15.6" height="5.6" fill="#473d8c"/><rect x="-10" y="85" width="15.6" height="5.6" fill="#3c5994"/><rect x="5" y="85" width="5.6" height="5.6" fill="#396396"/><rect x="10" y="85" width="5.6" height="5.6" fill="#357798"/><rect x="15" y="85" width="5.6" height="5.6" fill="#358797"/><rect x="20" y="85" width="5.6" height="5.6" fill="#379396"/><rect x="25" y="85" width="5.6" height="5.6" fill="#3a9b96"/><rect x="30" y="85" width="5.6" height="5.6" fill="#3b9e95"/><rect x="35" y="85" width="5.6" height="5.6" fill="#3a9d96"/><rect x="40" y="85" width="5.6" height="5.6" fill="#379796"/><rect x="45" y="85" width="5.6" height="5.6" fill="#368f97"/><rect x="50" y="85" width="5.6" height="5.6" fill="#358597"/><rect x="55" y="85" width="5.6" height="5.6" fill="#347b98"/><rect x="60" y="85" width="5.6" height="5.6" fill="#367297"/><rect x="65" y="85" width="5.6" height="5.6" fill="#386897"/><rect x="70" y="85" width="5.6" height="5.6" fill="#3b5e96"/><rect x="75" y="85" width="5.6" height="5.6" fill="#404f92"/><rect x="80" y="85" width="5.6" height="5.6" fill="#463f8d"/><rect x="85" y="85" width="5.6" height="5.6" fill="#4a3388"/><rect x="90" y="85" width="5.6" height="5.6" fill="#4d2984"/><rect x="95" y="85" width="15.6" height="5.6" fill="#4e2482"/><rect x="-10" y="90" width="15.6" height="5.6" fill="#414d91"/><rect x="5" y="90" width="5.6" height="5.6" fill="#3e5694"/><rect x="10" y="90" width="5.6" height="5.6" fill="#386697"/><rect x="15" y="90" width="5.6" height="5.6" fill="#357398"/><rect x="20" y="90" width="5.6" height="5.6" fill="#357f98"/><rect x="25" y="90" width="5.6" height="5.6" fill="#358697"/><rect x="30" y="90" width="5.6" height="5.6" fill="#368997"/><rect x="35" y="90" width="5.6" height="5.6" fill="#358797"/><rect x="40" y="90" width="5.6" height="5.6" fill="#358297"/><rect x="45" y="90" width="5.6" height="5.6" fill="#347998"/><rect x="50" y="90" width="5.6" height="5.6" fill="#366f97"/><rect x="55" y="90" width="5.6" height="5.6" fill="#396596"/><rect x="60" y="90" width="5.6" height="5.6" fill="#3c5a95"/><rect x="65" y="90" width="5.6" height="5.6" fill="#414e92"/><rect x="70" y="90" width="5.6" height="5.6" fill="#45428e"/><rect x="75" y="90" width="5.6" height="5.6" fill="#49378a"/><rect x="80" y="90" width="5.6" height="5.6" fill="#4c2b85"/><rect x="85" y="90" width="5.6" height="5.6" fill="#4d237f"/><rect x="90" y="90" width="5.6" height="5.6" fill="#4b1f78"/><rect x="95" y="90" width="15.6" height="5.6" fill="#4a1d74"/><rect x="-10" y="95" width="15.6" height="15.6" fill="#444790"/><rect x="5" y="95" width="5.6" height="15.6" fill="#414e92"/><rect x="10" y="95" width="5.6" height="15.6" fill="#3b5e96"/><rect x="15" y="95" width="5.6" height="15.6" fill="#386a97"/><rect x="20" y="95" width="5.6" height="15.6" fill="#357598"/><rect x="25" y="95" width="5.6" height="15.6" fill="#347b98"/><rect x="30" y="95" width="5.6" height="15.6" fill="#347e98"/><rect x="35" y="95" width="5.6" height="15.6" fill="#347d98"/><rect x="40" y="95" width="5.6" height="15.6" fill="#357798"/><rect x="45" y="95" width="5.6" height="15.6" fill="#366f97"/><rect x="50" y="95" width="5.6" height="15.6" fill="#396496"/><rect x="55" y="95" width="5.6" height="15.6" fill="#3c5994"/><rect x="60" y="95" width="5.6" height="15.6" fill="#414d91"/><rect x="65" y="95" width="5.6" height="15.6" fill="#46418e"/><rect x="70" y="95" width="5.6" height="15.6" fill="#493589"/><rect x="75" y="95" width="5.6" height="15.6" fill="#4c2b85"/><rect x="80" y="95" width="5.6" height="15.6" fill="#4d227e"/><rect x="85" y="95" width="5.6" height="15.6" fill="#4a1d75"/><rect x="90" y="95" width="5.6" height="15.6" fill="#491b70"/><rect x="95" y="95" width="15.6" height="15.6" fill="#48196d"/></g></g></g>
<g transform="translate(584,204.2) scale(0.997,0.994)" clip-path="url(#sq)"><g filter="url(#bl1)"><g shape-rendering="crispEdges"><rect x="-10" y="-10" width="13.93" height="13.93" fill="#8730c4"/><rect x="3.33" y="-10" width="3.93" height="13.93" fill="#8730c4"/><rect x="6.67" y="-10" width="3.93" height="13.93" fill="#8832c6"/><rect x="10" y="-10" width="3.93" height="13.93" fill="#883dc9"/><rect x="13.33" y="-10" width="3.93" height="13.93" fill="#8253cc"/><rect x="16.67" y="-10" width="3.93" height="13.93" fill="#7c63cc"/><rect x="20" y="-10" width="3.93" height="13.93" fill="#8546ca"/><rect x="23.33" y="-10" width="3.93" height="13.93" fill="#8936c8"/><rect x="26.67" y="-10" width="3.93" height="13.93" fill="#8730c4"/><rect x="30" y="-10" width="3.93" height="13.93" fill="#8730c4"/><rect x="33.33" y="-10" width="3.93" height="13.93" fill="#8740ca"/><rect x="36.67" y="-10" width="3.93" height="13.93" fill="#805acd"/><rect x="40" y="-10" width="3.93" height="13.93" fill="#6f82c9"/><rect x="43.33" y="-10" width="3.93" height="13.93" fill="#65bbbe"/><rect x="46.67" y="-10" width="3.93" height="13.93" fill="#69c9b8"/><rect x="50" y="-10" width="3.93" height="13.93" fill="#7a68cc"/><rect x="53.33" y="-10" width="3.93" height="13.93" fill="#8740ca"/><rect x="56.67" y="-10" width="3.93" height="13.93" fill="#8730c4"/><rect x="60" y="-10" width="3.93" height="13.93" fill="#852ec2"/><rect x="63.33" y="-10" width="3.93" height="13.93" fill="#842dc1"/><rect x="66.67" y="-10" width="3.93" height="13.93" fill="#842cc0"/><rect x="70" y="-10" width="3.93" height="13.93" fill="#842cc0"/><rect x="73.33" y="-10" width="3.93" height="13.93" fill="#842dc1"/><rect x="76.67" y="-10" width="3.93" height="13.93" fill="#852ec2"/><rect x="80" y="-10" width="3.93" height="13.93" fill="#852ec2"/><rect x="83.33" y="-10" width="3.93" height="13.93" fill="#862fc3"/><rect x="86.67" y="-10" width="3.93" height="13.93" fill="#883dc9"/><rect x="90" y="-10" width="3.93" height="13.93" fill="#6993c8"/><rect x="93.33" y="-10" width="3.93" height="13.93" fill="#65bbbe"/><rect x="96.67" y="-10" width="13.93" height="13.93" fill="#68c7b9"/><rect x="-10" y="3.33" width="13.93" height="3.93" fill="#8936c8"/><rect x="3.33" y="3.33" width="3.93" height="3.93" fill="#883bc9"/><rect x="6.67" y="3.33" width="3.93" height="3.93" fill="#8548cb"/><rect x="10" y="3.33" width="3.93" height="3.93" fill="#776fcb"/><rect x="13.33" y="3.33" width="3.93" height="3.93" fill="#689dc5"/><rect x="16.67" y="3.33" width="3.93" height="3.93" fill="#66aec1"/><rect x="20" y="3.33" width="3.93" height="3.93" fill="#737aca"/><rect x="23.33" y="3.33" width="3.93" height="3.93" fill="#8253cc"/><rect x="26.67" y="3.33" width="3.93" height="3.93" fill="#8641ca"/><rect x="30" y="3.33" width="3.93" height="3.93" fill="#8548cb"/><rect x="33.33" y="3.33" width="3.93" height="3.93" fill="#8058cd"/><rect x="36.67" y="3.33" width="3.93" height="3.93" fill="#7080ca"/><rect x="40" y="3.33" width="3.93" height="3.93" fill="#66c6ba"/><rect x="43.33" y="3.33" width="3.93" height="3.93" fill="#7edea7"/><rect x="46.67" y="3.33" width="3.93" height="3.93" fill="#96e38d"/><rect x="50" y="3.33" width="3.93" height="3.93" fill="#7ddea8"/><rect x="53.33" y="3.33" width="3.93" height="3.93" fill="#64c2bc"/><rect x="56.67" y="3.33" width="3.93" height="3.93" fill="#796acc"/><rect x="60" y="3.33" width="3.93" height="3.93" fill="#8938c8"/><rect x="63.33" y="3.33" width="3.93" height="3.93" fill="#862fc3"/><rect x="66.67" y="3.33" width="3.93" height="3.93" fill="#842dc1"/><rect x="70" y="3.33" width="3.93" height="3.93" fill="#842dc1"/><rect x="73.33" y="3.33" width="3.93" height="3.93" fill="#852ec2"/><rect x="76.67" y="3.33" width="3.93" height="3.93" fill="#862fc3"/><rect x="80" y="3.33" width="3.93" height="3.93" fill="#8730c4"/><rect x="83.33" y="3.33" width="3.93" height="3.93" fill="#8936c8"/><rect x="86.67" y="3.33" width="3.93" height="3.93" fill="#8350cc"/><rect x="90" y="3.33" width="3.93" height="3.93" fill="#66b1c0"/><rect x="93.33" y="3.33" width="3.93" height="3.93" fill="#6ac9b7"/><rect x="96.67" y="3.33" width="13.93" height="3.93" fill="#6cccb5"/><rect x="-10" y="6.67" width="13.93" height="3.93" fill="#8643ca"/><rect x="3.33" y="6.67" width="3.93" height="3.93" fill="#834dcb"/><rect x="6.67" y="6.67" width="3.93" height="3.93" fill="#7a68cc"/><rect x="10" y="6.67" width="3.93" height="3.93" fill="#65bbbe"/><rect x="13.33" y="6.67" width="3.93" height="3.93" fill="#71d1b1"/><rect x="16.67" y="6.67" width="3.93" height="3.93" fill="#75d5ae"/><rect x="20" y="6.67" width="3.93" height="3.93" fill="#64bfbd"/><rect x="23.33" y="6.67" width="3.93" height="3.93" fill="#6f82c9"/><rect x="26.67" y="6.67" width="3.93" height="3.93" fill="#805acd"/><rect x="30" y="6.67" width="3.93" height="3.93" fill="#786ccb"/><rect x="33.33" y="6.67" width="3.93" height="3.93" fill="#6f82c9"/><rect x="36.67" y="6.67" width="3.93" height="3.93" fill="#66acc1"/><rect x="40" y="6.67" width="3.93" height="3.93" fill="#7ddea7"/><rect x="43.33" y="6.67" width="3.93" height="3.93" fill="#afe571"/><rect x="46.67" y="6.67" width="3.93" height="3.93" fill="#dce943"/><rect x="50" y="6.67" width="3.93" height="3.93" fill="#dce943"/><rect x="53.33" y="6.67" width="3.93" height="3.93" fill="#a0e482"/><rect x="56.67" y="6.67" width="3.93" height="3.93" fill="#6bcab7"/><rect x="60" y="6.67" width="3.93" height="3.93" fill="#805acd"/><rect x="63.33" y="6.67" width="3.93" height="3.93" fill="#8933c7"/><rect x="66.67" y="6.67" width="3.93" height="3.93" fill="#852ec2"/><rect x="70" y="6.67" width="3.93" height="3.93" fill="#842dc1"/><rect x="73.33" y="6.67" width="3.93" height="3.93" fill="#862fc3"/><rect x="76.67" y="6.67" width="3.93" height="3.93" fill="#8a33c7"/><rect x="80" y="6.67" width="3.93" height="3.93" fill="#8740ca"/><rect x="83.33" y="6.67" width="3.93" height="3.93" fill="#834dcb"/><rect x="86.67" y="6.67" width="3.93" height="3.93" fill="#7a69cc"/><rect x="90" y="6.67" width="3.93" height="3.93" fill="#64c3bc"/><rect x="93.33" y="6.67" width="3.93" height="3.93" fill="#6bcbb6"/><rect x="96.67" y="6.67" width="13.93" height="3.93" fill="#6bcab7"/><rect x="-10" y="10" width="13.93" height="3.93" fill="#8350cc"/><rect x="3.33" y="10" width="3.93" height="3.93" fill="#805acd"/><rect x="6.67" y="10" width="3.93" height="3.93" fill="#717dca"/><rect x="10" y="10" width="3.93" height="3.93" fill="#69c9b8"/><rect x="13.33" y="10" width="3.93" height="3.93" fill="#74d4af"/><rect x="16.67" y="10" width="3.93" height="3.93" fill="#76d6ad"/><rect x="20" y="10" width="3.93" height="3.93" fill="#69c9b8"/><rect x="23.33" y="10" width="3.93" height="3.93" fill="#6898c6"/><rect x="26.67" y="10" width="3.93" height="3.93" fill="#786ccb"/><rect x="30" y="10" width="3.93" height="3.93" fill="#6f82c9"/><rect x="33.33" y="10" width="3.93" height="3.93" fill="#6898c6"/><rect x="36.67" y="10" width="3.93" height="3.93" fill="#64c4bc"/><rect x="40" y="10" width="3.93" height="3.93" fill="#90e294"/><rect x="43.33" y="10" width="3.93" height="3.93" fill="#c8e856"/><rect x="46.67" y="10" width="3.93" height="3.93" fill="#e5e93c"/><rect x="50" y="10" width="3.93" height="3.93" fill="#e5e93c"/><rect x="53.33" y="10" width="3.93" height="3.93" fill="#afe571"/><rect x="56.67" y="10" width="3.93" height="3.93" fill="#76d7ad"/><rect x="60" y="10" width="3.93" height="3.93" fill="#6f82c9"/><rect x="63.33" y="10" width="3.93" height="3.93" fill="#8645ca"/><rect x="66.67" y="10" width="3.93" height="3.93" fill="#8630c4"/><rect x="70" y="10" width="3.93" height="3.93" fill="#852ec2"/><rect x="73.33" y="10" width="3.93" height="3.93" fill="#8730c4"/><rect x="76.67" y="10" width="3.93" height="3.93" fill="#8740ca"/><rect x="80" y="10" width="3.93" height="3.93" fill="#834dcb"/><rect x="83.33" y="10" width="3.93" height="3.93" fill="#805acd"/><rect x="86.67" y="10" width="3.93" height="3.93" fill="#7770cb"/><rect x="90" y="10" width="3.93" height="3.93" fill="#6994c7"/><rect x="93.33" y="10" width="3.93" height="3.93" fill="#6990c8"/><rect x="96.67" y="10" width="13.93" height="3.93" fill="#6f82c9"/><rect x="-10" y="13.33" width="13.93" height="3.93" fill="#786ccb"/><rect x="3.33" y="13.33" width="3.93" height="3.93" fill="#6e85c9"/><rect x="6.67" y="13.33" width="3.93" height="3.93" fill="#67a2c4"/><rect x="10" y="13.33" width="3.93" height="3.93" fill="#65b6bf"/><rect x="13.33" y="13.33" width="3.93" height="3.93" fill="#64c2bc"/><rect x="16.67" y="13.33" width="3.93" height="3.93" fill="#64c2bc"/><rect x="20" y="13.33" width="3.93" height="3.93" fill="#67a4c3"/><rect x="23.33" y="13.33" width="3.93" height="3.93" fill="#6e85c9"/><rect x="26.67" y="13.33" width="3.93" height="3.93" fill="#7672cb"/><rect x="30" y="13.33" width="3.93" height="3.93" fill="#6d88c9"/><rect x="33.33" y="13.33" width="3.93" height="3.93" fill="#689dc5"/><rect x="36.67" y="13.33" width="3.93" height="3.93" fill="#64c2bc"/><rect x="40" y="13.33" width="3.93" height="3.93" fill="#80e1a5"/><rect x="43.33" y="13.33" width="3.93" height="3.93" fill="#ace575"/><rect x="46.67" y="13.33" width="3.93" height="3.93" fill="#d1e84d"/><rect x="50" y="13.33" width="3.93" height="3.93" fill="#bae665"/><rect x="53.33" y="13.33" width="3.93" height="3.93" fill="#91e393"/><rect x="56.67" y="13.33" width="3.93" height="3.93" fill="#6eceb4"/><rect x="60" y="13.33" width="3.93" height="3.93" fill="#6e85c9"/><rect x="63.33" y="13.33" width="3.93" height="3.93" fill="#834ecb"/><rect x="66.67" y="13.33" width="3.93" height="3.93" fill="#8a33c7"/><rect x="70" y="13.33" width="3.93" height="3.93" fill="#862fc3"/><rect x="73.33" y="13.33" width="3.93" height="3.93" fill="#8933c7"/><rect x="76.67" y="13.33" width="3.93" height="3.93" fill="#8645ca"/><rect x="80" y="13.33" width="3.93" height="3.93" fill="#8058cd"/><rect x="83.33" y="13.33" width="3.93" height="3.93" fill="#8058cd"/><rect x="86.67" y="13.33" width="3.93" height="3.93" fill="#8253cc"/><rect x="90" y="13.33" width="3.93" height="3.93" fill="#8253cc"/><rect x="93.33" y="13.33" width="3.93" height="3.93" fill="#834ecb"/><rect x="96.67" y="13.33" width="13.93" height="3.93" fill="#844acb"/><rect x="-10" y="16.67" width="13.93" height="3.93" fill="#6898c6"/><rect x="3.33" y="16.67" width="3.93" height="3.93" fill="#65bdbd"/><rect x="6.67" y="16.67" width="3.93" height="3.93" fill="#6bcbb6"/><rect x="10" y="16.67" width="3.93" height="3.93" fill="#68a0c4"/><rect x="13.33" y="16.67" width="3.93" height="3.93" fill="#6d88c9"/><rect x="16.67" y="16.67" width="3.93" height="3.93" fill="#7476ca"/><rect x="20" y="16.67" width="3.93" height="3.93" fill="#7e5fcd"/><rect x="23.33" y="16.67" width="3.93" height="3.93" fill="#7c63cc"/><rect x="26.67" y="16.67" width="3.93" height="3.93" fill="#7673cb"/><rect x="30" y="16.67" width="3.93" height="3.93" fill="#6b8cc8"/><rect x="33.33" y="16.67" width="3.93" height="3.93" fill="#689dc5"/><rect x="36.67" y="16.67" width="3.93" height="3.93" fill="#66b3c0"/><rect x="40" y="16.67" width="3.93" height="3.93" fill="#70d0b2"/><rect x="43.33" y="16.67" width="3.93" height="3.93" fill="#88e29c"/><rect x="46.67" y="16.67" width="3.93" height="3.93" fill="#9ee483"/><rect x="50" y="16.67" width="3.93" height="3.93" fill="#88e29c"/><rect x="53.33" y="16.67" width="3.93" height="3.93" fill="#77d7ac"/><rect x="56.67" y="16.67" width="3.93" height="3.93" fill="#69c8b8"/><rect x="60" y="16.67" width="3.93" height="3.93" fill="#6c8ac9"/><rect x="63.33" y="16.67" width="3.93" height="3.93" fill="#805acd"/><rect x="66.67" y="16.67" width="3.93" height="3.93" fill="#8643ca"/><rect x="70" y="16.67" width="3.93" height="3.93" fill="#8a34c8"/><rect x="73.33" y="16.67" width="3.93" height="3.93" fill="#8936c8"/><rect x="76.67" y="16.67" width="3.93" height="3.93" fill="#8643ca"/><rect x="80" y="16.67" width="3.93" height="3.93" fill="#805acd"/><rect x="83.33" y="16.67" width="3.93" height="3.93" fill="#834ecb"/><rect x="86.67" y="16.67" width="3.93" height="3.93" fill="#8939c9"/><rect x="90" y="16.67" width="3.93" height="3.93" fill="#8730c4"/><rect x="93.33" y="16.67" width="3.93" height="3.93" fill="#8730c4"/><rect x="96.67" y="16.67" width="13.93" height="3.93" fill="#8730c4"/><rect x="-10" y="20" width="13.93" height="3.93" fill="#64c0bd"/><rect x="3.33" y="20" width="3.93" height="3.93" fill="#78d9ab"/><rect x="6.67" y="20" width="3.93" height="3.93" fill="#89e29b"/><rect x="10" y="20" width="3.93" height="3.93" fill="#64c1bc"/><rect x="13.33" y="20" width="3.93" height="3.93" fill="#7672cb"/><rect x="16.67" y="20" width="3.93" height="3.93" fill="#8644ca"/><rect x="20" y="20" width="3.93" height="3.93" fill="#8730c4"/><rect x="23.33" y="20" width="3.93" height="3.93" fill="#8546ca"/><rect x="26.67" y="20" width="3.93" height="3.93" fill="#7476ca"/><rect x="30" y="20" width="3.93" height="3.93" fill="#689dc5"/><rect x="33.33" y="20" width="3.93" height="3.93" fill="#689dc5"/><rect x="36.67" y="20" width="3.93" height="3.93" fill="#6995c7"/><rect x="40" y="20" width="3.93" height="3.93" fill="#689fc5"/><rect x="43.33" y="20" width="3.93" height="3.93" fill="#65c4bb"/><rect x="46.67" y="20" width="3.93" height="3.93" fill="#72d2b0"/><rect x="50" y="20" width="3.93" height="3.93" fill="#79d9ab"/><rect x="53.33" y="20" width="3.93" height="3.93" fill="#80e1a5"/><rect x="56.67" y="20" width="3.93" height="3.93" fill="#7edfa7"/><rect x="60" y="20" width="3.93" height="3.93" fill="#65b9be"/><rect x="63.33" y="20" width="3.93" height="3.93" fill="#6f82c9"/><rect x="66.67" y="20" width="3.93" height="3.93" fill="#805acd"/><rect x="70" y="20" width="3.93" height="3.93" fill="#8643ca"/><rect x="73.33" y="20" width="3.93" height="3.93" fill="#8936c8"/><rect x="76.67" y="20" width="3.93" height="3.93" fill="#8a34c8"/><rect x="80" y="20" width="3.93" height="3.93" fill="#8643ca"/><rect x="83.33" y="20" width="3.93" height="3.93" fill="#883bc9"/><rect x="86.67" y="20" width="3.93" height="3.93" fill="#8730c4"/><rect x="90" y="20" width="3.93" height="3.93" fill="#852fc3"/><rect x="93.33" y="20" width="3.93" height="3.93" fill="#852ec2"/><rect x="96.67" y="20" width="13.93" height="3.93" fill="#852ec2"/><rect x="-10" y="23.33" width="13.93" height="3.93" fill="#68c7b9"/><rect x="3.33" y="23.33" width="3.93" height="3.93" fill="#79daab"/><rect x="6.67" y="23.33" width="3.93" height="3.93" fill="#88e29c"/><rect x="10" y="23.33" width="3.93" height="3.93" fill="#65c4bb"/><rect x="13.33" y="23.33" width="3.93" height="3.93" fill="#6b8dc8"/><rect x="16.67" y="23.33" width="3.93" height="3.93" fill="#7c63cc"/><rect x="20" y="23.33" width="3.93" height="3.93" fill="#8546ca"/><rect x="23.33" y="23.33" width="3.93" height="3.93" fill="#8058cd"/><rect x="26.67" y="23.33" width="3.93" height="3.93" fill="#7080ca"/><rect x="30" y="23.33" width="3.93" height="3.93" fill="#6c8bc9"/><rect x="33.33" y="23.33" width="3.93" height="3.93" fill="#6e85c9"/><rect x="36.67" y="23.33" width="3.93" height="3.93" fill="#7080ca"/><rect x="40" y="23.33" width="3.93" height="3.93" fill="#6c8bc9"/><rect x="43.33" y="23.33" width="3.93" height="3.93" fill="#67a4c3"/><rect x="46.67" y="23.33" width="3.93" height="3.93" fill="#65c4bb"/><rect x="50" y="23.33" width="3.93" height="3.93" fill="#72d2b1"/><rect x="53.33" y="23.33" width="3.93" height="3.93" fill="#77d7ac"/><rect x="56.67" y="23.33" width="3.93" height="3.93" fill="#76d6ae"/><rect x="60" y="23.33" width="3.93" height="3.93" fill="#66c5ba"/><rect x="63.33" y="23.33" width="3.93" height="3.93" fill="#66b3c0"/><rect x="66.67" y="23.33" width="3.93" height="3.93" fill="#689fc5"/><rect x="70" y="23.33" width="3.93" height="3.93" fill="#796acc"/><rect x="73.33" y="23.33" width="3.93" height="3.93" fill="#844acb"/><rect x="76.67" y="23.33" width="3.93" height="3.93" fill="#8936c8"/><rect x="80" y="23.33" width="3.93" height="3.93" fill="#8936c8"/><rect x="83.33" y="23.33" width="3.93" height="3.93" fill="#8730c4"/><rect x="86.67" y="23.33" width="3.93" height="3.93" fill="#862fc3"/><rect x="90" y="23.33" width="3.93" height="3.93" fill="#842dc1"/><rect x="93.33" y="23.33" width="3.93" height="3.93" fill="#842dc1"/><rect x="96.67" y="23.33" width="13.93" height="3.93" fill="#842dc1"/><rect x="-10" y="26.67" width="13.93" height="3.93" fill="#66b1c0"/><rect x="3.33" y="26.67" width="3.93" height="3.93" fill="#6ecdb4"/><rect x="6.67" y="26.67" width="3.93" height="3.93" fill="#76d6ad"/><rect x="10" y="26.67" width="3.93" height="3.93" fill="#65b7bf"/><rect x="13.33" y="26.67" width="3.93" height="3.93" fill="#66aec1"/><rect x="16.67" y="26.67" width="3.93" height="3.93" fill="#66acc2"/><rect x="20" y="26.67" width="3.93" height="3.93" fill="#6f82c9"/><rect x="23.33" y="26.67" width="3.93" height="3.93" fill="#7080ca"/><rect x="26.67" y="26.67" width="3.93" height="3.93" fill="#6e84c9"/><rect x="30" y="26.67" width="3.93" height="3.93" fill="#7476ca"/><rect x="33.33" y="26.67" width="3.93" height="3.93" fill="#776fcb"/><rect x="36.67" y="26.67" width="3.93" height="3.93" fill="#7672cb"/><rect x="40" y="26.67" width="3.93" height="3.93" fill="#6d88c9"/><rect x="43.33" y="26.67" width="3.93" height="3.93" fill="#689fc5"/><rect x="46.67" y="26.67" width="3.93" height="3.93" fill="#65b9be"/><rect x="50" y="26.67" width="3.93" height="3.93" fill="#6dccb5"/><rect x="53.33" y="26.67" width="3.93" height="3.93" fill="#6bcab7"/><rect x="56.67" y="26.67" width="3.93" height="3.93" fill="#65c4bb"/><rect x="60" y="26.67" width="3.93" height="3.93" fill="#65c4bb"/><rect x="63.33" y="26.67" width="3.93" height="3.93" fill="#6ac9b7"/><rect x="66.67" y="26.67" width="3.93" height="3.93" fill="#69c9b8"/><rect x="70" y="26.67" width="3.93" height="3.93" fill="#6897c7"/><rect x="73.33" y="26.67" width="3.93" height="3.93" fill="#7e5ecd"/><rect x="76.67" y="26.67" width="3.93" height="3.93" fill="#8740ca"/><rect x="80" y="26.67" width="3.93" height="3.93" fill="#8a33c7"/><rect x="83.33" y="26.67" width="3.93" height="3.93" fill="#862fc3"/><rect x="86.67" y="26.67" width="3.93" height="3.93" fill="#852ec2"/><rect x="90" y="26.67" width="3.93" height="3.93" fill="#842dc1"/><rect x="93.33" y="26.67" width="3.93" height="3.93" fill="#842cc0"/><rect x="96.67" y="26.67" width="13.93" height="3.93" fill="#842cc0"/><rect x="-10" y="30" width="13.93" height="3.93" fill="#8350cc"/><rect x="3.33" y="30" width="3.93" height="3.93" fill="#7477ca"/><rect x="6.67" y="30" width="3.93" height="3.93" fill="#67a3c4"/><rect x="10" y="30" width="3.93" height="3.93" fill="#6896c7"/><rect x="13.33" y="30" width="3.93" height="3.93" fill="#65b8bf"/><rect x="16.67" y="30" width="3.93" height="3.93" fill="#6bcab7"/><rect x="20" y="30" width="3.93" height="3.93" fill="#66acc2"/><rect x="23.33" y="30" width="3.93" height="3.93" fill="#6c8bc9"/><rect x="26.67" y="30" width="3.93" height="3.93" fill="#7476ca"/><rect x="30" y="30" width="3.93" height="3.93" fill="#6e84c9"/><rect x="33.33" y="30" width="3.93" height="3.93" fill="#737aca"/><rect x="36.67" y="30" width="3.93" height="3.93" fill="#7672cb"/><rect x="40" y="30" width="3.93" height="3.93" fill="#6d88c9"/><rect x="43.33" y="30" width="3.93" height="3.93" fill="#67a9c2"/><rect x="46.67" y="30" width="3.93" height="3.93" fill="#66c5ba"/><rect x="50" y="30" width="3.93" height="3.93" fill="#69c8b8"/><rect x="53.33" y="30" width="3.93" height="3.93" fill="#64c0bd"/><rect x="56.67" y="30" width="3.93" height="3.93" fill="#66b1c0"/><rect x="60" y="30" width="3.93" height="3.93" fill="#66b1c0"/><rect x="63.33" y="30" width="3.93" height="3.93" fill="#66b3c0"/><rect x="66.67" y="30" width="3.93" height="3.93" fill="#66abc2"/><rect x="70" y="30" width="3.93" height="3.93" fill="#717eca"/><rect x="73.33" y="30" width="3.93" height="3.93" fill="#7e5ecd"/><rect x="76.67" y="30" width="3.93" height="3.93" fill="#834dcb"/><rect x="80" y="30" width="3.93" height="3.93" fill="#8740ca"/><rect x="83.33" y="30" width="3.93" height="3.93" fill="#8a33c7"/><rect x="86.67" y="30" width="3.93" height="3.93" fill="#862fc3"/><rect x="90" y="30" width="3.93" height="3.93" fill="#842dc1"/><rect x="93.33" y="30" width="3.93" height="3.93" fill="#842cc0"/><rect x="96.67" y="30" width="13.93" height="3.93" fill="#842cc0"/><rect x="-10" y="33.33" width="13.93" height="3.93" fill="#8740ca"/><rect x="3.33" y="33.33" width="3.93" height="3.93" fill="#7e5ecd"/><rect x="6.67" y="33.33" width="3.93" height="3.93" fill="#6c8bc9"/><rect x="10" y="33.33" width="3.93" height="3.93" fill="#7080ca"/><rect x="13.33" y="33.33" width="3.93" height="3.93" fill="#689dc5"/><rect x="16.67" y="33.33" width="3.93" height="3.93" fill="#65bbbe"/><rect x="20" y="33.33" width="3.93" height="3.93" fill="#65bbbe"/><rect x="23.33" y="33.33" width="3.93" height="3.93" fill="#6ac9b7"/><rect x="26.67" y="33.33" width="3.93" height="3.93" fill="#70d0b2"/><rect x="30" y="33.33" width="3.93" height="3.93" fill="#6dccb5"/><rect x="33.33" y="33.33" width="3.93" height="3.93" fill="#66acc2"/><rect x="36.67" y="33.33" width="3.93" height="3.93" fill="#717dca"/><rect x="40" y="33.33" width="3.93" height="3.93" fill="#717dca"/><rect x="43.33" y="33.33" width="3.93" height="3.93" fill="#6995c7"/><rect x="46.67" y="33.33" width="3.93" height="3.93" fill="#67a9c2"/><rect x="50" y="33.33" width="3.93" height="3.93" fill="#689fc5"/><rect x="53.33" y="33.33" width="3.93" height="3.93" fill="#6995c7"/><rect x="56.67" y="33.33" width="3.93" height="3.93" fill="#6990c8"/><rect x="60" y="33.33" width="3.93" height="3.93" fill="#689ac6"/><rect x="63.33" y="33.33" width="3.93" height="3.93" fill="#6995c7"/><rect x="66.67" y="33.33" width="3.93" height="3.93" fill="#6e85c9"/><rect x="70" y="33.33" width="3.93" height="3.93" fill="#7b65cc"/><rect x="73.33" y="33.33" width="3.93" height="3.93" fill="#7e5ecd"/><rect x="76.67" y="33.33" width="3.93" height="3.93" fill="#805acd"/><rect x="80" y="33.33" width="3.93" height="3.93" fill="#834dcb"/><rect x="83.33" y="33.33" width="3.93" height="3.93" fill="#8740ca"/><rect x="86.67" y="33.33" width="3.93" height="3.93" fill="#8933c7"/><rect x="90" y="33.33" width="3.93" height="3.93" fill="#862fc3"/><rect x="93.33" y="33.33" width="3.93" height="3.93" fill="#852ec2"/><rect x="96.67" y="33.33" width="13.93" height="3.93" fill="#842dc1"/><rect x="-10" y="36.67" width="13.93" height="3.93" fill="#8546ca"/><rect x="3.33" y="36.67" width="3.93" height="3.93" fill="#7b65cc"/><rect x="6.67" y="36.67" width="3.93" height="3.93" fill="#6b8dc8"/><rect x="10" y="36.67" width="3.93" height="3.93" fill="#7477ca"/><rect x="13.33" y="36.67" width="3.93" height="3.93" fill="#7080ca"/><rect x="16.67" y="36.67" width="3.93" height="3.93" fill="#6898c6"/><rect x="20" y="36.67" width="3.93" height="3.93" fill="#64c3bc"/><rect x="23.33" y="36.67" width="3.93" height="3.93" fill="#7fe0a6"/><rect x="26.67" y="36.67" width="3.93" height="3.93" fill="#a0e482"/><rect x="30" y="36.67" width="3.93" height="3.93" fill="#84e1a1"/><rect x="33.33" y="36.67" width="3.93" height="3.93" fill="#69c9b8"/><rect x="36.67" y="36.67" width="3.93" height="3.93" fill="#7081c9"/><rect x="40" y="36.67" width="3.93" height="3.93" fill="#7a68cc"/><rect x="43.33" y="36.67" width="3.93" height="3.93" fill="#7672cb"/><rect x="46.67" y="36.67" width="3.93" height="3.93" fill="#717dca"/><rect x="50" y="36.67" width="3.93" height="3.93" fill="#7a68cc"/><rect x="53.33" y="36.67" width="3.93" height="3.93" fill="#7b65cc"/><rect x="56.67" y="36.67" width="3.93" height="3.93" fill="#786ccb"/><rect x="60" y="36.67" width="3.93" height="3.93" fill="#6f82c9"/><rect x="63.33" y="36.67" width="3.93" height="3.93" fill="#717dca"/><rect x="66.67" y="36.67" width="3.93" height="3.93" fill="#786ccb"/><rect x="70" y="36.67" width="3.93" height="3.93" fill="#805acd"/><rect x="73.33" y="36.67" width="3.93" height="3.93" fill="#7c63cc"/><rect x="76.67" y="36.67" width="3.93" height="3.93" fill="#796ccb"/><rect x="80" y="36.67" width="3.93" height="3.93" fill="#8157cd"/><rect x="83.33" y="36.67" width="3.93" height="3.93" fill="#834dcb"/><rect x="86.67" y="36.67" width="3.93" height="3.93" fill="#8643ca"/><rect x="90" y="36.67" width="3.93" height="3.93" fill="#8a34c8"/><rect x="93.33" y="36.67" width="3.93" height="3.93" fill="#862fc3"/><rect x="96.67" y="36.67" width="13.93" height="3.93" fill="#852ec2"/><rect x="-10" y="40" width="13.93" height="3.93" fill="#7c63cc"/><rect x="3.33" y="40" width="3.93" height="3.93" fill="#6e85c9"/><rect x="6.67" y="40" width="3.93" height="3.93" fill="#67a2c4"/><rect x="10" y="40" width="3.93" height="3.93" fill="#6b8dc8"/><rect x="13.33" y="40" width="3.93" height="3.93" fill="#6c8bc9"/><rect x="16.67" y="40" width="3.93" height="3.93" fill="#689cc5"/><rect x="20" y="40" width="3.93" height="3.93" fill="#6bcab6"/><rect x="23.33" y="40" width="3.93" height="3.93" fill="#8ae29a"/><rect x="26.67" y="40" width="3.93" height="3.93" fill="#a3e47e"/><rect x="30" y="40" width="3.93" height="3.93" fill="#74d4af"/><rect x="33.33" y="40" width="3.93" height="3.93" fill="#67a7c3"/><rect x="36.67" y="40" width="3.93" height="3.93" fill="#7a68cc"/><rect x="40" y="40" width="3.93" height="3.93" fill="#844ccb"/><rect x="43.33" y="40" width="3.93" height="3.93" fill="#8350cc"/><rect x="46.67" y="40" width="3.93" height="3.93" fill="#8156cd"/><rect x="50" y="40" width="3.93" height="3.93" fill="#844acb"/><rect x="53.33" y="40" width="3.93" height="3.93" fill="#834ecb"/><rect x="56.67" y="40" width="3.93" height="3.93" fill="#805acd"/><rect x="60" y="40" width="3.93" height="3.93" fill="#786ccb"/><rect x="63.33" y="40" width="3.93" height="3.93" fill="#717dca"/><rect x="66.67" y="40" width="3.93" height="3.93" fill="#6f82c9"/><rect x="70" y="40" width="3.93" height="3.93" fill="#786ccb"/><rect x="73.33" y="40" width="3.93" height="3.93" fill="#7477ca"/><rect x="76.67" y="40" width="3.93" height="3.93" fill="#717eca"/><rect x="80" y="40" width="3.93" height="3.93" fill="#8059cd"/><rect x="83.33" y="40" width="3.93" height="3.93" fill="#805acd"/><rect x="86.67" y="40" width="3.93" height="3.93" fill="#805acd"/><rect x="90" y="40" width="3.93" height="3.93" fill="#8643ca"/><rect x="93.33" y="40" width="3.93" height="3.93" fill="#8831c5"/><rect x="96.67" y="40" width="13.93" height="3.93" fill="#852fc3"/><rect x="-10" y="43.33" width="13.93" height="3.93" fill="#717dca"/><rect x="3.33" y="43.33" width="3.93" height="3.93" fill="#689dc5"/><rect x="6.67" y="43.33" width="3.93" height="3.93" fill="#65b6bf"/><rect x="10" y="43.33" width="3.93" height="3.93" fill="#67a2c4"/><rect x="13.33" y="43.33" width="3.93" height="3.93" fill="#6995c7"/><rect x="16.67" y="43.33" width="3.93" height="3.93" fill="#6898c6"/><rect x="20" y="43.33" width="3.93" height="3.93" fill="#64c0bd"/><rect x="23.33" y="43.33" width="3.93" height="3.93" fill="#75d5ae"/><rect x="26.67" y="43.33" width="3.93" height="3.93" fill="#7bdca9"/><rect x="30" y="43.33" width="3.93" height="3.93" fill="#66b3c0"/><rect x="33.33" y="43.33" width="3.93" height="3.93" fill="#786ccb"/><rect x="36.67" y="43.33" width="3.93" height="3.93" fill="#8548cb"/><rect x="40" y="43.33" width="3.93" height="3.93" fill="#8641ca"/><rect x="43.33" y="43.33" width="3.93" height="3.93" fill="#834ecb"/><rect x="46.67" y="43.33" width="3.93" height="3.93" fill="#8058cd"/><rect x="50" y="43.33" width="3.93" height="3.93" fill="#8645ca"/><rect x="53.33" y="43.33" width="3.93" height="3.93" fill="#834ecb"/><rect x="56.67" y="43.33" width="3.93" height="3.93" fill="#7a68cc"/><rect x="60" y="43.33" width="3.93" height="3.93" fill="#6993c8"/><rect x="63.33" y="43.33" width="3.93" height="3.93" fill="#689dc5"/><rect x="66.67" y="43.33" width="3.93" height="3.93" fill="#6995c7"/><rect x="70" y="43.33" width="3.93" height="3.93" fill="#7575cb"/><rect x="73.33" y="43.33" width="3.93" height="3.93" fill="#7575cb"/><rect x="76.67" y="43.33" width="3.93" height="3.93" fill="#7080ca"/><rect x="80" y="43.33" width="3.93" height="3.93" fill="#6c8bc9"/><rect x="83.33" y="43.33" width="3.93" height="3.93" fill="#6e85c9"/><rect x="86.67" y="43.33" width="3.93" height="3.93" fill="#7672cb"/><rect x="90" y="43.33" width="3.93" height="3.93" fill="#8350cc"/><rect x="93.33" y="43.33" width="3.93" height="3.93" fill="#8938c9"/><rect x="96.67" y="43.33" width="13.93" height="3.93" fill="#8630c4"/><rect x="-10" y="46.67" width="13.93" height="3.93" fill="#6d88c9"/><rect x="3.33" y="46.67" width="3.93" height="3.93" fill="#66acc2"/><rect x="6.67" y="46.67" width="3.93" height="3.93" fill="#68c8b9"/><rect x="10" y="46.67" width="3.93" height="3.93" fill="#64bebd"/><rect x="13.33" y="46.67" width="3.93" height="3.93" fill="#66acc2"/><rect x="16.67" y="46.67" width="3.93" height="3.93" fill="#689ec5"/><rect x="20" y="46.67" width="3.93" height="3.93" fill="#67a5c3"/><rect x="23.33" y="46.67" width="3.93" height="3.93" fill="#66b1c0"/><rect x="26.67" y="46.67" width="3.93" height="3.93" fill="#66b0c1"/><rect x="30" y="46.67" width="3.93" height="3.93" fill="#6f83c9"/><rect x="33.33" y="46.67" width="3.93" height="3.93" fill="#805acd"/><rect x="36.67" y="46.67" width="3.93" height="3.93" fill="#8548cb"/><rect x="40" y="46.67" width="3.93" height="3.93" fill="#834ecb"/><rect x="43.33" y="46.67" width="3.93" height="3.93" fill="#7f5ccd"/><rect x="46.67" y="46.67" width="3.93" height="3.93" fill="#7b67cc"/><rect x="50" y="46.67" width="3.93" height="3.93" fill="#8254cc"/><rect x="53.33" y="46.67" width="3.93" height="3.93" fill="#7b65cc"/><rect x="56.67" y="46.67" width="3.93" height="3.93" fill="#6a8ec8"/><rect x="60" y="46.67" width="3.93" height="3.93" fill="#65babe"/><rect x="63.33" y="46.67" width="3.93" height="3.93" fill="#66b3c0"/><rect x="66.67" y="46.67" width="3.93" height="3.93" fill="#689ac6"/><rect x="70" y="46.67" width="3.93" height="3.93" fill="#737aca"/><rect x="73.33" y="46.67" width="3.93" height="3.93" fill="#7477ca"/><rect x="76.67" y="46.67" width="3.93" height="3.93" fill="#6d88c9"/><rect x="80" y="46.67" width="3.93" height="3.93" fill="#66b1c0"/><rect x="83.33" y="46.67" width="3.93" height="3.93" fill="#67a4c3"/><rect x="86.67" y="46.67" width="3.93" height="3.93" fill="#6f83c9"/><rect x="90" y="46.67" width="3.93" height="3.93" fill="#7f5dcd"/><rect x="93.33" y="46.67" width="3.93" height="3.93" fill="#8643ca"/><rect x="96.67" y="46.67" width="13.93" height="3.93" fill="#8832c6"/><rect x="-10" y="50" width="13.93" height="3.93" fill="#7672cb"/><rect x="3.33" y="50" width="3.93" height="3.93" fill="#66acc2"/><rect x="6.67" y="50" width="3.93" height="3.93" fill="#70d0b2"/><rect x="10" y="50" width="3.93" height="3.93" fill="#74d4af"/><rect x="13.33" y="50" width="3.93" height="3.93" fill="#70d0b2"/><rect x="16.67" y="50" width="3.93" height="3.93" fill="#69c8b8"/><rect x="20" y="50" width="3.93" height="3.93" fill="#689ec5"/><rect x="23.33" y="50" width="3.93" height="3.93" fill="#6d88c9"/><rect x="26.67" y="50" width="3.93" height="3.93" fill="#6f83c9"/><rect x="30" y="50" width="3.93" height="3.93" fill="#689cc5"/><rect x="33.33" y="50" width="3.93" height="3.93" fill="#64c0bd"/><rect x="36.67" y="50" width="3.93" height="3.93" fill="#6bcbb6"/><rect x="40" y="50" width="3.93" height="3.93" fill="#65b8bf"/><rect x="43.33" y="50" width="3.93" height="3.93" fill="#6990c8"/><rect x="46.67" y="50" width="3.93" height="3.93" fill="#7378ca"/><rect x="50" y="50" width="3.93" height="3.93" fill="#67a6c3"/><rect x="53.33" y="50" width="3.93" height="3.93" fill="#64c2bc"/><rect x="56.67" y="50" width="3.93" height="3.93" fill="#69c8b8"/><rect x="60" y="50" width="3.93" height="3.93" fill="#65b6bf"/><rect x="63.33" y="50" width="3.93" height="3.93" fill="#6995c7"/><rect x="66.67" y="50" width="3.93" height="3.93" fill="#737aca"/><rect x="70" y="50" width="3.93" height="3.93" fill="#6e85c9"/><rect x="73.33" y="50" width="3.93" height="3.93" fill="#67a2c4"/><rect x="76.67" y="50" width="3.93" height="3.93" fill="#66b1c0"/><rect x="80" y="50" width="3.93" height="3.93" fill="#6d88c9"/><rect x="83.33" y="50" width="3.93" height="3.93" fill="#6e85c9"/><rect x="86.67" y="50" width="3.93" height="3.93" fill="#6d87c9"/><rect x="90" y="50" width="3.93" height="3.93" fill="#786dcb"/><rect x="93.33" y="50" width="3.93" height="3.93" fill="#8350cc"/><rect x="96.67" y="50" width="13.93" height="3.93" fill="#883dc9"/><rect x="-10" y="53.33" width="13.93" height="3.93" fill="#7e5ecd"/><rect x="3.33" y="53.33" width="3.93" height="3.93" fill="#6b8dc8"/><rect x="6.67" y="53.33" width="3.93" height="3.93" fill="#68c7b9"/><rect x="10" y="53.33" width="3.93" height="3.93" fill="#79daab"/><rect x="13.33" y="53.33" width="3.93" height="3.93" fill="#75d5ae"/><rect x="16.67" y="53.33" width="3.93" height="3.93" fill="#64c2bc"/><rect x="20" y="53.33" width="3.93" height="3.93" fill="#7b65cc"/><rect x="23.33" y="53.33" width="3.93" height="3.93" fill="#834ecb"/><rect x="26.67" y="53.33" width="3.93" height="3.93" fill="#8058cd"/><rect x="30" y="53.33" width="3.93" height="3.93" fill="#66b3c0"/><rect x="33.33" y="53.33" width="3.93" height="3.93" fill="#79daab"/><rect x="36.67" y="53.33" width="3.93" height="3.93" fill="#89e29b"/><rect x="40" y="53.33" width="3.93" height="3.93" fill="#6ac9b7"/><rect x="43.33" y="53.33" width="3.93" height="3.93" fill="#6e85c9"/><rect x="46.67" y="53.33" width="3.93" height="3.93" fill="#7d61cc"/><rect x="50" y="53.33" width="3.93" height="3.93" fill="#67a9c2"/><rect x="53.33" y="53.33" width="3.93" height="3.93" fill="#65bbbe"/><rect x="56.67" y="53.33" width="3.93" height="3.93" fill="#65b8bf"/><rect x="60" y="53.33" width="3.93" height="3.93" fill="#66aec1"/><rect x="63.33" y="53.33" width="3.93" height="3.93" fill="#66b3c0"/><rect x="66.67" y="53.33" width="3.93" height="3.93" fill="#66b3c0"/><rect x="70" y="53.33" width="3.93" height="3.93" fill="#6995c7"/><rect x="73.33" y="53.33" width="3.93" height="3.93" fill="#67a4c3"/><rect x="76.67" y="53.33" width="3.93" height="3.93" fill="#66b1c0"/><rect x="80" y="53.33" width="3.93" height="3.93" fill="#6d88c9"/><rect x="83.33" y="53.33" width="3.93" height="3.93" fill="#6995c7"/><rect x="86.67" y="53.33" width="3.93" height="3.93" fill="#67a7c3"/><rect x="90" y="53.33" width="3.93" height="3.93" fill="#6993c8"/><rect x="93.33" y="53.33" width="3.93" height="3.93" fill="#786ccb"/><rect x="96.67" y="53.33" width="13.93" height="3.93" fill="#8253cc"/><rect x="-10" y="56.67" width="13.93" height="3.93" fill="#8350cc"/><rect x="3.33" y="56.67" width="3.93" height="3.93" fill="#7a68cc"/><rect x="6.67" y="56.67" width="3.93" height="3.93" fill="#67a2c4"/><rect x="10" y="56.67" width="3.93" height="3.93" fill="#79daab"/><rect x="13.33" y="56.67" width="3.93" height="3.93" fill="#75d5ae"/><rect x="16.67" y="56.67" width="3.93" height="3.93" fill="#66b2c0"/><rect x="20" y="56.67" width="3.93" height="3.93" fill="#8548cb"/><rect x="23.33" y="56.67" width="3.93" height="3.93" fill="#8936c8"/><rect x="26.67" y="56.67" width="3.93" height="3.93" fill="#844ccb"/><rect x="30" y="56.67" width="3.93" height="3.93" fill="#68c8b9"/><rect x="33.33" y="56.67" width="3.93" height="3.93" fill="#92e391"/><rect x="36.67" y="56.67" width="3.93" height="3.93" fill="#a8e579"/><rect x="40" y="56.67" width="3.93" height="3.93" fill="#6bcbb6"/><rect x="43.33" y="56.67" width="3.93" height="3.93" fill="#776fcb"/><rect x="46.67" y="56.67" width="3.93" height="3.93" fill="#844ccb"/><rect x="50" y="56.67" width="3.93" height="3.93" fill="#6a8fc8"/><rect x="53.33" y="56.67" width="3.93" height="3.93" fill="#6995c7"/><rect x="56.67" y="56.67" width="3.93" height="3.93" fill="#6b8dc8"/><rect x="60" y="56.67" width="3.93" height="3.93" fill="#67a2c4"/><rect x="63.33" y="56.67" width="3.93" height="3.93" fill="#6ac9b7"/><rect x="66.67" y="56.67" width="3.93" height="3.93" fill="#71d1b2"/><rect x="70" y="56.67" width="3.93" height="3.93" fill="#689cc5"/><rect x="73.33" y="56.67" width="3.93" height="3.93" fill="#6995c7"/><rect x="76.67" y="56.67" width="3.93" height="3.93" fill="#689ec5"/><rect x="80" y="56.67" width="3.93" height="3.93" fill="#6991c8"/><rect x="83.33" y="56.67" width="3.93" height="3.93" fill="#67a4c3"/><rect x="86.67" y="56.67" width="3.93" height="3.93" fill="#65b6bf"/><rect x="90" y="56.67" width="3.93" height="3.93" fill="#67a6c3"/><rect x="93.33" y="56.67" width="3.93" height="3.93" fill="#6f82c9"/><rect x="96.67" y="56.67" width="13.93" height="3.93" fill="#7c63cc"/><rect x="-10" y="60" width="13.93" height="3.93" fill="#8643ca"/><rect x="3.33" y="60" width="3.93" height="3.93" fill="#8156cd"/><rect x="6.67" y="60" width="3.93" height="3.93" fill="#6b8dc8"/><rect x="10" y="60" width="3.93" height="3.93" fill="#73d3af"/><rect x="13.33" y="60" width="3.93" height="3.93" fill="#75d5ae"/><rect x="16.67" y="60" width="3.93" height="3.93" fill="#69c8b8"/><rect x="20" y="60" width="3.93" height="3.93" fill="#7574cb"/><rect x="23.33" y="60" width="3.93" height="3.93" fill="#7e5ecd"/><rect x="26.67" y="60" width="3.93" height="3.93" fill="#7379ca"/><rect x="30" y="60" width="3.93" height="3.93" fill="#70d0b2"/><rect x="33.33" y="60" width="3.93" height="3.93" fill="#a7e47a"/><rect x="36.67" y="60" width="3.93" height="3.93" fill="#cee84f"/><rect x="40" y="60" width="3.93" height="3.93" fill="#73d3b0"/><rect x="43.33" y="60" width="3.93" height="3.93" fill="#737aca"/><rect x="46.67" y="60" width="3.93" height="3.93" fill="#8547cb"/><rect x="50" y="60" width="3.93" height="3.93" fill="#796bcb"/><rect x="53.33" y="60" width="3.93" height="3.93" fill="#7575cb"/><rect x="56.67" y="60" width="3.93" height="3.93" fill="#7477ca"/><rect x="60" y="60" width="3.93" height="3.93" fill="#6b8dc8"/><rect x="63.33" y="60" width="3.93" height="3.93" fill="#66b3c0"/><rect x="66.67" y="60" width="3.93" height="3.93" fill="#64c3bc"/><rect x="70" y="60" width="3.93" height="3.93" fill="#6f83c9"/><rect x="73.33" y="60" width="3.93" height="3.93" fill="#7575cb"/><rect x="76.67" y="60" width="3.93" height="3.93" fill="#727bca"/><rect x="80" y="60" width="3.93" height="3.93" fill="#6c8ac9"/><rect x="83.33" y="60" width="3.93" height="3.93" fill="#6e85c9"/><rect x="86.67" y="60" width="3.93" height="3.93" fill="#727cca"/><rect x="90" y="60" width="3.93" height="3.93" fill="#7378ca"/><rect x="93.33" y="60" width="3.93" height="3.93" fill="#805acd"/><rect x="96.67" y="60" width="13.93" height="3.93" fill="#8546ca"/><rect x="-10" y="63.33" width="13.93" height="3.93" fill="#844acb"/><rect x="3.33" y="63.33" width="3.93" height="3.93" fill="#7e5ecd"/><rect x="6.67" y="63.33" width="3.93" height="3.93" fill="#6990c8"/><rect x="10" y="63.33" width="3.93" height="3.93" fill="#6bcbb6"/><rect x="13.33" y="63.33" width="3.93" height="3.93" fill="#70d0b2"/><rect x="16.67" y="63.33" width="3.93" height="3.93" fill="#6dccb5"/><rect x="20" y="63.33" width="3.93" height="3.93" fill="#67a9c2"/><rect x="23.33" y="63.33" width="3.93" height="3.93" fill="#6b8dc8"/><rect x="26.67" y="63.33" width="3.93" height="3.93" fill="#6990c8"/><rect x="30" y="63.33" width="3.93" height="3.93" fill="#6bcbb6"/><rect x="33.33" y="63.33" width="3.93" height="3.93" fill="#8de297"/><rect x="36.67" y="63.33" width="3.93" height="3.93" fill="#a3e47f"/><rect x="40" y="63.33" width="3.93" height="3.93" fill="#6dccb5"/><rect x="43.33" y="63.33" width="3.93" height="3.93" fill="#6e85c9"/><rect x="46.67" y="63.33" width="3.93" height="3.93" fill="#8252cc"/><rect x="50" y="63.33" width="3.93" height="3.93" fill="#844bcb"/><rect x="53.33" y="63.33" width="3.93" height="3.93" fill="#844acb"/><rect x="56.67" y="63.33" width="3.93" height="3.93" fill="#834dcb"/><rect x="60" y="63.33" width="3.93" height="3.93" fill="#805acd"/><rect x="63.33" y="63.33" width="3.93" height="3.93" fill="#6b8dc8"/><rect x="66.67" y="63.33" width="3.93" height="3.93" fill="#65b8bf"/><rect x="70" y="63.33" width="3.93" height="3.93" fill="#66aec1"/><rect x="73.33" y="63.33" width="3.93" height="3.93" fill="#67a4c3"/><rect x="76.67" y="63.33" width="3.93" height="3.93" fill="#6898c6"/><rect x="80" y="63.33" width="3.93" height="3.93" fill="#6f82c9"/><rect x="83.33" y="63.33" width="3.93" height="3.93" fill="#7b65cc"/><rect x="86.67" y="63.33" width="3.93" height="3.93" fill="#8252cc"/><rect x="90" y="63.33" width="3.93" height="3.93" fill="#844bcb"/><rect x="93.33" y="63.33" width="3.93" height="3.93" fill="#8740ca"/><rect x="96.67" y="63.33" width="13.93" height="3.93" fill="#8936c8"/><rect x="-10" y="66.67" width="13.93" height="3.93" fill="#8350cc"/><rect x="3.33" y="66.67" width="3.93" height="3.93" fill="#7c63cc"/><rect x="6.67" y="66.67" width="3.93" height="3.93" fill="#6d87c9"/><rect x="10" y="66.67" width="3.93" height="3.93" fill="#66adc1"/><rect x="13.33" y="66.67" width="3.93" height="3.93" fill="#65c4bb"/><rect x="16.67" y="66.67" width="3.93" height="3.93" fill="#6ac9b7"/><rect x="20" y="66.67" width="3.93" height="3.93" fill="#64c3bc"/><rect x="23.33" y="66.67" width="3.93" height="3.93" fill="#66b1c0"/><rect x="26.67" y="66.67" width="3.93" height="3.93" fill="#67a8c2"/><rect x="30" y="66.67" width="3.93" height="3.93" fill="#64c3bc"/><rect x="33.33" y="66.67" width="3.93" height="3.93" fill="#72d2b1"/><rect x="36.67" y="66.67" width="3.93" height="3.93" fill="#77d7ad"/><rect x="40" y="66.67" width="3.93" height="3.93" fill="#66b4c0"/><rect x="43.33" y="66.67" width="3.93" height="3.93" fill="#6d88c9"/><rect x="46.67" y="66.67" width="3.93" height="3.93" fill="#7d61cc"/><rect x="50" y="66.67" width="3.93" height="3.93" fill="#873ec9"/><rect x="53.33" y="66.67" width="3.93" height="3.93" fill="#8938c8"/><rect x="56.67" y="66.67" width="3.93" height="3.93" fill="#883cc9"/><rect x="60" y="66.67" width="3.93" height="3.93" fill="#8547ca"/><rect x="63.33" y="66.67" width="3.93" height="3.93" fill="#717dca"/><rect x="66.67" y="66.67" width="3.93" height="3.93" fill="#65c4bb"/><rect x="70" y="66.67" width="3.93" height="3.93" fill="#72d2b1"/><rect x="73.33" y="66.67" width="3.93" height="3.93" fill="#70d0b2"/><rect x="76.67" y="66.67" width="3.93" height="3.93" fill="#64c3bc"/><rect x="80" y="66.67" width="3.93" height="3.93" fill="#6f83c9"/><rect x="83.33" y="66.67" width="3.93" height="3.93" fill="#8058cd"/><rect x="86.67" y="66.67" width="3.93" height="3.93" fill="#8545ca"/><rect x="90" y="66.67" width="3.93" height="3.93" fill="#8741ca"/><rect x="93.33" y="66.67" width="3.93" height="3.93" fill="#8938c8"/><rect x="96.67" y="66.67" width="13.93" height="3.93" fill="#8832c6"/><rect x="-10" y="70" width="13.93" height="3.93" fill="#8643ca"/><rect x="3.33" y="70" width="3.93" height="3.93" fill="#8546ca"/><rect x="6.67" y="70" width="3.93" height="3.93" fill="#834dcb"/><rect x="10" y="70" width="3.93" height="3.93" fill="#7f5dcd"/><rect x="13.33" y="70" width="3.93" height="3.93" fill="#7672cb"/><rect x="16.67" y="70" width="3.93" height="3.93" fill="#6e86c9"/><rect x="20" y="70" width="3.93" height="3.93" fill="#6994c7"/><rect x="23.33" y="70" width="3.93" height="3.93" fill="#65c4bb"/><rect x="26.67" y="70" width="3.93" height="3.93" fill="#71d1b1"/><rect x="30" y="70" width="3.93" height="3.93" fill="#6ac9b7"/><rect x="33.33" y="70" width="3.93" height="3.93" fill="#65c4bb"/><rect x="36.67" y="70" width="3.93" height="3.93" fill="#66b4c0"/><rect x="40" y="70" width="3.93" height="3.93" fill="#6e84c9"/><rect x="43.33" y="70" width="3.93" height="3.93" fill="#7672cb"/><rect x="46.67" y="70" width="3.93" height="3.93" fill="#796acc"/><rect x="50" y="70" width="3.93" height="3.93" fill="#7d61cc"/><rect x="53.33" y="70" width="3.93" height="3.93" fill="#796acc"/><rect x="56.67" y="70" width="3.93" height="3.93" fill="#7378ca"/><rect x="60" y="70" width="3.93" height="3.93" fill="#727cca"/><rect x="63.33" y="70" width="3.93" height="3.93" fill="#65bbbe"/><rect x="66.67" y="70" width="3.93" height="3.93" fill="#78d8ac"/><rect x="70" y="70" width="3.93" height="3.93" fill="#88e29c"/><rect x="73.33" y="70" width="3.93" height="3.93" fill="#7edfa6"/><rect x="76.67" y="70" width="3.93" height="3.93" fill="#71d1b2"/><rect x="80" y="70" width="3.93" height="3.93" fill="#689cc5"/><rect x="83.33" y="70" width="3.93" height="3.93" fill="#7575cb"/><rect x="86.67" y="70" width="3.93" height="3.93" fill="#786ecb"/><rect x="90" y="70" width="3.93" height="3.93" fill="#68a0c4"/><rect x="93.33" y="70" width="3.93" height="3.93" fill="#796acc"/><rect x="96.67" y="70" width="13.93" height="3.93" fill="#883dc9"/><rect x="-10" y="73.33" width="13.93" height="3.93" fill="#8936c8"/><rect x="3.33" y="73.33" width="3.93" height="3.93" fill="#8936c8"/><rect x="6.67" y="73.33" width="3.93" height="3.93" fill="#8939c9"/><rect x="10" y="73.33" width="3.93" height="3.93" fill="#8546ca"/><rect x="13.33" y="73.33" width="3.93" height="3.93" fill="#8253cc"/><rect x="16.67" y="73.33" width="3.93" height="3.93" fill="#7b65cc"/><rect x="20" y="73.33" width="3.93" height="3.93" fill="#6e85c9"/><rect x="23.33" y="73.33" width="3.93" height="3.93" fill="#6ac9b7"/><rect x="26.67" y="73.33" width="3.93" height="3.93" fill="#7bdba9"/><rect x="30" y="73.33" width="3.93" height="3.93" fill="#6fcfb3"/><rect x="33.33" y="73.33" width="3.93" height="3.93" fill="#65bbbe"/><rect x="36.67" y="73.33" width="3.93" height="3.93" fill="#689ac6"/><rect x="40" y="73.33" width="3.93" height="3.93" fill="#6990c8"/><rect x="43.33" y="73.33" width="3.93" height="3.93" fill="#6e85c9"/><rect x="46.67" y="73.33" width="3.93" height="3.93" fill="#6d88c9"/><rect x="50" y="73.33" width="3.93" height="3.93" fill="#66b1c0"/><rect x="53.33" y="73.33" width="3.93" height="3.93" fill="#65bbbe"/><rect x="56.67" y="73.33" width="3.93" height="3.93" fill="#66b3c0"/><rect x="60" y="73.33" width="3.93" height="3.93" fill="#6995c7"/><rect x="63.33" y="73.33" width="3.93" height="3.93" fill="#64c2bc"/><rect x="66.67" y="73.33" width="3.93" height="3.93" fill="#7bdca9"/><rect x="70" y="73.33" width="3.93" height="3.93" fill="#a8e579"/><rect x="73.33" y="73.33" width="3.93" height="3.93" fill="#98e38a"/><rect x="76.67" y="73.33" width="3.93" height="3.93" fill="#78d8ac"/><rect x="80" y="73.33" width="3.93" height="3.93" fill="#66b1c0"/><rect x="83.33" y="73.33" width="3.93" height="3.93" fill="#6e85c9"/><rect x="86.67" y="73.33" width="3.93" height="3.93" fill="#737aca"/><rect x="90" y="73.33" width="3.93" height="3.93" fill="#66aec1"/><rect x="93.33" y="73.33" width="3.93" height="3.93" fill="#7575cb"/><rect x="96.67" y="73.33" width="13.93" height="3.93" fill="#8740ca"/><rect x="-10" y="76.67" width="13.93" height="3.93" fill="#8730c4"/><rect x="3.33" y="76.67" width="3.93" height="3.93" fill="#8730c4"/><rect x="6.67" y="76.67" width="3.93" height="3.93" fill="#8832c6"/><rect x="10" y="76.67" width="3.93" height="3.93" fill="#883dc9"/><rect x="13.33" y="76.67" width="3.93" height="3.93" fill="#844acb"/><rect x="16.67" y="76.67" width="3.93" height="3.93" fill="#8059cd"/><rect x="20" y="76.67" width="3.93" height="3.93" fill="#717eca"/><rect x="23.33" y="76.67" width="3.93" height="3.93" fill="#68c7b9"/><rect x="26.67" y="76.67" width="3.93" height="3.93" fill="#78d8ac"/><rect x="30" y="76.67" width="3.93" height="3.93" fill="#6dcdb4"/><rect x="33.33" y="76.67" width="3.93" height="3.93" fill="#66aec1"/><rect x="36.67" y="76.67" width="3.93" height="3.93" fill="#6a8ec8"/><rect x="40" y="76.67" width="3.93" height="3.93" fill="#67a6c3"/><rect x="43.33" y="76.67" width="3.93" height="3.93" fill="#689ac6"/><rect x="46.67" y="76.67" width="3.93" height="3.93" fill="#689ec5"/><rect x="50" y="76.67" width="3.93" height="3.93" fill="#74d4af"/><rect x="53.33" y="76.67" width="3.93" height="3.93" fill="#79daab"/><rect x="56.67" y="76.67" width="3.93" height="3.93" fill="#72d2b0"/><rect x="60" y="76.67" width="3.93" height="3.93" fill="#67a5c3"/><rect x="63.33" y="76.67" width="3.93" height="3.93" fill="#65b8bf"/><rect x="66.67" y="76.67" width="3.93" height="3.93" fill="#77d7ac"/><rect x="70" y="76.67" width="3.93" height="3.93" fill="#b6e66a"/><rect x="73.33" y="76.67" width="3.93" height="3.93" fill="#a3e47f"/><rect x="76.67" y="76.67" width="3.93" height="3.93" fill="#79d9ab"/><rect x="80" y="76.67" width="3.93" height="3.93" fill="#66b2c0"/><rect x="83.33" y="76.67" width="3.93" height="3.93" fill="#717dca"/><rect x="86.67" y="76.67" width="3.93" height="3.93" fill="#7b66cc"/><rect x="90" y="76.67" width="3.93" height="3.93" fill="#6c8ac9"/><rect x="93.33" y="76.67" width="3.93" height="3.93" fill="#7e5ecd"/><rect x="96.67" y="76.67" width="13.93" height="3.93" fill="#883dc9"/><rect x="-10" y="80" width="13.93" height="3.93" fill="#8730c4"/><rect x="3.33" y="80" width="3.93" height="3.93" fill="#8730c4"/><rect x="6.67" y="80" width="3.93" height="3.93" fill="#8832c6"/><rect x="10" y="80" width="3.93" height="3.93" fill="#883dc9"/><rect x="13.33" y="80" width="3.93" height="3.93" fill="#844acb"/><rect x="16.67" y="80" width="3.93" height="3.93" fill="#8157cd"/><rect x="20" y="80" width="3.93" height="3.93" fill="#796ccb"/><rect x="23.33" y="80" width="3.93" height="3.93" fill="#6b8dc8"/><rect x="26.67" y="80" width="3.93" height="3.93" fill="#67a1c4"/><rect x="30" y="80" width="3.93" height="3.93" fill="#6c89c9"/><rect x="33.33" y="80" width="3.93" height="3.93" fill="#737aca"/><rect x="36.67" y="80" width="3.93" height="3.93" fill="#727cca"/><rect x="40" y="80" width="3.93" height="3.93" fill="#67a3c4"/><rect x="43.33" y="80" width="3.93" height="3.93" fill="#6990c8"/><rect x="46.67" y="80" width="3.93" height="3.93" fill="#6991c8"/><rect x="50" y="80" width="3.93" height="3.93" fill="#78d9ab"/><rect x="53.33" y="80" width="3.93" height="3.93" fill="#95e38e"/><rect x="56.67" y="80" width="3.93" height="3.93" fill="#96e38c"/><rect x="60" y="80" width="3.93" height="3.93" fill="#66c5ba"/><rect x="63.33" y="80" width="3.93" height="3.93" fill="#66aec1"/><rect x="66.67" y="80" width="3.93" height="3.93" fill="#68c8b8"/><rect x="70" y="80" width="3.93" height="3.93" fill="#86e29e"/><rect x="73.33" y="80" width="3.93" height="3.93" fill="#7edfa6"/><rect x="76.67" y="80" width="3.93" height="3.93" fill="#6cccb5"/><rect x="80" y="80" width="3.93" height="3.93" fill="#7476ca"/><rect x="83.33" y="80" width="3.93" height="3.93" fill="#844acb"/><rect x="86.67" y="80" width="3.93" height="3.93" fill="#8937c8"/><rect x="90" y="80" width="3.93" height="3.93" fill="#883cc9"/><rect x="93.33" y="80" width="3.93" height="3.93" fill="#8936c8"/><rect x="96.67" y="80" width="13.93" height="3.93" fill="#8832c6"/><rect x="-10" y="83.33" width="13.93" height="3.93" fill="#8730c4"/><rect x="3.33" y="83.33" width="3.93" height="3.93" fill="#8933c7"/><rect x="6.67" y="83.33" width="3.93" height="3.93" fill="#8939c9"/><rect x="10" y="83.33" width="3.93" height="3.93" fill="#8546ca"/><rect x="13.33" y="83.33" width="3.93" height="3.93" fill="#8253cc"/><rect x="16.67" y="83.33" width="3.93" height="3.93" fill="#7d61cc"/><rect x="20" y="83.33" width="3.93" height="3.93" fill="#796acc"/><rect x="23.33" y="83.33" width="3.93" height="3.93" fill="#7575cb"/><rect x="26.67" y="83.33" width="3.93" height="3.93" fill="#7477ca"/><rect x="30" y="83.33" width="3.93" height="3.93" fill="#7c63cc"/><rect x="33.33" y="83.33" width="3.93" height="3.93" fill="#7b65cc"/><rect x="36.67" y="83.33" width="3.93" height="3.93" fill="#7575cb"/><rect x="40" y="83.33" width="3.93" height="3.93" fill="#6995c7"/><rect x="43.33" y="83.33" width="3.93" height="3.93" fill="#717dca"/><rect x="46.67" y="83.33" width="3.93" height="3.93" fill="#7477ca"/><rect x="50" y="83.33" width="3.93" height="3.93" fill="#6ecdb4"/><rect x="53.33" y="83.33" width="3.93" height="3.93" fill="#7edea7"/><rect x="56.67" y="83.33" width="3.93" height="3.93" fill="#7edfa6"/><rect x="60" y="83.33" width="3.93" height="3.93" fill="#67a9c2"/><rect x="63.33" y="83.33" width="3.93" height="3.93" fill="#6b8dc8"/><rect x="66.67" y="83.33" width="3.93" height="3.93" fill="#689ac6"/><rect x="70" y="83.33" width="3.93" height="3.93" fill="#68c8b8"/><rect x="73.33" y="83.33" width="3.93" height="3.93" fill="#65bbbe"/><rect x="76.67" y="83.33" width="3.93" height="3.93" fill="#6c8bc9"/><rect x="80" y="83.33" width="3.93" height="3.93" fill="#844bcb"/><rect x="83.33" y="83.33" width="3.93" height="3.93" fill="#8933c7"/><rect x="86.67" y="83.33" width="3.93" height="3.93" fill="#862fc3"/><rect x="90" y="83.33" width="3.93" height="3.93" fill="#862fc3"/><rect x="93.33" y="83.33" width="3.93" height="3.93" fill="#862fc3"/><rect x="96.67" y="83.33" width="13.93" height="3.93" fill="#8630c4"/><rect x="-10" y="86.67" width="13.93" height="3.93" fill="#8730c4"/><rect x="3.33" y="86.67" width="3.93" height="3.93" fill="#8936c8"/><rect x="6.67" y="86.67" width="3.93" height="3.93" fill="#8643ca"/><rect x="10" y="86.67" width="3.93" height="3.93" fill="#8350cc"/><rect x="13.33" y="86.67" width="3.93" height="3.93" fill="#7f5ccd"/><rect x="16.67" y="86.67" width="3.93" height="3.93" fill="#796bcb"/><rect x="20" y="86.67" width="3.93" height="3.93" fill="#7379ca"/><rect x="23.33" y="86.67" width="3.93" height="3.93" fill="#7575cb"/><rect x="26.67" y="86.67" width="3.93" height="3.93" fill="#7b67cc"/><rect x="30" y="86.67" width="3.93" height="3.93" fill="#8254cc"/><rect x="33.33" y="86.67" width="3.93" height="3.93" fill="#7e5ecd"/><rect x="36.67" y="86.67" width="3.93" height="3.93" fill="#7476ca"/><rect x="40" y="86.67" width="3.93" height="3.93" fill="#6e84c9"/><rect x="43.33" y="86.67" width="3.93" height="3.93" fill="#7a68cc"/><rect x="46.67" y="86.67" width="3.93" height="3.93" fill="#7f5ccd"/><rect x="50" y="86.67" width="3.93" height="3.93" fill="#67a4c3"/><rect x="53.33" y="86.67" width="3.93" height="3.93" fill="#65c4bb"/><rect x="56.67" y="86.67" width="3.93" height="3.93" fill="#64c1bc"/><rect x="60" y="86.67" width="3.93" height="3.93" fill="#7575ca"/><rect x="63.33" y="86.67" width="3.93" height="3.93" fill="#7c63cc"/><rect x="66.67" y="86.67" width="3.93" height="3.93" fill="#7b66cc"/><rect x="70" y="86.67" width="3.93" height="3.93" fill="#7574cb"/><rect x="73.33" y="86.67" width="3.93" height="3.93" fill="#7e5ecd"/><rect x="76.67" y="86.67" width="3.93" height="3.93" fill="#8547cb"/><rect x="80" y="86.67" width="3.93" height="3.93" fill="#8933c7"/><rect x="83.33" y="86.67" width="3.93" height="3.93" fill="#862fc3"/><rect x="86.67" y="86.67" width="3.93" height="3.93" fill="#852ec2"/><rect x="90" y="86.67" width="3.93" height="3.93" fill="#852ec2"/><rect x="93.33" y="86.67" width="3.93" height="3.93" fill="#852ec2"/><rect x="96.67" y="86.67" width="13.93" height="3.93" fill="#862fc3"/><rect x="-10" y="90" width="13.93" height="3.93" fill="#8730c4"/><rect x="3.33" y="90" width="3.93" height="3.93" fill="#8936c8"/><rect x="6.67" y="90" width="3.93" height="3.93" fill="#8643ca"/><rect x="10" y="90" width="3.93" height="3.93" fill="#8350cc"/><rect x="13.33" y="90" width="3.93" height="3.93" fill="#8155cc"/><rect x="16.67" y="90" width="3.93" height="3.93" fill="#7c65cc"/><rect x="20" y="90" width="3.93" height="3.93" fill="#67aac2"/><rect x="23.33" y="90" width="3.93" height="3.93" fill="#6995c7"/><rect x="26.67" y="90" width="3.93" height="3.93" fill="#7c64cc"/><rect x="30" y="90" width="3.93" height="3.93" fill="#8449cb"/><rect x="33.33" y="90" width="3.93" height="3.93" fill="#7e5ecd"/><rect x="36.67" y="90" width="3.93" height="3.93" fill="#6e84c9"/><rect x="40" y="90" width="3.93" height="3.93" fill="#7476ca"/><rect x="43.33" y="90" width="3.93" height="3.93" fill="#8156cd"/><rect x="46.67" y="90" width="3.93" height="3.93" fill="#8548cb"/><rect x="50" y="90" width="3.93" height="3.93" fill="#7f5ccd"/><rect x="53.33" y="90" width="3.93" height="3.93" fill="#7672cb"/><rect x="56.67" y="90" width="3.93" height="3.93" fill="#7476ca"/><rect x="60" y="90" width="3.93" height="3.93" fill="#834ecb"/><rect x="63.33" y="90" width="3.93" height="3.93" fill="#8546ca"/><rect x="66.67" y="90" width="3.93" height="3.93" fill="#8644ca"/><rect x="70" y="90" width="3.93" height="3.93" fill="#883cc9"/><rect x="73.33" y="90" width="3.93" height="3.93" fill="#8936c8"/><rect x="76.67" y="90" width="3.93" height="3.93" fill="#8933c7"/><rect x="80" y="90" width="3.93" height="3.93" fill="#8731c5"/><rect x="83.33" y="90" width="3.93" height="3.93" fill="#862fc3"/><rect x="86.67" y="90" width="3.93" height="3.93" fill="#852ec2"/><rect x="90" y="90" width="3.93" height="3.93" fill="#852ec2"/><rect x="93.33" y="90" width="3.93" height="3.93" fill="#862fc3"/><rect x="96.67" y="90" width="13.93" height="3.93" fill="#8730c4"/><rect x="-10" y="93.33" width="13.93" height="3.93" fill="#8730c4"/><rect x="3.33" y="93.33" width="3.93" height="3.93" fill="#8933c7"/><rect x="6.67" y="93.33" width="3.93" height="3.93" fill="#8939c9"/><rect x="10" y="93.33" width="3.93" height="3.93" fill="#8546ca"/><rect x="13.33" y="93.33" width="3.93" height="3.93" fill="#844acb"/><rect x="16.67" y="93.33" width="3.93" height="3.93" fill="#8253cc"/><rect x="20" y="93.33" width="3.93" height="3.93" fill="#6b8dc8"/><rect x="23.33" y="93.33" width="3.93" height="3.93" fill="#7575cb"/><rect x="26.67" y="93.33" width="3.93" height="3.93" fill="#834ecb"/><rect x="30" y="93.33" width="3.93" height="3.93" fill="#883bc9"/><rect x="33.33" y="93.33" width="3.93" height="3.93" fill="#834ecb"/><rect x="36.67" y="93.33" width="3.93" height="3.93" fill="#7a68cc"/><rect x="40" y="93.33" width="3.93" height="3.93" fill="#8156cd"/><rect x="43.33" y="93.33" width="3.93" height="3.93" fill="#8645ca"/><rect x="46.67" y="93.33" width="3.93" height="3.93" fill="#8938c8"/><rect x="50" y="93.33" width="3.93" height="3.93" fill="#873ec9"/><rect x="53.33" y="93.33" width="3.93" height="3.93" fill="#844acb"/><rect x="56.67" y="93.33" width="3.93" height="3.93" fill="#834ecb"/><rect x="60" y="93.33" width="3.93" height="3.93" fill="#883bc9"/><rect x="63.33" y="93.33" width="3.93" height="3.93" fill="#8936c8"/><rect x="66.67" y="93.33" width="3.93" height="3.93" fill="#8936c8"/><rect x="70" y="93.33" width="3.93" height="3.93" fill="#8936c8"/><rect x="73.33" y="93.33" width="3.93" height="3.93" fill="#8740ca"/><rect x="76.67" y="93.33" width="3.93" height="3.93" fill="#8548cb"/><rect x="80" y="93.33" width="3.93" height="3.93" fill="#8641ca"/><rect x="83.33" y="93.33" width="3.93" height="3.93" fill="#8936c8"/><rect x="86.67" y="93.33" width="3.93" height="3.93" fill="#8730c4"/><rect x="90" y="93.33" width="3.93" height="3.93" fill="#8630c4"/><rect x="93.33" y="93.33" width="3.93" height="3.93" fill="#8630c4"/><rect x="96.67" y="93.33" width="13.93" height="3.93" fill="#8630c4"/><rect x="-10" y="96.67" width="13.93" height="13.93" fill="#8730c4"/><rect x="3.33" y="96.67" width="3.93" height="13.93" fill="#8730c4"/><rect x="6.67" y="96.67" width="3.93" height="13.93" fill="#8832c6"/><rect x="10" y="96.67" width="3.93" height="13.93" fill="#883dc9"/><rect x="13.33" y="96.67" width="3.93" height="13.93" fill="#8740ca"/><rect x="16.67" y="96.67" width="3.93" height="13.93" fill="#8546ca"/><rect x="20" y="96.67" width="3.93" height="13.93" fill="#7c63cc"/><rect x="23.33" y="96.67" width="3.93" height="13.93" fill="#8253cc"/><rect x="26.67" y="96.67" width="3.93" height="13.93" fill="#883dc9"/><rect x="30" y="96.67" width="3.93" height="13.93" fill="#8832c6"/><rect x="33.33" y="96.67" width="3.93" height="13.93" fill="#8740ca"/><rect x="36.67" y="96.67" width="3.93" height="13.93" fill="#8350cc"/><rect x="40" y="96.67" width="3.93" height="13.93" fill="#8643ca"/><rect x="43.33" y="96.67" width="3.93" height="13.93" fill="#8936c8"/><rect x="46.67" y="96.67" width="3.93" height="13.93" fill="#8730c4"/><rect x="50" y="96.67" width="3.93" height="13.93" fill="#8730c4"/><rect x="53.33" y="96.67" width="3.93" height="13.93" fill="#8936c8"/><rect x="56.67" y="96.67" width="3.93" height="13.93" fill="#883dc9"/><rect x="60" y="96.67" width="3.93" height="13.93" fill="#8832c6"/><rect x="63.33" y="96.67" width="3.93" height="13.93" fill="#8730c4"/><rect x="66.67" y="96.67" width="3.93" height="13.93" fill="#8832c6"/><rect x="70" y="96.67" width="3.93" height="13.93" fill="#883dc9"/><rect x="73.33" y="96.67" width="3.93" height="13.93" fill="#8253cc"/><rect x="76.67" y="96.67" width="3.93" height="13.93" fill="#7a68cc"/><rect x="80" y="96.67" width="3.93" height="13.93" fill="#8156cd"/><rect x="83.33" y="96.67" width="3.93" height="13.93" fill="#844acb"/><rect x="86.67" y="96.67" width="3.93" height="13.93" fill="#883dc9"/><rect x="90" y="96.67" width="3.93" height="13.93" fill="#8832c6"/><rect x="93.33" y="96.67" width="3.93" height="13.93" fill="#8630c4"/><rect x="96.67" y="96.67" width="13.93" height="13.93" fill="#862fc3"/></g></g><g opacity="0.3" filter="url(#texc)"><polygon points="0.19,22.11 4.89,13.19 13.11,6.85 24.85,3.32 36.59,2.15 50.69,4.5 62.43,9.2 69.47,16.24 72.29,24.46 76.99,31.51 84.03,37.38 92.96,42.78 100.94,47.48 100.94,69.08 92.96,74.25 81.22,76.6 69.47,77.77 60.55,81.29 55.85,87.87 45.99,90.69 34.25,85.99 22.5,78.94 13.11,71.43 6.07,64.38 0.19,57.34" fill="#000"/></g><g transform="scale(0.98)" opacity="0.35"><use href="#fib"/></g></g>
<g transform="translate(584,322.6) scale(1.0,0.992)" clip-path="url(#sq)"><g filter="url(#bl2)"><g shape-rendering="crispEdges"><rect x="-10" y="-10" width="15.6" height="15.6" fill="#b0b7e7"/><rect x="5" y="-10" width="5.6" height="15.6" fill="#aebce6"/><rect x="10" y="-10" width="5.6" height="15.6" fill="#aac6e5"/><rect x="15" y="-10" width="5.6" height="15.6" fill="#a5d1e4"/><rect x="20" y="-10" width="5.6" height="15.6" fill="#a3d7e0"/><rect x="25" y="-10" width="5.6" height="15.6" fill="#a2dddc"/><rect x="30" y="-10" width="5.6" height="15.6" fill="#a0e2d8"/><rect x="35" y="-10" width="5.6" height="15.6" fill="#a3e4d4"/><rect x="40" y="-10" width="5.6" height="15.6" fill="#a6e5d0"/><rect x="45" y="-10" width="5.6" height="15.6" fill="#a6e6d0"/><rect x="50" y="-10" width="5.6" height="15.6" fill="#a4e4d2"/><rect x="55" y="-10" width="5.6" height="15.6" fill="#a1e2d7"/><rect x="60" y="-10" width="5.6" height="15.6" fill="#a2dadd"/><rect x="65" y="-10" width="5.6" height="15.6" fill="#a5d0e4"/><rect x="70" y="-10" width="5.6" height="15.6" fill="#b0b7e7"/><rect x="75" y="-10" width="5.6" height="15.6" fill="#b8a5e8"/><rect x="80" y="-10" width="5.6" height="15.6" fill="#bc9be7"/><rect x="85" y="-10" width="5.6" height="15.6" fill="#bf95e7"/><rect x="90" y="-10" width="5.6" height="15.6" fill="#c093e6"/><rect x="95" y="-10" width="15.6" height="15.6" fill="#c092e6"/><rect x="-10" y="5" width="15.6" height="5.6" fill="#afbae6"/><rect x="5" y="5" width="5.6" height="5.6" fill="#acc0e6"/><rect x="10" y="5" width="5.6" height="5.6" fill="#a7cbe4"/><rect x="15" y="5" width="5.6" height="5.6" fill="#a4d4e2"/><rect x="20" y="5" width="5.6" height="5.6" fill="#a2dadd"/><rect x="25" y="5" width="5.6" height="5.6" fill="#a0e1d9"/><rect x="30" y="5" width="5.6" height="5.6" fill="#a3e4d4"/><rect x="35" y="5" width="5.6" height="5.6" fill="#a6e6cf"/><rect x="40" y="5" width="5.6" height="5.6" fill="#a9e8cb"/><rect x="45" y="5" width="5.6" height="5.6" fill="#aae8c9"/><rect x="50" y="5" width="5.6" height="5.6" fill="#a9e7cc"/><rect x="55" y="5" width="5.6" height="5.6" fill="#a5e5d1"/><rect x="60" y="5" width="5.6" height="5.6" fill="#a0e1d9"/><rect x="65" y="5" width="5.6" height="5.6" fill="#a3d5e0"/><rect x="70" y="5" width="5.6" height="5.6" fill="#acc0e6"/><rect x="75" y="5" width="5.6" height="5.6" fill="#b6abe8"/><rect x="80" y="5" width="5.6" height="5.6" fill="#bb9ee7"/><rect x="85" y="5" width="5.6" height="5.6" fill="#be97e7"/><rect x="90" y="5" width="5.6" height="5.6" fill="#bf94e7"/><rect x="95" y="5" width="15.6" height="5.6" fill="#c093e6"/><rect x="-10" y="10" width="15.6" height="5.6" fill="#acc0e6"/><rect x="5" y="10" width="5.6" height="5.6" fill="#a9c8e5"/><rect x="10" y="10" width="5.6" height="5.6" fill="#a4d3e2"/><rect x="15" y="10" width="5.6" height="5.6" fill="#a2dadd"/><rect x="20" y="10" width="5.6" height="5.6" fill="#a0e1d9"/><rect x="25" y="10" width="5.6" height="5.6" fill="#a4e4d3"/><rect x="30" y="10" width="5.6" height="5.6" fill="#a8e7cd"/><rect x="35" y="10" width="5.6" height="5.6" fill="#b1e9bd"/><rect x="40" y="10" width="5.6" height="5.6" fill="#bee9a9"/><rect x="45" y="10" width="5.6" height="5.6" fill="#c2eaa1"/><rect x="50" y="10" width="5.6" height="5.6" fill="#c0eaa5"/><rect x="55" y="10" width="5.6" height="5.6" fill="#b5e9b8"/><rect x="60" y="10" width="5.6" height="5.6" fill="#a7e6ce"/><rect x="65" y="10" width="5.6" height="5.6" fill="#a0e0d9"/><rect x="70" y="10" width="5.6" height="5.6" fill="#a5d1e3"/><rect x="75" y="10" width="5.6" height="5.6" fill="#afb9e6"/><rect x="80" y="10" width="5.6" height="5.6" fill="#b8a6e8"/><rect x="85" y="10" width="5.6" height="5.6" fill="#bc9be7"/><rect x="90" y="10" width="5.6" height="5.6" fill="#be97e7"/><rect x="95" y="10" width="15.6" height="5.6" fill="#bf95e7"/><rect x="-10" y="15" width="15.6" height="5.6" fill="#a9c6e5"/><rect x="5" y="15" width="5.6" height="5.6" fill="#a5cfe4"/><rect x="10" y="15" width="5.6" height="5.6" fill="#a3d8df"/><rect x="15" y="15" width="5.6" height="5.6" fill="#a1dfda"/><rect x="20" y="15" width="5.6" height="5.6" fill="#a2e3d5"/><rect x="25" y="15" width="5.6" height="5.6" fill="#a7e6cf"/><rect x="30" y="15" width="5.6" height="5.6" fill="#aee8c3"/><rect x="35" y="15" width="5.6" height="5.6" fill="#bce9ac"/><rect x="40" y="15" width="5.6" height="5.6" fill="#cbe994"/><rect x="45" y="15" width="5.6" height="5.6" fill="#d4e888"/><rect x="50" y="15" width="5.6" height="5.6" fill="#d2e88b"/><rect x="55" y="15" width="5.6" height="5.6" fill="#c4ea9e"/><rect x="60" y="15" width="5.6" height="5.6" fill="#b2e9bd"/><rect x="65" y="15" width="5.6" height="5.6" fill="#a5e5d1"/><rect x="70" y="15" width="5.6" height="5.6" fill="#a2dbdd"/><rect x="75" y="15" width="5.6" height="5.6" fill="#a8cae5"/><rect x="80" y="15" width="5.6" height="5.6" fill="#b3b1e7"/><rect x="85" y="15" width="5.6" height="5.6" fill="#b9a3e8"/><rect x="90" y="15" width="5.6" height="5.6" fill="#bc9de7"/><rect x="95" y="15" width="15.6" height="5.6" fill="#bd9ae7"/><rect x="-10" y="20" width="15.6" height="5.6" fill="#a6cde4"/><rect x="5" y="20" width="5.6" height="5.6" fill="#a4d3e2"/><rect x="10" y="20" width="5.6" height="5.6" fill="#a2dcdc"/><rect x="15" y="20" width="5.6" height="5.6" fill="#a1e2d7"/><rect x="20" y="20" width="5.6" height="5.6" fill="#a4e4d2"/><rect x="25" y="20" width="5.6" height="5.6" fill="#a8e7cd"/><rect x="30" y="20" width="5.6" height="5.6" fill="#b1e9be"/><rect x="35" y="20" width="5.6" height="5.6" fill="#bee9a8"/><rect x="40" y="20" width="5.6" height="5.6" fill="#cee990"/><rect x="45" y="20" width="5.6" height="5.6" fill="#d7e784"/><rect x="50" y="20" width="5.6" height="5.6" fill="#d6e885"/><rect x="55" y="20" width="5.6" height="5.6" fill="#cde991"/><rect x="60" y="20" width="5.6" height="5.6" fill="#bfe9a7"/><rect x="65" y="20" width="5.6" height="5.6" fill="#ace8c7"/><rect x="70" y="20" width="5.6" height="5.6" fill="#a2e3d6"/><rect x="75" y="20" width="5.6" height="5.6" fill="#a3d6e0"/><rect x="80" y="20" width="5.6" height="5.6" fill="#abc2e5"/><rect x="85" y="20" width="5.6" height="5.6" fill="#b4afe8"/><rect x="90" y="20" width="5.6" height="5.6" fill="#b8a5e8"/><rect x="95" y="20" width="15.6" height="5.6" fill="#baa0e7"/><rect x="-10" y="25" width="15.6" height="5.6" fill="#a5d1e3"/><rect x="5" y="25" width="5.6" height="5.6" fill="#a3d6e0"/><rect x="10" y="25" width="5.6" height="5.6" fill="#a1dfda"/><rect x="15" y="25" width="5.6" height="5.6" fill="#a2e3d5"/><rect x="20" y="25" width="5.6" height="5.6" fill="#a5e5d1"/><rect x="25" y="25" width="5.6" height="5.6" fill="#a9e7cc"/><rect x="30" y="25" width="5.6" height="5.6" fill="#b1e8be"/><rect x="35" y="25" width="5.6" height="5.6" fill="#bde9ab"/><rect x="40" y="25" width="5.6" height="5.6" fill="#cbe994"/><rect x="45" y="25" width="5.6" height="5.6" fill="#d5e886"/><rect x="50" y="25" width="5.6" height="5.6" fill="#d8e783"/><rect x="55" y="25" width="5.6" height="5.6" fill="#d4e888"/><rect x="60" y="25" width="5.6" height="5.6" fill="#cae996"/><rect x="65" y="25" width="5.6" height="5.6" fill="#bbe9ad"/><rect x="70" y="25" width="5.6" height="5.6" fill="#a9e7cb"/><rect x="75" y="25" width="5.6" height="5.6" fill="#a2e3d5"/><rect x="80" y="25" width="5.6" height="5.6" fill="#a3d9de"/><rect x="85" y="25" width="5.6" height="5.6" fill="#a6cde4"/><rect x="90" y="25" width="5.6" height="5.6" fill="#adbde6"/><rect x="95" y="25" width="15.6" height="5.6" fill="#b1b5e7"/><rect x="-10" y="30" width="15.6" height="5.6" fill="#a4d3e2"/><rect x="5" y="30" width="5.6" height="5.6" fill="#a3d8df"/><rect x="10" y="30" width="5.6" height="5.6" fill="#a0e2d8"/><rect x="15" y="30" width="5.6" height="5.6" fill="#a4e4d3"/><rect x="20" y="30" width="5.6" height="5.6" fill="#a6e6d0"/><rect x="25" y="30" width="5.6" height="5.6" fill="#a8e7cc"/><rect x="30" y="30" width="5.6" height="5.6" fill="#ade8c5"/><rect x="35" y="30" width="5.6" height="5.6" fill="#b7e9b5"/><rect x="40" y="30" width="5.6" height="5.6" fill="#c3eaa0"/><rect x="45" y="30" width="5.6" height="5.6" fill="#cee990"/><rect x="50" y="30" width="5.6" height="5.6" fill="#d5e886"/><rect x="55" y="30" width="5.6" height="5.6" fill="#d7e784"/><rect x="60" y="30" width="5.6" height="5.6" fill="#d4e888"/><rect x="65" y="30" width="5.6" height="5.6" fill="#cce993"/><rect x="70" y="30" width="5.6" height="5.6" fill="#c1eaa4"/><rect x="75" y="30" width="5.6" height="5.6" fill="#b4e9b9"/><rect x="80" y="30" width="5.6" height="5.6" fill="#a8e7cd"/><rect x="85" y="30" width="5.6" height="5.6" fill="#a2e3d6"/><rect x="90" y="30" width="5.6" height="5.6" fill="#a2dbdd"/><rect x="95" y="30" width="15.6" height="5.6" fill="#a4d5e0"/><rect x="-10" y="35" width="15.6" height="5.6" fill="#a4d4e1"/><rect x="5" y="35" width="5.6" height="5.6" fill="#a2d9de"/><rect x="10" y="35" width="5.6" height="5.6" fill="#a1e2d7"/><rect x="15" y="35" width="5.6" height="5.6" fill="#a5e5d2"/><rect x="20" y="35" width="5.6" height="5.6" fill="#a7e6cf"/><rect x="25" y="35" width="5.6" height="5.6" fill="#a8e7cc"/><rect x="30" y="35" width="5.6" height="5.6" fill="#aae8ca"/><rect x="35" y="35" width="5.6" height="5.6" fill="#b1e9be"/><rect x="40" y="35" width="5.6" height="5.6" fill="#bce9ab"/><rect x="45" y="35" width="5.6" height="5.6" fill="#c6ea9c"/><rect x="50" y="35" width="5.6" height="5.6" fill="#d0e88d"/><rect x="55" y="35" width="5.6" height="5.6" fill="#d8e783"/><rect x="60" y="35" width="5.6" height="5.6" fill="#dbe77e"/><rect x="65" y="35" width="5.6" height="5.6" fill="#dce77d"/><rect x="70" y="35" width="5.6" height="5.6" fill="#dae77f"/><rect x="75" y="35" width="5.6" height="5.6" fill="#d1e88c"/><rect x="80" y="35" width="5.6" height="5.6" fill="#c2eaa1"/><rect x="85" y="35" width="5.6" height="5.6" fill="#b4e9ba"/><rect x="90" y="35" width="5.6" height="5.6" fill="#a7e6ce"/><rect x="95" y="35" width="15.6" height="5.6" fill="#a4e4d2"/><rect x="-10" y="40" width="15.6" height="5.6" fill="#a4d5e0"/><rect x="5" y="40" width="5.6" height="5.6" fill="#a2dadd"/><rect x="10" y="40" width="5.6" height="5.6" fill="#a2e3d6"/><rect x="15" y="40" width="5.6" height="5.6" fill="#a5e5d1"/><rect x="20" y="40" width="5.6" height="5.6" fill="#a7e6ce"/><rect x="25" y="40" width="5.6" height="5.6" fill="#a8e7cd"/><rect x="30" y="40" width="5.6" height="5.6" fill="#a9e7cb"/><rect x="35" y="40" width="5.6" height="5.6" fill="#ace8c6"/><rect x="40" y="40" width="5.6" height="5.6" fill="#b5e9b7"/><rect x="45" y="40" width="5.6" height="5.6" fill="#bee9a8"/><rect x="50" y="40" width="5.6" height="5.6" fill="#c9e996"/><rect x="55" y="40" width="5.6" height="5.6" fill="#d6e885"/><rect x="60" y="40" width="5.6" height="5.6" fill="#e0e678"/><rect x="65" y="40" width="5.6" height="5.6" fill="#e8e56d"/><rect x="70" y="40" width="5.6" height="5.6" fill="#ede465"/><rect x="75" y="40" width="5.6" height="5.6" fill="#ede466"/><rect x="80" y="40" width="5.6" height="5.6" fill="#e6e56e"/><rect x="85" y="40" width="5.6" height="5.6" fill="#d8e782"/><rect x="90" y="40" width="5.6" height="5.6" fill="#c3eaa0"/><rect x="95" y="40" width="15.6" height="5.6" fill="#bbe9ae"/><rect x="-10" y="45" width="15.6" height="5.6" fill="#a3d6e0"/><rect x="5" y="45" width="5.6" height="5.6" fill="#a2dbdc"/><rect x="10" y="45" width="5.6" height="5.6" fill="#a2e3d5"/><rect x="15" y="45" width="5.6" height="5.6" fill="#a6e5d0"/><rect x="20" y="45" width="5.6" height="5.6" fill="#a7e6ce"/><rect x="25" y="45" width="5.6" height="5.6" fill="#a8e7cd"/><rect x="30" y="45" width="5.6" height="5.6" fill="#a8e7cc"/><rect x="35" y="45" width="5.6" height="5.6" fill="#aae8cb"/><rect x="40" y="45" width="5.6" height="5.6" fill="#afe8c1"/><rect x="45" y="45" width="5.6" height="5.6" fill="#b8e9b2"/><rect x="50" y="45" width="5.6" height="5.6" fill="#c4ea9f"/><rect x="55" y="45" width="5.6" height="5.6" fill="#d3e88a"/><rect x="60" y="45" width="5.6" height="5.6" fill="#e1e675"/><rect x="65" y="45" width="5.6" height="5.6" fill="#eee464"/><rect x="70" y="45" width="5.6" height="5.6" fill="#f1e35c"/><rect x="75" y="45" width="5.6" height="5.6" fill="#f2e359"/><rect x="80" y="45" width="5.6" height="5.6" fill="#f2e35a"/><rect x="85" y="45" width="5.6" height="5.6" fill="#efe462"/><rect x="90" y="45" width="5.6" height="5.6" fill="#dbe77e"/><rect x="95" y="45" width="15.6" height="5.6" fill="#d1e88c"/><rect x="-10" y="50" width="15.6" height="5.6" fill="#a3d7df"/><rect x="5" y="50" width="5.6" height="5.6" fill="#a2dcdc"/><rect x="10" y="50" width="5.6" height="5.6" fill="#a2e3d5"/><rect x="15" y="50" width="5.6" height="5.6" fill="#a6e6d0"/><rect x="20" y="50" width="5.6" height="5.6" fill="#a7e6ce"/><rect x="25" y="50" width="5.6" height="5.6" fill="#a8e7cd"/><rect x="30" y="50" width="5.6" height="5.6" fill="#a8e7cd"/><rect x="35" y="50" width="5.6" height="5.6" fill="#a9e7cc"/><rect x="40" y="50" width="5.6" height="5.6" fill="#abe8c9"/><rect x="45" y="50" width="5.6" height="5.6" fill="#b3e9bb"/><rect x="50" y="50" width="5.6" height="5.6" fill="#c0eaa6"/><rect x="55" y="50" width="5.6" height="5.6" fill="#cfe98f"/><rect x="60" y="50" width="5.6" height="5.6" fill="#e0e677"/><rect x="65" y="50" width="5.6" height="5.6" fill="#eee463"/><rect x="70" y="50" width="5.6" height="5.6" fill="#f1e35a"/><rect x="75" y="50" width="5.6" height="5.6" fill="#f3e356"/><rect x="80" y="50" width="5.6" height="5.6" fill="#f3e357"/><rect x="85" y="50" width="5.6" height="5.6" fill="#f0e45f"/><rect x="90" y="50" width="5.6" height="5.6" fill="#e0e677"/><rect x="95" y="50" width="15.6" height="5.6" fill="#d6e885"/><rect x="-10" y="55" width="15.6" height="5.6" fill="#a3d7df"/><rect x="5" y="55" width="5.6" height="5.6" fill="#a2dcdc"/><rect x="10" y="55" width="5.6" height="5.6" fill="#a2e4d4"/><rect x="15" y="55" width="5.6" height="5.6" fill="#a6e6d0"/><rect x="20" y="55" width="5.6" height="5.6" fill="#a7e6ce"/><rect x="25" y="55" width="5.6" height="5.6" fill="#a8e7cd"/><rect x="30" y="55" width="5.6" height="5.6" fill="#a8e7cd"/><rect x="35" y="55" width="5.6" height="5.6" fill="#a8e7cc"/><rect x="40" y="55" width="5.6" height="5.6" fill="#a9e8cb"/><rect x="45" y="55" width="5.6" height="5.6" fill="#afe8c2"/><rect x="50" y="55" width="5.6" height="5.6" fill="#bae9af"/><rect x="55" y="55" width="5.6" height="5.6" fill="#c7ea9a"/><rect x="60" y="55" width="5.6" height="5.6" fill="#dae780"/><rect x="65" y="55" width="5.6" height="5.6" fill="#eae56a"/><rect x="70" y="55" width="5.6" height="5.6" fill="#f0e35d"/><rect x="75" y="55" width="5.6" height="5.6" fill="#f2e359"/><rect x="80" y="55" width="5.6" height="5.6" fill="#f1e35b"/><rect x="85" y="55" width="5.6" height="5.6" fill="#eee464"/><rect x="90" y="55" width="5.6" height="5.6" fill="#d8e782"/><rect x="95" y="55" width="15.6" height="5.6" fill="#cde991"/><rect x="-10" y="60" width="15.6" height="5.6" fill="#a3d7df"/><rect x="5" y="60" width="5.6" height="5.6" fill="#a2dcdc"/><rect x="10" y="60" width="5.6" height="5.6" fill="#a2e4d4"/><rect x="15" y="60" width="5.6" height="5.6" fill="#a6e6d0"/><rect x="20" y="60" width="5.6" height="5.6" fill="#a7e6ce"/><rect x="25" y="60" width="5.6" height="5.6" fill="#a8e7cd"/><rect x="30" y="60" width="5.6" height="5.6" fill="#a8e7cd"/><rect x="35" y="60" width="5.6" height="5.6" fill="#a8e7cc"/><rect x="40" y="60" width="5.6" height="5.6" fill="#a9e7cc"/><rect x="45" y="60" width="5.6" height="5.6" fill="#abe8c8"/><rect x="50" y="60" width="5.6" height="5.6" fill="#b3e9ba"/><rect x="55" y="60" width="5.6" height="5.6" fill="#bee9a8"/><rect x="60" y="60" width="5.6" height="5.6" fill="#cfe98f"/><rect x="65" y="60" width="5.6" height="5.6" fill="#dfe678"/><rect x="70" y="60" width="5.6" height="5.6" fill="#ede466"/><rect x="75" y="60" width="5.6" height="5.6" fill="#efe462"/><rect x="80" y="60" width="5.6" height="5.6" fill="#ebe468"/><rect x="85" y="60" width="5.6" height="5.6" fill="#dce77d"/><rect x="90" y="60" width="5.6" height="5.6" fill="#c4ea9e"/><rect x="95" y="60" width="15.6" height="5.6" fill="#bbe9ad"/><rect x="-10" y="65" width="15.6" height="5.6" fill="#a3d7df"/><rect x="5" y="65" width="5.6" height="5.6" fill="#a2dcdc"/><rect x="10" y="65" width="5.6" height="5.6" fill="#a2e3d5"/><rect x="15" y="65" width="5.6" height="5.6" fill="#a6e6d0"/><rect x="20" y="65" width="5.6" height="5.6" fill="#a7e6ce"/><rect x="25" y="65" width="5.6" height="5.6" fill="#a8e7cd"/><rect x="30" y="65" width="5.6" height="5.6" fill="#a8e7cd"/><rect x="35" y="65" width="5.6" height="5.6" fill="#a8e7cd"/><rect x="40" y="65" width="5.6" height="5.6" fill="#a8e7cc"/><rect x="45" y="65" width="5.6" height="5.6" fill="#a9e8cb"/><rect x="50" y="65" width="5.6" height="5.6" fill="#ace8c6"/><rect x="55" y="65" width="5.6" height="5.6" fill="#b4e9b9"/><rect x="60" y="65" width="5.6" height="5.6" fill="#bfeaa6"/><rect x="65" y="65" width="5.6" height="5.6" fill="#cae996"/><rect x="70" y="65" width="5.6" height="5.6" fill="#d4e888"/><rect x="75" y="65" width="5.6" height="5.6" fill="#d5e887"/><rect x="80" y="65" width="5.6" height="5.6" fill="#cde991"/><rect x="85" y="65" width="5.6" height="5.6" fill="#c0eaa5"/><rect x="90" y="65" width="5.6" height="5.6" fill="#afe8c1"/><rect x="95" y="65" width="15.6" height="5.6" fill="#a9e7cc"/><rect x="-10" y="70" width="15.6" height="5.6" fill="#a3d6e0"/><rect x="5" y="70" width="5.6" height="5.6" fill="#a2dbdc"/><rect x="10" y="70" width="5.6" height="5.6" fill="#a2e3d5"/><rect x="15" y="70" width="5.6" height="5.6" fill="#a6e5d0"/><rect x="20" y="70" width="5.6" height="5.6" fill="#a8e7cd"/><rect x="25" y="70" width="5.6" height="5.6" fill="#a8e7cc"/><rect x="30" y="70" width="5.6" height="5.6" fill="#a8e7cc"/><rect x="35" y="70" width="5.6" height="5.6" fill="#a8e7cc"/><rect x="40" y="70" width="5.6" height="5.6" fill="#a8e7cd"/><rect x="45" y="70" width="5.6" height="5.6" fill="#a8e7cd"/><rect x="50" y="70" width="5.6" height="5.6" fill="#a8e7cd"/><rect x="55" y="70" width="5.6" height="5.6" fill="#a9e8cb"/><rect x="60" y="70" width="5.6" height="5.6" fill="#aee8c4"/><rect x="65" y="70" width="5.6" height="5.6" fill="#b2e9bd"/><rect x="70" y="70" width="5.6" height="5.6" fill="#b4e9b9"/><rect x="75" y="70" width="5.6" height="5.6" fill="#b2e9bd"/><rect x="80" y="70" width="5.6" height="5.6" fill="#abe8c8"/><rect x="85" y="70" width="5.6" height="5.6" fill="#a7e6ce"/><rect x="90" y="70" width="5.6" height="5.6" fill="#a2e3d5"/><rect x="95" y="70" width="15.6" height="5.6" fill="#a0e2d8"/><rect x="-10" y="75" width="15.6" height="5.6" fill="#a4d4e1"/><rect x="5" y="75" width="5.6" height="5.6" fill="#a2dade"/><rect x="10" y="75" width="5.6" height="5.6" fill="#a1e3d7"/><rect x="15" y="75" width="5.6" height="5.6" fill="#a5e5d1"/><rect x="20" y="75" width="5.6" height="5.6" fill="#a7e6ce"/><rect x="25" y="75" width="5.6" height="5.6" fill="#a8e7cc"/><rect x="30" y="75" width="5.6" height="5.6" fill="#a8e7cc"/><rect x="35" y="75" width="5.6" height="5.6" fill="#a8e7cd"/><rect x="40" y="75" width="5.6" height="5.6" fill="#a7e6ce"/><rect x="45" y="75" width="5.6" height="5.6" fill="#a6e6cf"/><rect x="50" y="75" width="5.6" height="5.6" fill="#a6e5d0"/><rect x="55" y="75" width="5.6" height="5.6" fill="#a5e5d1"/><rect x="60" y="75" width="5.6" height="5.6" fill="#a6e5d0"/><rect x="65" y="75" width="5.6" height="5.6" fill="#a5e5d1"/><rect x="70" y="75" width="5.6" height="5.6" fill="#a5e5d1"/><rect x="75" y="75" width="5.6" height="5.6" fill="#a3e4d4"/><rect x="80" y="75" width="5.6" height="5.6" fill="#a0e2d8"/><rect x="85" y="75" width="5.6" height="5.6" fill="#a2dcdc"/><rect x="90" y="75" width="5.6" height="5.6" fill="#a4d5e1"/><rect x="95" y="75" width="15.6" height="5.6" fill="#a4d2e3"/><rect x="-10" y="80" width="15.6" height="5.6" fill="#a5d2e3"/><rect x="5" y="80" width="5.6" height="5.6" fill="#a3d6e0"/><rect x="10" y="80" width="5.6" height="5.6" fill="#a1e0d9"/><rect x="15" y="80" width="5.6" height="5.6" fill="#a3e4d4"/><rect x="20" y="80" width="5.6" height="5.6" fill="#a6e5d0"/><rect x="25" y="80" width="5.6" height="5.6" fill="#a7e6ce"/><rect x="30" y="80" width="5.6" height="5.6" fill="#a8e7cd"/><rect x="35" y="80" width="5.6" height="5.6" fill="#a8e7cd"/><rect x="40" y="80" width="5.6" height="5.6" fill="#a6e6cf"/><rect x="45" y="80" width="5.6" height="5.6" fill="#a5e5d1"/><rect x="50" y="80" width="5.6" height="5.6" fill="#a3e4d4"/><rect x="55" y="80" width="5.6" height="5.6" fill="#a2e3d6"/><rect x="60" y="80" width="5.6" height="5.6" fill="#a0e2d8"/><rect x="65" y="80" width="5.6" height="5.6" fill="#a1e0da"/><rect x="70" y="80" width="5.6" height="5.6" fill="#a2dcdc"/><rect x="75" y="80" width="5.6" height="5.6" fill="#a3d7df"/><rect x="80" y="80" width="5.6" height="5.6" fill="#a5d0e4"/><rect x="85" y="80" width="5.6" height="5.6" fill="#aac4e5"/><rect x="90" y="80" width="5.6" height="5.6" fill="#afb9e6"/><rect x="95" y="80" width="15.6" height="5.6" fill="#b2b3e7"/><rect x="-10" y="85" width="15.6" height="5.6" fill="#a7cbe5"/><rect x="5" y="85" width="5.6" height="5.6" fill="#a4d2e3"/><rect x="10" y="85" width="5.6" height="5.6" fill="#a2dbdd"/><rect x="15" y="85" width="5.6" height="5.6" fill="#a0e2d8"/><rect x="20" y="85" width="5.6" height="5.6" fill="#a3e4d4"/><rect x="25" y="85" width="5.6" height="5.6" fill="#a4e5d2"/><rect x="30" y="85" width="5.6" height="5.6" fill="#a5e5d1"/><rect x="35" y="85" width="5.6" height="5.6" fill="#a5e5d1"/><rect x="40" y="85" width="5.6" height="5.6" fill="#a4e4d3"/><rect x="45" y="85" width="5.6" height="5.6" fill="#a2e3d6"/><rect x="50" y="85" width="5.6" height="5.6" fill="#a0e1d9"/><rect x="55" y="85" width="5.6" height="5.6" fill="#a2dcdc"/><rect x="60" y="85" width="5.6" height="5.6" fill="#a3d9de"/><rect x="65" y="85" width="5.6" height="5.6" fill="#a4d4e1"/><rect x="70" y="85" width="5.6" height="5.6" fill="#a6cfe4"/><rect x="75" y="85" width="5.6" height="5.6" fill="#abc3e5"/><rect x="80" y="85" width="5.6" height="5.6" fill="#b1b5e7"/><rect x="85" y="85" width="5.6" height="5.6" fill="#b6aae8"/><rect x="90" y="85" width="5.6" height="5.6" fill="#b9a3e8"/><rect x="95" y="85" width="15.6" height="5.6" fill="#baa0e7"/><rect x="-10" y="90" width="15.6" height="5.6" fill="#acc1e6"/><rect x="5" y="90" width="5.6" height="5.6" fill="#a9c8e5"/><rect x="10" y="90" width="5.6" height="5.6" fill="#a4d3e2"/><rect x="15" y="90" width="5.6" height="5.6" fill="#a2d9de"/><rect x="20" y="90" width="5.6" height="5.6" fill="#a1dedb"/><rect x="25" y="90" width="5.6" height="5.6" fill="#a0e1d9"/><rect x="30" y="90" width="5.6" height="5.6" fill="#a0e2d8"/><rect x="35" y="90" width="5.6" height="5.6" fill="#a0e2d8"/><rect x="40" y="90" width="5.6" height="5.6" fill="#a1dfda"/><rect x="45" y="90" width="5.6" height="5.6" fill="#a2dcdc"/><rect x="50" y="90" width="5.6" height="5.6" fill="#a3d7df"/><rect x="55" y="90" width="5.6" height="5.6" fill="#a4d3e2"/><rect x="60" y="90" width="5.6" height="5.6" fill="#a7cce4"/><rect x="65" y="90" width="5.6" height="5.6" fill="#abc2e5"/><rect x="70" y="90" width="5.6" height="5.6" fill="#b0b8e7"/><rect x="75" y="90" width="5.6" height="5.6" fill="#b4aee8"/><rect x="80" y="90" width="5.6" height="5.6" fill="#b8a5e8"/><rect x="85" y="90" width="5.6" height="5.6" fill="#bb9ee7"/><rect x="90" y="90" width="5.6" height="5.6" fill="#bd9ae7"/><rect x="95" y="90" width="15.6" height="5.6" fill="#be98e7"/><rect x="-10" y="95" width="15.6" height="15.6" fill="#aebce6"/><rect x="5" y="95" width="5.6" height="15.6" fill="#abc2e5"/><rect x="10" y="95" width="5.6" height="15.6" fill="#a6cfe4"/><rect x="15" y="95" width="5.6" height="15.6" fill="#a4d5e1"/><rect x="20" y="95" width="5.6" height="15.6" fill="#a2dade"/><rect x="25" y="95" width="5.6" height="15.6" fill="#a2dddc"/><rect x="30" y="95" width="5.6" height="15.6" fill="#a1dedb"/><rect x="35" y="95" width="5.6" height="15.6" fill="#a1dddb"/><rect x="40" y="95" width="5.6" height="15.6" fill="#a2dbdd"/><rect x="45" y="95" width="5.6" height="15.6" fill="#a3d7df"/><rect x="50" y="95" width="5.6" height="15.6" fill="#a4d2e2"/><rect x="55" y="95" width="5.6" height="15.6" fill="#a7cbe5"/><rect x="60" y="95" width="5.6" height="15.6" fill="#acc1e6"/><rect x="65" y="95" width="5.6" height="15.6" fill="#b0b7e7"/><rect x="70" y="95" width="5.6" height="15.6" fill="#b5ade8"/><rect x="75" y="95" width="5.6" height="15.6" fill="#b8a4e8"/><rect x="80" y="95" width="5.6" height="15.6" fill="#bb9ee7"/><rect x="85" y="95" width="5.6" height="15.6" fill="#be98e7"/><rect x="90" y="95" width="5.6" height="15.6" fill="#bf96e7"/><rect x="95" y="95" width="15.6" height="15.6" fill="#c094e7"/></g></g><g clip-path="url(#tis)"><g filter="url(#bl2)"><g shape-rendering="crispEdges"><rect x="-10" y="-10" width="15.6" height="15.6" fill="#8a8cd4"/><rect x="5" y="-10" width="5.6" height="15.6" fill="#898dd3"/><rect x="10" y="-10" width="5.6" height="15.6" fill="#8690d0"/><rect x="15" y="-10" width="5.6" height="15.6" fill="#8392ce"/><rect x="20" y="-10" width="5.6" height="15.6" fill="#8095cb"/><rect x="25" y="-10" width="5.6" height="15.6" fill="#7d98c8"/><rect x="30" y="-10" width="5.6" height="15.6" fill="#7d9ec6"/><rect x="35" y="-10" width="5.6" height="15.6" fill="#7da2c4"/><rect x="40" y="-10" width="5.6" height="15.6" fill="#81a8c1"/><rect x="45" y="-10" width="5.6" height="15.6" fill="#82aac0"/><rect x="50" y="-10" width="5.6" height="15.6" fill="#7fa4c3"/><rect x="55" y="-10" width="5.6" height="15.6" fill="#7d9ec6"/><rect x="60" y="-10" width="5.6" height="15.6" fill="#7e97c9"/><rect x="65" y="-10" width="5.6" height="15.6" fill="#8492ce"/><rect x="70" y="-10" width="5.6" height="15.6" fill="#8a8cd4"/><rect x="75" y="-10" width="5.6" height="15.6" fill="#8e86d5"/><rect x="80" y="-10" width="5.6" height="15.6" fill="#9283d6"/><rect x="85" y="-10" width="5.6" height="15.6" fill="#9380d6"/><rect x="90" y="-10" width="5.6" height="15.6" fill="#9480d6"/><rect x="95" y="-10" width="15.6" height="15.6" fill="#947fd7"/><rect x="-10" y="5" width="15.6" height="5.6" fill="#898dd3"/><rect x="5" y="5" width="5.6" height="5.6" fill="#888ed2"/><rect x="10" y="5" width="5.6" height="5.6" fill="#8591cf"/><rect x="15" y="5" width="5.6" height="5.6" fill="#8194cc"/><rect x="20" y="5" width="5.6" height="5.6" fill="#7e97c9"/><rect x="25" y="5" width="5.6" height="5.6" fill="#7d9cc6"/><rect x="30" y="5" width="5.6" height="5.6" fill="#7da1c4"/><rect x="35" y="5" width="5.6" height="5.6" fill="#83abc0"/><rect x="40" y="5" width="5.6" height="5.6" fill="#89b4bb"/><rect x="45" y="5" width="5.6" height="5.6" fill="#8ab6ba"/><rect x="50" y="5" width="5.6" height="5.6" fill="#87b2bc"/><rect x="55" y="5" width="5.6" height="5.6" fill="#81a8c1"/><rect x="60" y="5" width="5.6" height="5.6" fill="#7d9cc6"/><rect x="65" y="5" width="5.6" height="5.6" fill="#8195cb"/><rect x="70" y="5" width="5.6" height="5.6" fill="#888ed2"/><rect x="75" y="5" width="5.6" height="5.6" fill="#8d88d5"/><rect x="80" y="5" width="5.6" height="5.6" fill="#9084d6"/><rect x="85" y="5" width="5.6" height="5.6" fill="#9381d6"/><rect x="90" y="5" width="5.6" height="5.6" fill="#9380d6"/><rect x="95" y="5" width="15.6" height="5.6" fill="#9480d6"/><rect x="-10" y="10" width="15.6" height="5.6" fill="#888ed2"/><rect x="5" y="10" width="5.6" height="5.6" fill="#8690d0"/><rect x="10" y="10" width="5.6" height="5.6" fill="#8294cc"/><rect x="15" y="10" width="5.6" height="5.6" fill="#7e97c9"/><rect x="20" y="10" width="5.6" height="5.6" fill="#7d9cc6"/><rect x="25" y="10" width="5.6" height="5.6" fill="#7ea3c4"/><rect x="30" y="10" width="5.6" height="5.6" fill="#87b1bd"/><rect x="35" y="10" width="5.6" height="5.6" fill="#94bdb0"/><rect x="40" y="10" width="5.6" height="5.6" fill="#a4caa1"/><rect x="45" y="10" width="5.6" height="5.6" fill="#aace9b"/><rect x="50" y="10" width="5.6" height="5.6" fill="#a7cc9e"/><rect x="55" y="10" width="5.6" height="5.6" fill="#98c1ac"/><rect x="60" y="10" width="5.6" height="5.6" fill="#84acbf"/><rect x="65" y="10" width="5.6" height="5.6" fill="#7d9cc7"/><rect x="70" y="10" width="5.6" height="5.6" fill="#8393cd"/><rect x="75" y="10" width="5.6" height="5.6" fill="#8a8cd4"/><rect x="80" y="10" width="5.6" height="5.6" fill="#8e87d5"/><rect x="85" y="10" width="5.6" height="5.6" fill="#9183d6"/><rect x="90" y="10" width="5.6" height="5.6" fill="#9381d6"/><rect x="95" y="10" width="15.6" height="5.6" fill="#9380d6"/><rect x="-10" y="15" width="15.6" height="5.6" fill="#8690d0"/><rect x="5" y="15" width="5.6" height="5.6" fill="#8492ce"/><rect x="10" y="15" width="5.6" height="5.6" fill="#7f96ca"/><rect x="15" y="15" width="5.6" height="5.6" fill="#7d9bc7"/><rect x="20" y="15" width="5.6" height="5.6" fill="#7da0c5"/><rect x="25" y="15" width="5.6" height="5.6" fill="#83acbf"/><rect x="30" y="15" width="5.6" height="5.6" fill="#8fbab5"/><rect x="35" y="15" width="5.6" height="5.6" fill="#a1c8a3"/><rect x="40" y="15" width="5.6" height="5.6" fill="#b4d290"/><rect x="45" y="15" width="5.6" height="5.6" fill="#bed185"/><rect x="50" y="15" width="5.6" height="5.6" fill="#bcd187"/><rect x="55" y="15" width="5.6" height="5.6" fill="#add098"/><rect x="60" y="15" width="5.6" height="5.6" fill="#94beb0"/><rect x="65" y="15" width="5.6" height="5.6" fill="#80a7c2"/><rect x="70" y="15" width="5.6" height="5.6" fill="#7e97c9"/><rect x="75" y="15" width="5.6" height="5.6" fill="#8590d0"/><rect x="80" y="15" width="5.6" height="5.6" fill="#8b8ad4"/><rect x="85" y="15" width="5.6" height="5.6" fill="#8f86d5"/><rect x="90" y="15" width="5.6" height="5.6" fill="#9183d6"/><rect x="95" y="15" width="15.6" height="5.6" fill="#9282d6"/><rect x="-10" y="20" width="15.6" height="5.6" fill="#8491cf"/><rect x="5" y="20" width="5.6" height="5.6" fill="#8293cd"/><rect x="10" y="20" width="5.6" height="5.6" fill="#7d98c8"/><rect x="15" y="20" width="5.6" height="5.6" fill="#7d9ec6"/><rect x="20" y="20" width="5.6" height="5.6" fill="#7ea4c3"/><rect x="25" y="20" width="5.6" height="5.6" fill="#86b0bd"/><rect x="30" y="20" width="5.6" height="5.6" fill="#94bdb1"/><rect x="35" y="20" width="5.6" height="5.6" fill="#a5caa0"/><rect x="40" y="20" width="5.6" height="5.6" fill="#b7d28c"/><rect x="45" y="20" width="5.6" height="5.6" fill="#c1d181"/><rect x="50" y="20" width="5.6" height="5.6" fill="#c1d182"/><rect x="55" y="20" width="5.6" height="5.6" fill="#b7d28d"/><rect x="60" y="20" width="5.6" height="5.6" fill="#a5cb9f"/><rect x="65" y="20" width="5.6" height="5.6" fill="#8cb8b8"/><rect x="70" y="20" width="5.6" height="5.6" fill="#7da0c5"/><rect x="75" y="20" width="5.6" height="5.6" fill="#8095cb"/><rect x="80" y="20" width="5.6" height="5.6" fill="#878fd1"/><rect x="85" y="20" width="5.6" height="5.6" fill="#8c8ad4"/><rect x="90" y="20" width="5.6" height="5.6" fill="#8f86d5"/><rect x="95" y="20" width="15.6" height="5.6" fill="#9085d5"/><rect x="-10" y="25" width="15.6" height="5.6" fill="#8392ce"/><rect x="5" y="25" width="5.6" height="5.6" fill="#8095cb"/><rect x="10" y="25" width="5.6" height="5.6" fill="#7d9ac7"/><rect x="15" y="25" width="5.6" height="5.6" fill="#7da0c5"/><rect x="20" y="25" width="5.6" height="5.6" fill="#81a8c1"/><rect x="25" y="25" width="5.6" height="5.6" fill="#87b2bc"/><rect x="30" y="25" width="5.6" height="5.6" fill="#93bdb1"/><rect x="35" y="25" width="5.6" height="5.6" fill="#a3c9a2"/><rect x="40" y="25" width="5.6" height="5.6" fill="#b4d290"/><rect x="45" y="25" width="5.6" height="5.6" fill="#bfd183"/><rect x="50" y="25" width="5.6" height="5.6" fill="#c2d180"/><rect x="55" y="25" width="5.6" height="5.6" fill="#bed185"/><rect x="60" y="25" width="5.6" height="5.6" fill="#b3d291"/><rect x="65" y="25" width="5.6" height="5.6" fill="#a1c7a4"/><rect x="70" y="25" width="5.6" height="5.6" fill="#88b3bb"/><rect x="75" y="25" width="5.6" height="5.6" fill="#7da0c5"/><rect x="80" y="25" width="5.6" height="5.6" fill="#7f96ca"/><rect x="85" y="25" width="5.6" height="5.6" fill="#8491cf"/><rect x="90" y="25" width="5.6" height="5.6" fill="#888ed2"/><rect x="95" y="25" width="15.6" height="5.6" fill="#8a8cd4"/><rect x="-10" y="30" width="15.6" height="5.6" fill="#8293cd"/><rect x="5" y="30" width="5.6" height="5.6" fill="#7f96ca"/><rect x="10" y="30" width="5.6" height="5.6" fill="#7d9dc6"/><rect x="15" y="30" width="5.6" height="5.6" fill="#7ea3c4"/><rect x="20" y="30" width="5.6" height="5.6" fill="#82aac0"/><rect x="25" y="30" width="5.6" height="5.6" fill="#87b1bc"/><rect x="30" y="30" width="5.6" height="5.6" fill="#8eb9b6"/><rect x="35" y="30" width="5.6" height="5.6" fill="#9bc3aa"/><rect x="40" y="30" width="5.6" height="5.6" fill="#abcf9a"/><rect x="45" y="30" width="5.6" height="5.6" fill="#b8d28c"/><rect x="50" y="30" width="5.6" height="5.6" fill="#bfd183"/><rect x="55" y="30" width="5.6" height="5.6" fill="#c1d181"/><rect x="60" y="30" width="5.6" height="5.6" fill="#bed185"/><rect x="65" y="30" width="5.6" height="5.6" fill="#b5d28f"/><rect x="70" y="30" width="5.6" height="5.6" fill="#a8cd9d"/><rect x="75" y="30" width="5.6" height="5.6" fill="#97c0ad"/><rect x="80" y="30" width="5.6" height="5.6" fill="#85afbe"/><rect x="85" y="30" width="5.6" height="5.6" fill="#7da0c5"/><rect x="90" y="30" width="5.6" height="5.6" fill="#7e97c9"/><rect x="95" y="30" width="15.6" height="5.6" fill="#8195cb"/><rect x="-10" y="35" width="15.6" height="5.6" fill="#8194cc"/><rect x="5" y="35" width="5.6" height="5.6" fill="#7e97c9"/><rect x="10" y="35" width="5.6" height="5.6" fill="#7d9ec6"/><rect x="15" y="35" width="5.6" height="5.6" fill="#80a6c2"/><rect x="20" y="35" width="5.6" height="5.6" fill="#83acbf"/><rect x="25" y="35" width="5.6" height="5.6" fill="#87b1bd"/><rect x="30" y="35" width="5.6" height="5.6" fill="#8ab6ba"/><rect x="35" y="35" width="5.6" height="5.6" fill="#94bdb1"/><rect x="40" y="35" width="5.6" height="5.6" fill="#a2c8a2"/><rect x="45" y="35" width="5.6" height="5.6" fill="#afd296"/><rect x="50" y="35" width="5.6" height="5.6" fill="#bad189"/><rect x="55" y="35" width="5.6" height="5.6" fill="#c2d180"/><rect x="60" y="35" width="5.6" height="5.6" fill="#c6d17c"/><rect x="65" y="35" width="5.6" height="5.6" fill="#c6d17b"/><rect x="70" y="35" width="5.6" height="5.6" fill="#c5d17d"/><rect x="75" y="35" width="5.6" height="5.6" fill="#bbd188"/><rect x="80" y="35" width="5.6" height="5.6" fill="#aace9b"/><rect x="85" y="35" width="5.6" height="5.6" fill="#97c0ad"/><rect x="90" y="35" width="5.6" height="5.6" fill="#84aebe"/><rect x="95" y="35" width="15.6" height="5.6" fill="#7ea4c3"/><rect x="-10" y="40" width="15.6" height="5.6" fill="#8195cb"/><rect x="5" y="40" width="5.6" height="5.6" fill="#7e97c9"/><rect x="10" y="40" width="5.6" height="5.6" fill="#7d9fc5"/><rect x="15" y="40" width="5.6" height="5.6" fill="#81a8c1"/><rect x="20" y="40" width="5.6" height="5.6" fill="#84adbf"/><rect x="25" y="40" width="5.6" height="5.6" fill="#87b1bd"/><rect x="30" y="40" width="5.6" height="5.6" fill="#88b3bc"/><rect x="35" y="40" width="5.6" height="5.6" fill="#8db8b7"/><rect x="40" y="40" width="5.6" height="5.6" fill="#99c1ac"/><rect x="45" y="40" width="5.6" height="5.6" fill="#a5caa0"/><rect x="50" y="40" width="5.6" height="5.6" fill="#b3d292"/><rect x="55" y="40" width="5.6" height="5.6" fill="#c0d182"/><rect x="60" y="40" width="5.6" height="5.6" fill="#cbd176"/><rect x="65" y="40" width="5.6" height="5.6" fill="#d3d06c"/><rect x="70" y="40" width="5.6" height="5.6" fill="#d9d065"/><rect x="75" y="40" width="5.6" height="5.6" fill="#d9d065"/><rect x="80" y="40" width="5.6" height="5.6" fill="#d2d06d"/><rect x="85" y="40" width="5.6" height="5.6" fill="#c2d180"/><rect x="90" y="40" width="5.6" height="5.6" fill="#abcf9a"/><rect x="95" y="40" width="15.6" height="5.6" fill="#a0c7a4"/><rect x="-10" y="45" width="15.6" height="5.6" fill="#8095cb"/><rect x="5" y="45" width="5.6" height="5.6" fill="#7d98c8"/><rect x="10" y="45" width="5.6" height="5.6" fill="#7da0c5"/><rect x="15" y="45" width="5.6" height="5.6" fill="#81a9c1"/><rect x="20" y="45" width="5.6" height="5.6" fill="#85aebe"/><rect x="25" y="45" width="5.6" height="5.6" fill="#86b0bd"/><rect x="30" y="45" width="5.6" height="5.6" fill="#87b1bc"/><rect x="35" y="45" width="5.6" height="5.6" fill="#89b5bb"/><rect x="40" y="45" width="5.6" height="5.6" fill="#91bbb3"/><rect x="45" y="45" width="5.6" height="5.6" fill="#9dc4a8"/><rect x="50" y="45" width="5.6" height="5.6" fill="#acd099"/><rect x="55" y="45" width="5.6" height="5.6" fill="#bdd186"/><rect x="60" y="45" width="5.6" height="5.6" fill="#ccd174"/><rect x="65" y="45" width="5.6" height="5.6" fill="#dad064"/><rect x="70" y="45" width="5.6" height="5.6" fill="#dfd15e"/><rect x="75" y="45" width="5.6" height="5.6" fill="#e1d15c"/><rect x="80" y="45" width="5.6" height="5.6" fill="#e0d15d"/><rect x="85" y="45" width="5.6" height="5.6" fill="#dbd063"/><rect x="90" y="45" width="5.6" height="5.6" fill="#c6d17c"/><rect x="95" y="45" width="15.6" height="5.6" fill="#bad189"/><rect x="-10" y="50" width="15.6" height="5.6" fill="#8095cb"/><rect x="5" y="50" width="5.6" height="5.6" fill="#7d98c8"/><rect x="10" y="50" width="5.6" height="5.6" fill="#7da0c5"/><rect x="15" y="50" width="5.6" height="5.6" fill="#82aac0"/><rect x="20" y="50" width="5.6" height="5.6" fill="#85aebe"/><rect x="25" y="50" width="5.6" height="5.6" fill="#86b0bd"/><rect x="30" y="50" width="5.6" height="5.6" fill="#86b0bd"/><rect x="35" y="50" width="5.6" height="5.6" fill="#88b3bc"/><rect x="40" y="50" width="5.6" height="5.6" fill="#8bb7b9"/><rect x="45" y="50" width="5.6" height="5.6" fill="#96bfae"/><rect x="50" y="50" width="5.6" height="5.6" fill="#a7cc9e"/><rect x="55" y="50" width="5.6" height="5.6" fill="#b8d28b"/><rect x="60" y="50" width="5.6" height="5.6" fill="#cbd176"/><rect x="65" y="50" width="5.6" height="5.6" fill="#dad064"/><rect x="70" y="50" width="5.6" height="5.6" fill="#e0d15d"/><rect x="75" y="50" width="5.6" height="5.6" fill="#e2d15a"/><rect x="80" y="50" width="5.6" height="5.6" fill="#e2d15a"/><rect x="85" y="50" width="5.6" height="5.6" fill="#ddd060"/><rect x="90" y="50" width="5.6" height="5.6" fill="#cbd175"/><rect x="95" y="50" width="15.6" height="5.6" fill="#c0d182"/><rect x="-10" y="55" width="15.6" height="5.6" fill="#8096ca"/><rect x="5" y="55" width="5.6" height="5.6" fill="#7d98c8"/><rect x="10" y="55" width="5.6" height="5.6" fill="#7da1c4"/><rect x="15" y="55" width="5.6" height="5.6" fill="#82aac0"/><rect x="20" y="55" width="5.6" height="5.6" fill="#85aebe"/><rect x="25" y="55" width="5.6" height="5.6" fill="#86b0bd"/><rect x="30" y="55" width="5.6" height="5.6" fill="#86b0bd"/><rect x="35" y="55" width="5.6" height="5.6" fill="#87b1bc"/><rect x="40" y="55" width="5.6" height="5.6" fill="#89b4bb"/><rect x="45" y="55" width="5.6" height="5.6" fill="#90bbb4"/><rect x="50" y="55" width="5.6" height="5.6" fill="#9fc6a5"/><rect x="55" y="55" width="5.6" height="5.6" fill="#b0d295"/><rect x="60" y="55" width="5.6" height="5.6" fill="#c4d17d"/><rect x="65" y="55" width="5.6" height="5.6" fill="#d6d069"/><rect x="70" y="55" width="5.6" height="5.6" fill="#ded15f"/><rect x="75" y="55" width="5.6" height="5.6" fill="#e1d15c"/><rect x="80" y="55" width="5.6" height="5.6" fill="#dfd15d"/><rect x="85" y="55" width="5.6" height="5.6" fill="#dad064"/><rect x="90" y="55" width="5.6" height="5.6" fill="#c3d17f"/><rect x="95" y="55" width="15.6" height="5.6" fill="#b7d28d"/><rect x="-10" y="60" width="15.6" height="5.6" fill="#8096ca"/><rect x="5" y="60" width="5.6" height="5.6" fill="#7d98c8"/><rect x="10" y="60" width="5.6" height="5.6" fill="#7da1c4"/><rect x="15" y="60" width="5.6" height="5.6" fill="#82aac0"/><rect x="20" y="60" width="5.6" height="5.6" fill="#85aebe"/><rect x="25" y="60" width="5.6" height="5.6" fill="#86b0bd"/><rect x="30" y="60" width="5.6" height="5.6" fill="#86b0bd"/><rect x="35" y="60" width="5.6" height="5.6" fill="#87b1bd"/><rect x="40" y="60" width="5.6" height="5.6" fill="#88b2bc"/><rect x="45" y="60" width="5.6" height="5.6" fill="#8cb7b8"/><rect x="50" y="60" width="5.6" height="5.6" fill="#96bfae"/><rect x="55" y="60" width="5.6" height="5.6" fill="#a5caa0"/><rect x="60" y="60" width="5.6" height="5.6" fill="#b8d28b"/><rect x="65" y="60" width="5.6" height="5.6" fill="#cad176"/><rect x="70" y="60" width="5.6" height="5.6" fill="#d9d066"/><rect x="75" y="60" width="5.6" height="5.6" fill="#dbd062"/><rect x="80" y="60" width="5.6" height="5.6" fill="#d7d067"/><rect x="85" y="60" width="5.6" height="5.6" fill="#c7d17a"/><rect x="90" y="60" width="5.6" height="5.6" fill="#acd099"/><rect x="95" y="60" width="15.6" height="5.6" fill="#a1c7a4"/><rect x="-10" y="65" width="15.6" height="5.6" fill="#8095cb"/><rect x="5" y="65" width="5.6" height="5.6" fill="#7d98c8"/><rect x="10" y="65" width="5.6" height="5.6" fill="#7da0c5"/><rect x="15" y="65" width="5.6" height="5.6" fill="#82aac0"/><rect x="20" y="65" width="5.6" height="5.6" fill="#85aebe"/><rect x="25" y="65" width="5.6" height="5.6" fill="#86b0bd"/><rect x="30" y="65" width="5.6" height="5.6" fill="#86b0bd"/><rect x="35" y="65" width="5.6" height="5.6" fill="#87b1bd"/><rect x="40" y="65" width="5.6" height="5.6" fill="#87b1bd"/><rect x="45" y="65" width="5.6" height="5.6" fill="#88b4bb"/><rect x="50" y="65" width="5.6" height="5.6" fill="#8db8b7"/><rect x="55" y="65" width="5.6" height="5.6" fill="#98c0ad"/><rect x="60" y="65" width="5.6" height="5.6" fill="#a6cb9e"/><rect x="65" y="65" width="5.6" height="5.6" fill="#b3d291"/><rect x="70" y="65" width="5.6" height="5.6" fill="#bed185"/><rect x="75" y="65" width="5.6" height="5.6" fill="#bfd183"/><rect x="80" y="65" width="5.6" height="5.6" fill="#b7d28d"/><rect x="85" y="65" width="5.6" height="5.6" fill="#a7cc9e"/><rect x="90" y="65" width="5.6" height="5.6" fill="#91bbb3"/><rect x="95" y="65" width="15.6" height="5.6" fill="#88b2bc"/><rect x="-10" y="70" width="15.6" height="5.6" fill="#8095cb"/><rect x="5" y="70" width="5.6" height="5.6" fill="#7d98c8"/><rect x="10" y="70" width="5.6" height="5.6" fill="#7da0c5"/><rect x="15" y="70" width="5.6" height="5.6" fill="#82a9c0"/><rect x="20" y="70" width="5.6" height="5.6" fill="#85afbe"/><rect x="25" y="70" width="5.6" height="5.6" fill="#87b2bc"/><rect x="30" y="70" width="5.6" height="5.6" fill="#87b2bc"/><rect x="35" y="70" width="5.6" height="5.6" fill="#87b1bd"/><rect x="40" y="70" width="5.6" height="5.6" fill="#86b0bd"/><rect x="45" y="70" width="5.6" height="5.6" fill="#86b0bd"/><rect x="50" y="70" width="5.6" height="5.6" fill="#86b0bd"/><rect x="55" y="70" width="5.6" height="5.6" fill="#89b4bb"/><rect x="60" y="70" width="5.6" height="5.6" fill="#8fbab5"/><rect x="65" y="70" width="5.6" height="5.6" fill="#94beb0"/><rect x="70" y="70" width="5.6" height="5.6" fill="#97c0ad"/><rect x="75" y="70" width="5.6" height="5.6" fill="#94beb0"/><rect x="80" y="70" width="5.6" height="5.6" fill="#8bb7b9"/><rect x="85" y="70" width="5.6" height="5.6" fill="#84acbf"/><rect x="90" y="70" width="5.6" height="5.6" fill="#7da0c5"/><rect x="95" y="70" width="15.6" height="5.6" fill="#7d9dc6"/><rect x="-10" y="75" width="15.6" height="5.6" fill="#8194cc"/><rect x="5" y="75" width="5.6" height="5.6" fill="#7e97c9"/><rect x="10" y="75" width="5.6" height="5.6" fill="#7d9ec5"/><rect x="15" y="75" width="5.6" height="5.6" fill="#80a6c2"/><rect x="20" y="75" width="5.6" height="5.6" fill="#84adbe"/><rect x="25" y="75" width="5.6" height="5.6" fill="#87b1bd"/><rect x="30" y="75" width="5.6" height="5.6" fill="#87b1bc"/><rect x="35" y="75" width="5.6" height="5.6" fill="#86b0bd"/><rect x="40" y="75" width="5.6" height="5.6" fill="#85aebe"/><rect x="45" y="75" width="5.6" height="5.6" fill="#83abbf"/><rect x="50" y="75" width="5.6" height="5.6" fill="#81a9c1"/><rect x="55" y="75" width="5.6" height="5.6" fill="#81a8c1"/><rect x="60" y="75" width="5.6" height="5.6" fill="#81a9c1"/><rect x="65" y="75" width="5.6" height="5.6" fill="#81a8c1"/><rect x="70" y="75" width="5.6" height="5.6" fill="#80a6c2"/><rect x="75" y="75" width="5.6" height="5.6" fill="#7da1c4"/><rect x="80" y="75" width="5.6" height="5.6" fill="#7d9dc6"/><rect x="85" y="75" width="5.6" height="5.6" fill="#7d98c8"/><rect x="90" y="75" width="5.6" height="5.6" fill="#8195cb"/><rect x="95" y="75" width="15.6" height="5.6" fill="#8393cd"/><rect x="-10" y="80" width="15.6" height="5.6" fill="#8393cd"/><rect x="5" y="80" width="5.6" height="5.6" fill="#8095cb"/><rect x="10" y="80" width="5.6" height="5.6" fill="#7d9bc7"/><rect x="15" y="80" width="5.6" height="5.6" fill="#7da2c4"/><rect x="20" y="80" width="5.6" height="5.6" fill="#82a9c0"/><rect x="25" y="80" width="5.6" height="5.6" fill="#85aebe"/><rect x="30" y="80" width="5.6" height="5.6" fill="#86b0bd"/><rect x="35" y="80" width="5.6" height="5.6" fill="#85afbe"/><rect x="40" y="80" width="5.6" height="5.6" fill="#83abbf"/><rect x="45" y="80" width="5.6" height="5.6" fill="#80a7c2"/><rect x="50" y="80" width="5.6" height="5.6" fill="#7da2c4"/><rect x="55" y="80" width="5.6" height="5.6" fill="#7d9fc5"/><rect x="60" y="80" width="5.6" height="5.6" fill="#7d9dc6"/><rect x="65" y="80" width="5.6" height="5.6" fill="#7d9bc7"/><rect x="70" y="80" width="5.6" height="5.6" fill="#7d98c8"/><rect x="75" y="80" width="5.6" height="5.6" fill="#8095cb"/><rect x="80" y="80" width="5.6" height="5.6" fill="#8392ce"/><rect x="85" y="80" width="5.6" height="5.6" fill="#878fd1"/><rect x="90" y="80" width="5.6" height="5.6" fill="#8a8cd4"/><rect x="95" y="80" width="15.6" height="5.6" fill="#8b8bd4"/><rect x="-10" y="85" width="15.6" height="5.6" fill="#8591cf"/><rect x="5" y="85" width="5.6" height="5.6" fill="#8293cd"/><rect x="10" y="85" width="5.6" height="5.6" fill="#7e97c9"/><rect x="15" y="85" width="5.6" height="5.6" fill="#7d9dc6"/><rect x="20" y="85" width="5.6" height="5.6" fill="#7da1c4"/><rect x="25" y="85" width="5.6" height="5.6" fill="#7fa6c2"/><rect x="30" y="85" width="5.6" height="5.6" fill="#81a8c1"/><rect x="35" y="85" width="5.6" height="5.6" fill="#80a6c2"/><rect x="40" y="85" width="5.6" height="5.6" fill="#7da2c4"/><rect x="45" y="85" width="5.6" height="5.6" fill="#7d9fc5"/><rect x="50" y="85" width="5.6" height="5.6" fill="#7d9cc6"/><rect x="55" y="85" width="5.6" height="5.6" fill="#7d98c8"/><rect x="60" y="85" width="5.6" height="5.6" fill="#7f96ca"/><rect x="65" y="85" width="5.6" height="5.6" fill="#8194cc"/><rect x="70" y="85" width="5.6" height="5.6" fill="#8492ce"/><rect x="75" y="85" width="5.6" height="5.6" fill="#878fd1"/><rect x="80" y="85" width="5.6" height="5.6" fill="#8a8cd4"/><rect x="85" y="85" width="5.6" height="5.6" fill="#8d88d5"/><rect x="90" y="85" width="5.6" height="5.6" fill="#8f86d5"/><rect x="95" y="85" width="15.6" height="5.6" fill="#9084d6"/><rect x="-10" y="90" width="15.6" height="5.6" fill="#878ed2"/><rect x="5" y="90" width="5.6" height="5.6" fill="#8690d0"/><rect x="10" y="90" width="5.6" height="5.6" fill="#8294cc"/><rect x="15" y="90" width="5.6" height="5.6" fill="#7f97c9"/><rect x="20" y="90" width="5.6" height="5.6" fill="#7d9ac7"/><rect x="25" y="90" width="5.6" height="5.6" fill="#7d9cc6"/><rect x="30" y="90" width="5.6" height="5.6" fill="#7d9dc6"/><rect x="35" y="90" width="5.6" height="5.6" fill="#7d9dc6"/><rect x="40" y="90" width="5.6" height="5.6" fill="#7d9bc7"/><rect x="45" y="90" width="5.6" height="5.6" fill="#7d98c8"/><rect x="50" y="90" width="5.6" height="5.6" fill="#8096ca"/><rect x="55" y="90" width="5.6" height="5.6" fill="#8293cd"/><rect x="60" y="90" width="5.6" height="5.6" fill="#8591cf"/><rect x="65" y="90" width="5.6" height="5.6" fill="#878fd1"/><rect x="70" y="90" width="5.6" height="5.6" fill="#8a8cd4"/><rect x="75" y="90" width="5.6" height="5.6" fill="#8c89d5"/><rect x="80" y="90" width="5.6" height="5.6" fill="#8f86d5"/><rect x="85" y="90" width="5.6" height="5.6" fill="#9084d6"/><rect x="90" y="90" width="5.6" height="5.6" fill="#9282d6"/><rect x="95" y="90" width="15.6" height="5.6" fill="#9282d6"/><rect x="-10" y="95" width="15.6" height="15.6" fill="#898dd3"/><rect x="5" y="95" width="5.6" height="15.6" fill="#878fd1"/><rect x="10" y="95" width="5.6" height="15.6" fill="#8492ce"/><rect x="15" y="95" width="5.6" height="15.6" fill="#8194cc"/><rect x="20" y="95" width="5.6" height="15.6" fill="#7e97c9"/><rect x="25" y="95" width="5.6" height="15.6" fill="#7d98c8"/><rect x="30" y="95" width="5.6" height="15.6" fill="#7d9ac7"/><rect x="35" y="95" width="5.6" height="15.6" fill="#7d99c8"/><rect x="40" y="95" width="5.6" height="15.6" fill="#7e97c9"/><rect x="45" y="95" width="5.6" height="15.6" fill="#8096ca"/><rect x="50" y="95" width="5.6" height="15.6" fill="#8293cd"/><rect x="55" y="95" width="5.6" height="15.6" fill="#8591cf"/><rect x="60" y="95" width="5.6" height="15.6" fill="#878ed2"/><rect x="65" y="95" width="5.6" height="15.6" fill="#8a8cd4"/><rect x="70" y="95" width="5.6" height="15.6" fill="#8c89d5"/><rect x="75" y="95" width="5.6" height="15.6" fill="#8f86d5"/><rect x="80" y="95" width="5.6" height="15.6" fill="#9184d6"/><rect x="85" y="95" width="5.6" height="15.6" fill="#9282d6"/><rect x="90" y="95" width="5.6" height="15.6" fill="#9381d6"/><rect x="95" y="95" width="15.6" height="15.6" fill="#9480d6"/></g></g></g><g opacity="0.3" filter="url(#texb)"><polygon points="0.19,22.11 4.89,13.19 13.11,6.85 24.85,3.32 36.59,2.15 50.69,4.5 62.43,9.2 69.47,16.24 72.29,24.46 76.99,31.51 84.03,37.38 92.96,42.78 100.94,47.48 100.94,69.08 92.96,74.25 81.22,76.6 69.47,77.77 60.55,81.29 55.85,87.87 45.99,90.69 34.25,85.99 22.5,78.94 13.11,71.43 6.07,64.38 0.19,57.34" fill="#000"/></g><g transform="scale(0.98)" opacity="0.3"><use href="#fib"/></g></g>
<text x="416.6" y="256.1" font-size="8.3" text-anchor="middle" font-weight="bold" fill="#111" >original H&amp;E image</text>
<text x="479.1" y="201.0" font-size="8.3" font-weight="bold" fill="#111">1024px-based <tspan font-style="italic">NBT-Classifier</tspan></text>
<text x="478.9" y="319.3" font-size="8.3" text-anchor="start" font-weight="bold" fill="#111" >HistoROI</text>
</g>
</svg></body></html>
